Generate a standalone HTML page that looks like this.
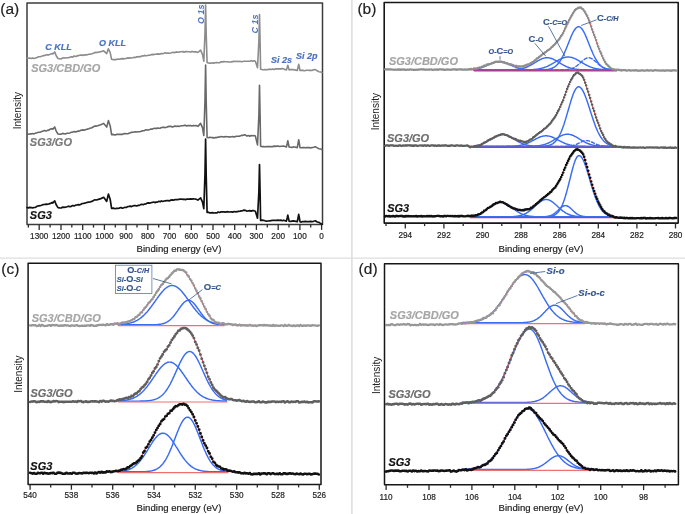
<!DOCTYPE html>
<html><head><meta charset="utf-8"><title>XPS spectra</title>
<style>html,body{margin:0;padding:0;background:#fff;width:685px;height:514px;overflow:hidden}svg{display:block;font-family:"Liberation Sans",sans-serif;filter:blur(0.35px)}</style>
</head><body><svg width="685" height="514" viewBox="0 0 685 514" font-family="Liberation Sans, sans-serif"><rect x="0" y="0" width="685" height="514" fill="#fff"/><line x1="351.9" y1="0" x2="351.9" y2="514" stroke="#dcdcdc" stroke-width="1.5"/><line x1="0" y1="258.1" x2="685" y2="258.1" stroke="#dedede" stroke-width="1.35"/><text x="0.3" y="14" font-size="15.5" fill="#222" stroke="#222" stroke-width="0.18" font-weight="normal" font-style="normal" text-anchor="start" >(a)</text><rect x="27" y="3" width="295.5" height="221.6" fill="none" stroke="#3c3c3c" stroke-width="1.5" stroke-linejoin="round"/><line x1="321.6" y1="224.6" x2="321.6" y2="229.9" stroke="#2b2b2b" stroke-width="1.3"/><text x="321.6" y="238.8" font-size="8.2" fill="#222" stroke="#222" stroke-width="0.18" font-weight="normal" font-style="normal" text-anchor="middle" >0</text><line x1="310.7" y1="224.6" x2="310.7" y2="227.6" stroke="#2b2b2b" stroke-width="1.3"/><line x1="299.9" y1="224.6" x2="299.9" y2="229.9" stroke="#2b2b2b" stroke-width="1.3"/><text x="299.9" y="238.8" font-size="8.2" fill="#222" stroke="#222" stroke-width="0.18" font-weight="normal" font-style="normal" text-anchor="middle" >100</text><line x1="289" y1="224.6" x2="289" y2="227.6" stroke="#2b2b2b" stroke-width="1.3"/><line x1="278.2" y1="224.6" x2="278.2" y2="229.9" stroke="#2b2b2b" stroke-width="1.3"/><text x="278.2" y="238.8" font-size="8.2" fill="#222" stroke="#222" stroke-width="0.18" font-weight="normal" font-style="normal" text-anchor="middle" >200</text><line x1="267.3" y1="224.6" x2="267.3" y2="227.6" stroke="#2b2b2b" stroke-width="1.3"/><line x1="256.4" y1="224.6" x2="256.4" y2="229.9" stroke="#2b2b2b" stroke-width="1.3"/><text x="256.4" y="238.8" font-size="8.2" fill="#222" stroke="#222" stroke-width="0.18" font-weight="normal" font-style="normal" text-anchor="middle" >300</text><line x1="245.6" y1="224.6" x2="245.6" y2="227.6" stroke="#2b2b2b" stroke-width="1.3"/><line x1="234.7" y1="224.6" x2="234.7" y2="229.9" stroke="#2b2b2b" stroke-width="1.3"/><text x="234.7" y="238.8" font-size="8.2" fill="#222" stroke="#222" stroke-width="0.18" font-weight="normal" font-style="normal" text-anchor="middle" >400</text><line x1="223.9" y1="224.6" x2="223.9" y2="227.6" stroke="#2b2b2b" stroke-width="1.3"/><line x1="213" y1="224.6" x2="213" y2="229.9" stroke="#2b2b2b" stroke-width="1.3"/><text x="213" y="238.8" font-size="8.2" fill="#222" stroke="#222" stroke-width="0.18" font-weight="normal" font-style="normal" text-anchor="middle" >500</text><line x1="202.1" y1="224.6" x2="202.1" y2="227.6" stroke="#2b2b2b" stroke-width="1.3"/><line x1="191.3" y1="224.6" x2="191.3" y2="229.9" stroke="#2b2b2b" stroke-width="1.3"/><text x="191.3" y="238.8" font-size="8.2" fill="#222" stroke="#222" stroke-width="0.18" font-weight="normal" font-style="normal" text-anchor="middle" >600</text><line x1="180.4" y1="224.6" x2="180.4" y2="227.6" stroke="#2b2b2b" stroke-width="1.3"/><line x1="169.6" y1="224.6" x2="169.6" y2="229.9" stroke="#2b2b2b" stroke-width="1.3"/><text x="169.6" y="238.8" font-size="8.2" fill="#222" stroke="#222" stroke-width="0.18" font-weight="normal" font-style="normal" text-anchor="middle" >700</text><line x1="158.7" y1="224.6" x2="158.7" y2="227.6" stroke="#2b2b2b" stroke-width="1.3"/><line x1="147.8" y1="224.6" x2="147.8" y2="229.9" stroke="#2b2b2b" stroke-width="1.3"/><text x="147.8" y="238.8" font-size="8.2" fill="#222" stroke="#222" stroke-width="0.18" font-weight="normal" font-style="normal" text-anchor="middle" >800</text><line x1="137" y1="224.6" x2="137" y2="227.6" stroke="#2b2b2b" stroke-width="1.3"/><line x1="126.1" y1="224.6" x2="126.1" y2="229.9" stroke="#2b2b2b" stroke-width="1.3"/><text x="126.1" y="238.8" font-size="8.2" fill="#222" stroke="#222" stroke-width="0.18" font-weight="normal" font-style="normal" text-anchor="middle" >900</text><line x1="115.3" y1="224.6" x2="115.3" y2="227.6" stroke="#2b2b2b" stroke-width="1.3"/><line x1="104.4" y1="224.6" x2="104.4" y2="229.9" stroke="#2b2b2b" stroke-width="1.3"/><text x="104.4" y="238.8" font-size="8.2" fill="#222" stroke="#222" stroke-width="0.18" font-weight="normal" font-style="normal" text-anchor="middle" >1000</text><line x1="93.5" y1="224.6" x2="93.5" y2="227.6" stroke="#2b2b2b" stroke-width="1.3"/><line x1="82.7" y1="224.6" x2="82.7" y2="229.9" stroke="#2b2b2b" stroke-width="1.3"/><text x="82.7" y="238.8" font-size="8.2" fill="#222" stroke="#222" stroke-width="0.18" font-weight="normal" font-style="normal" text-anchor="middle" >1100</text><line x1="71.8" y1="224.6" x2="71.8" y2="227.6" stroke="#2b2b2b" stroke-width="1.3"/><line x1="61" y1="224.6" x2="61" y2="229.9" stroke="#2b2b2b" stroke-width="1.3"/><text x="61" y="238.8" font-size="8.2" fill="#222" stroke="#222" stroke-width="0.18" font-weight="normal" font-style="normal" text-anchor="middle" >1200</text><line x1="50.1" y1="224.6" x2="50.1" y2="227.6" stroke="#2b2b2b" stroke-width="1.3"/><line x1="39.2" y1="224.6" x2="39.2" y2="229.9" stroke="#2b2b2b" stroke-width="1.3"/><text x="39.2" y="238.8" font-size="8.2" fill="#222" stroke="#222" stroke-width="0.18" font-weight="normal" font-style="normal" text-anchor="middle" >1300</text><line x1="28.4" y1="224.6" x2="28.4" y2="227.6" stroke="#2b2b2b" stroke-width="1.3"/><text x="179" y="252" font-size="9.6" fill="#222" stroke="#222" stroke-width="0.18" font-weight="normal" font-style="normal" text-anchor="middle" >Binding energy (eV)</text><text x="20.6" y="110.7" font-size="10" fill="#222" text-anchor="middle" transform="rotate(-90 20.6 110.7)">Intensity</text><path d="M27 58.4 L28.4 58.2 L29.8 58.1 L31.2 58.5 L32.6 58 L34 58.4 L35.5 58 L37 57.4 L38.6 56.7 L40.1 56.7 L41.6 56.3 L43.1 55.6 L44.5 55.6 L46 55 L47.4 54.8 L48.9 54.9 L50.5 54.1 L52.2 53.5 L52.9 54 L54.7 51.9 L56.2 55.8 L58 58.5 L59.8 58.8 L61.2 58.9 L62.7 58 L64.1 57.9 L65.6 58 L67 57.7 L68.4 57.8 L69.9 57.3 L71.3 56.8 L72.7 57.1 L74.1 56 L75.6 56.5 L77 55.9 L78.3 55.6 L79.6 55.3 L80.9 55.1 L82.2 55.1 L83.5 55.4 L84.8 54.7 L86.1 54.9 L87.4 54.7 L88.7 54.3 L90 54.3 L91.8 53.8 L93.5 53.2 L94.9 52.6 L96.2 52.4 L97.6 52.5 L99.2 51.9 L100.8 51.8 L103.7 50.8 L106.7 53.6 L108.4 48.8 L110.2 52.6 L111.6 59.3 L113.3 59.6 L115.1 59.6 L116.5 59.4 L117.9 59.1 L119.3 59.2 L120.8 58.9 L122.2 58.6 L123.6 58.9 L125 58.5 L126.3 58.5 L127.6 57.9 L128.9 58.1 L130.2 57.9 L131.5 58 L132.8 57.7 L134.1 57.2 L135.4 57.6 L136.7 56.7 L138 56.9 L139.3 56.6 L140.6 56.7 L141.9 55.9 L143.2 56 L144.5 55.4 L145.8 55.7 L147.1 55.6 L148.4 55.2 L149.7 55.2 L151 54.7 L152.3 54.4 L153.6 54.6 L154.9 54.3 L156.2 54.2 L157.5 53.9 L158.8 54.1 L160.1 54.1 L161.4 53.5 L162.7 53.6 L164 53.3 L165.4 52.8 L166.7 53.3 L168.1 53.1 L169.4 53.3 L170.8 53 L172.2 52.5 L173.5 52.4 L174.9 52.6 L176.2 51.9 L177.6 52.2 L178.9 52.1 L180.2 51.8 L181.5 51.7 L182.8 51.6 L184.1 52.2 L185.4 51.6 L186.7 51.6 L188 51.8 L189.3 51.7 L190.7 52.1 L192 51.4 L193.3 51.8 L194.7 51.9 L196 51.8 L197.9 52.5 L200.6 50.2 L202.5 54.4 L203.8 61.2 L205 33.1 L205.6 5.1 L206.2 33.9 L207.1 62.6 L208.4 63 L209.8 63.1 L211.1 63.2 L212.5 62.8 L213.8 63.1 L215.2 62.8 L216.7 62.6 L218.2 62.8 L219.6 62.7 L221.1 61.8 L222.5 61.9 L224 61.6 L225.4 61.7 L226.9 61.7 L228.4 61.9 L229.8 62 L231.3 61.9 L232.8 61.6 L234.2 61.3 L235.7 61.5 L237.1 61.4 L238.6 61.5 L240 61.3 L241.3 61.7 L242.7 61.5 L244 61.3 L245.3 61.3 L247 61.3 L248.4 61.3 L249.8 61.3 L251.2 60.6 L252.6 61.3 L254 60.8 L255.4 61.3 L257.5 67.8 L258.9 41.1 L259.5 14.5 L260.1 42 L260.6 69.2 L262.1 69.6 L263.5 69.8 L265 69.6 L266.5 69.8 L268 69.4 L269.5 69.4 L271 69.4 L272.4 69 L273.8 69.4 L275.2 68.9 L276.6 68.8 L278.1 68.9 L279.5 68.8 L280.9 68.9 L282.3 68.6 L283.7 69 L286.4 69.9 L287.2 67.5 L287.8 65.3 L288.4 67.5 L289.1 69.9 L290.5 69.5 L291.9 69.6 L293.2 69.5 L294.6 69.9 L297.3 70.5 L298.1 67 L298.7 64.3 L299.3 67 L300 70.5 L301.3 70.4 L302.6 70.1 L303.9 70.8 L305.2 70.6 L306.6 70.2 L307.9 70.3 L309.2 70.4 L310.5 70.4 L311.8 70.5 L313.6 69.7 L315.4 69.6 L317.2 70.8 L319 71.7 L320.8 72 L322 72.6" fill="none" stroke="#8c8c8c" stroke-width="1.6" stroke-linejoin="round" stroke-linecap="round" /><path d="M27 133.9 L28.4 134.3 L29.8 133.9 L31.2 133.9 L32.6 133.5 L34 133.9 L35.5 133.1 L37 132.8 L38.6 132.3 L40.1 132.3 L41.6 131.6 L43.1 131 L44.5 130.6 L46 131.1 L47.4 130.4 L48.9 130.1 L50.5 129 L52.2 128.6 L52.9 129.2 L54.7 126.9 L56.2 131.1 L58 134 L59.8 134.3 L61.2 134.1 L62.7 133.4 L64.1 133.7 L65.6 133.9 L67 133.2 L68.4 133.3 L69.9 132.9 L71.3 132.2 L72.7 132.1 L74.1 131.6 L75.6 131.9 L77 131.4 L78.3 131.1 L79.6 131 L80.9 130.3 L82.2 129.9 L83.5 130.1 L84.8 129.9 L86.1 129.5 L87.4 129.1 L88.7 128.8 L90 128.2 L91.8 127.7 L93.5 126.7 L94.9 126.1 L96.2 126.1 L97.6 125.8 L99.2 125.2 L100.8 124.8 L103.7 123.4 L106.7 127.1 L108.4 120.6 L110.2 125.9 L111.6 134.7 L113.3 134.4 L115.1 135 L116.5 134.4 L117.9 134.4 L119.3 134.2 L120.8 134.4 L122.2 134.4 L123.6 133.8 L125 133.6 L126.3 133.8 L127.6 133.7 L128.9 133.4 L130.2 132.7 L131.5 132.4 L132.8 132.2 L134.1 132 L135.4 131.8 L136.7 132 L138 131.7 L139.3 131.8 L140.6 131.5 L141.9 130.9 L143.2 130.8 L144.5 130.6 L145.8 129.7 L147.1 130 L148.4 129.9 L149.7 129.5 L151 129 L152.3 129.1 L153.6 128.6 L154.9 128.2 L156.2 128.6 L157.5 128 L158.8 128.3 L160.1 128.2 L161.4 127.5 L162.7 127.4 L164 127.3 L165.4 127.6 L166.7 127.2 L168.1 126.6 L169.4 126.4 L170.8 126.3 L172.2 126.9 L173.5 126.7 L174.9 125.9 L176.2 126.4 L177.6 126 L178.9 126.4 L180.2 126 L181.5 125.7 L182.8 125.8 L184.1 125.4 L185.4 125.2 L186.7 126 L188 125.5 L189.3 125.6 L190.7 125.5 L192 125.9 L193.3 125.4 L194.7 125.8 L196 125.5 L197.9 126.4 L200.6 123.4 L202.5 127.6 L203.8 135.5 L205 100.2 L205.6 65 L206.2 101.2 L207.1 137.4 L208.4 137.8 L209.8 137.3 L211.1 137.5 L212.5 137.6 L213.8 137.9 L215.2 137.5 L216.7 137.6 L218.2 137.1 L219.6 137 L221.1 136.6 L222.5 136.7 L224 137.1 L225.4 136.6 L226.9 136.7 L228.4 136.8 L229.8 137.1 L231.3 136.7 L232.8 136.5 L234.2 136.9 L235.7 136.4 L237.1 136.3 L238.6 136.2 L240 136.1 L241.3 135.4 L242.7 135.4 L244 134.9 L245.3 134.9 L247 136.1 L248.4 135.6 L249.8 136.2 L251.2 135.5 L252.6 135.7 L254 135.6 L255.4 136.1 L257.5 144.9 L258.9 115.1 L259.5 85.3 L260.1 116 L260.6 146.3 L262.1 146.6 L263.5 146.6 L265 146.7 L266.5 146.5 L268 146.6 L269.5 146.6 L271 146.5 L272.4 146.7 L273.8 146.1 L275.2 146.4 L276.6 146.1 L278.1 146.1 L279.5 146.5 L280.9 146.2 L282.3 146.2 L283.7 146.1 L286.4 147 L287.2 143.7 L287.8 140.7 L288.4 143.7 L289.1 147 L290.5 147.2 L291.9 147.4 L293.2 146.9 L294.6 147 L297.3 147.6 L298.1 143.2 L298.7 139.7 L299.3 143.2 L300 147.6 L301.3 147.7 L302.6 147.6 L303.9 147.6 L305.2 147.8 L306.6 147.6 L307.9 147.6 L309.2 147.6 L310.5 148 L311.8 147.6 L313.6 147.3 L315.4 146.7 L317.2 147.9 L319 148.8 L320.8 149 L322 149.6" fill="none" stroke="#686868" stroke-width="1.6" stroke-linejoin="round" stroke-linecap="round" /><path d="M27 207.5 L28.4 207.9 L29.8 207.3 L31.2 207.6 L32.6 207.9 L34 207.5 L35.5 207.4 L37 206.3 L38.6 205.8 L40.1 205.7 L41.6 205.3 L43.1 204.6 L44.5 204.5 L46 204.1 L47.4 204.3 L48.9 203.9 L50.5 203.4 L52.2 202.4 L52.9 203 L54.7 200.8 L56.2 204.8 L58 207.6 L59.8 207.9 L61.2 208 L62.7 207.1 L64.1 207.4 L65.6 207.2 L67 206.8 L68.4 206.2 L69.9 206.6 L71.3 206.4 L72.7 205.5 L74.1 205.9 L75.6 205.2 L77 205 L78.3 204.7 L79.6 204.8 L80.9 204.4 L82.2 203.5 L83.5 203.4 L84.8 203.2 L86.1 202.7 L87.4 202.3 L88.7 202.1 L90 202 L91.8 201.4 L93.5 200.5 L94.9 199.8 L96.2 200 L97.6 199.6 L99.2 199.1 L100.8 198.6 L103.7 197.3 L106.7 201.4 L108.4 194.1 L110.2 199.5 L111.6 208.4 L113.3 208.1 L115.1 208.7 L116.5 208.3 L117.9 208.4 L119.3 208.1 L120.8 207.5 L122.2 208.1 L123.6 207.8 L125 207.3 L126.3 207.5 L127.6 206.6 L128.9 206.5 L130.2 206.1 L131.5 206.6 L132.8 206 L134.1 205.6 L135.4 205.7 L136.7 206 L138 205.4 L139.3 205.4 L140.6 204.6 L141.9 204.3 L143.2 204.7 L144.5 204.1 L145.8 204 L147.1 203.1 L148.4 202.8 L149.7 203.1 L151 202.7 L152.3 202.5 L153.6 202 L154.9 202.6 L156.2 202.1 L157.5 202.1 L158.8 201.3 L160.1 201.8 L161.4 200.9 L162.7 201.5 L164 201 L165.4 200.8 L166.7 200.6 L168.1 200.7 L169.4 200.9 L170.8 200.1 L172.2 199.9 L173.5 200.1 L174.9 199.7 L176.2 199.5 L177.6 199.7 L178.9 199.3 L180.2 199.2 L181.5 199.2 L182.8 199.3 L184.1 199.2 L185.4 199.6 L186.7 199.1 L188 199.2 L189.3 199.2 L190.7 198.9 L192 199.1 L193.3 198.8 L194.7 199 L196 199.2 L197.9 200.1 L200.6 197.9 L202.5 202.1 L203.8 208.7 L205 173.9 L205.6 139.1 L206.2 175.8 L207.1 212.5 L208.4 212.2 L209.8 212.9 L211.1 212.8 L212.5 212.6 L213.8 213 L215.2 212.8 L216.7 213 L218.2 212 L219.6 212.5 L221.1 211.9 L222.5 211.8 L224 211.8 L225.4 212.1 L226.9 211.7 L228.4 211.8 L229.8 212 L231.3 211.8 L232.8 212.1 L234.2 211.5 L235.7 211.8 L237.1 211.6 L238.6 211.4 L240 211.2 L241.3 210.9 L242.7 210.6 L244 210.1 L245.3 210.3 L247 211.2 L248.4 210.8 L249.8 210.6 L251.2 211.1 L252.6 210.6 L254 210.7 L255.4 211.2 L257.5 218.2 L258.9 191.3 L259.5 164.5 L260.1 192.7 L260.6 220.4 L262.1 220.2 L263.5 220.3 L265 220.8 L266.5 221.1 L268 221 L269.5 220.8 L271 220.6 L272.4 220.4 L273.8 220.3 L275.2 220.3 L276.6 220.4 L278.1 220.1 L279.5 220.3 L280.9 220.1 L282.3 220.7 L283.7 220.2 L286.4 221.1 L287.2 218 L287.8 215.2 L288.4 218 L289.1 221.1 L290.5 221.5 L291.9 221.1 L293.2 220.9 L294.6 221.1 L297.3 221.7 L298.1 217.6 L298.7 214.4 L299.3 217.6 L300 221.7 L301.3 222.1 L302.6 221.5 L303.9 221.6 L305.2 221.3 L306.6 221.6 L307.9 221.7 L309.2 221.7 L310.5 221.4 L311.8 221.7 L313.6 221.3 L315.4 220.8 L317.2 222 L319 222.4 L320.8 223.6 L322 224.2" fill="none" stroke="#111" stroke-width="1.7" stroke-linejoin="round" stroke-linecap="round" /><text x="45.2" y="49.5" font-size="9" fill="#4a72c0" stroke="#4a72c0" stroke-width="0.18" font-weight="bold" font-style="italic" text-anchor="start" >C KLL</text><text x="99" y="46" font-size="9" fill="#4a72c0" stroke="#4a72c0" stroke-width="0.18" font-weight="bold" font-style="italic" text-anchor="start" >O KLL</text><text x="271" y="63.3" font-size="9" fill="#4a72c0" stroke="#4a72c0" stroke-width="0.18" font-weight="bold" font-style="italic" text-anchor="start" >Si 2s</text><text x="296" y="59.2" font-size="9" fill="#4a72c0" stroke="#4a72c0" stroke-width="0.18" font-weight="bold" font-style="italic" text-anchor="start" >Si 2p</text><text x="204.4" y="24" font-size="9" fill="#4a72c0" font-weight="bold" font-style="italic" transform="rotate(-90 204.4 24)">O 1s</text><text x="258.1" y="33.4" font-size="9" fill="#4a72c0" font-weight="bold" font-style="italic" transform="rotate(-90 258.1 33.4)">C 1s</text><text x="31.2" y="71.7" font-size="11" fill="#a6a6a6" stroke="#a6a6a6" stroke-width="0.18" font-weight="bold" font-style="italic" text-anchor="start" >SG3/CBD/GO</text><text x="29.8" y="146.3" font-size="11" fill="#7a7a7a" stroke="#7a7a7a" stroke-width="0.18" font-weight="bold" font-style="italic" text-anchor="start" >SG3/GO</text><text x="29.8" y="219" font-size="11" fill="#151515" stroke="#151515" stroke-width="0.18" font-weight="bold" font-style="italic" text-anchor="start" >SG3</text><text x="357.4" y="14" font-size="15.5" fill="#222" stroke="#222" stroke-width="0.18" font-weight="normal" font-style="normal" text-anchor="start" >(b)</text><rect x="384.2" y="2.5" width="294" height="220.6" fill="none" stroke="#161616" stroke-width="1.6" stroke-linejoin="round"/><line x1="675.5" y1="223.1" x2="675.5" y2="228.4" stroke="#2b2b2b" stroke-width="1.3"/><text x="675.5" y="238" font-size="8.2" fill="#222" stroke="#222" stroke-width="0.18" font-weight="normal" font-style="normal" text-anchor="middle" >280</text><line x1="656.2" y1="223.1" x2="656.2" y2="226.1" stroke="#2b2b2b" stroke-width="1.3"/><line x1="636.9" y1="223.1" x2="636.9" y2="228.4" stroke="#2b2b2b" stroke-width="1.3"/><text x="636.9" y="238" font-size="8.2" fill="#222" stroke="#222" stroke-width="0.18" font-weight="normal" font-style="normal" text-anchor="middle" >282</text><line x1="617.6" y1="223.1" x2="617.6" y2="226.1" stroke="#2b2b2b" stroke-width="1.3"/><line x1="598.3" y1="223.1" x2="598.3" y2="228.4" stroke="#2b2b2b" stroke-width="1.3"/><text x="598.3" y="238" font-size="8.2" fill="#222" stroke="#222" stroke-width="0.18" font-weight="normal" font-style="normal" text-anchor="middle" >284</text><line x1="579" y1="223.1" x2="579" y2="226.1" stroke="#2b2b2b" stroke-width="1.3"/><line x1="559.7" y1="223.1" x2="559.7" y2="228.4" stroke="#2b2b2b" stroke-width="1.3"/><text x="559.7" y="238" font-size="8.2" fill="#222" stroke="#222" stroke-width="0.18" font-weight="normal" font-style="normal" text-anchor="middle" >286</text><line x1="540.4" y1="223.1" x2="540.4" y2="226.1" stroke="#2b2b2b" stroke-width="1.3"/><line x1="521.1" y1="223.1" x2="521.1" y2="228.4" stroke="#2b2b2b" stroke-width="1.3"/><text x="521.1" y="238" font-size="8.2" fill="#222" stroke="#222" stroke-width="0.18" font-weight="normal" font-style="normal" text-anchor="middle" >288</text><line x1="501.8" y1="223.1" x2="501.8" y2="226.1" stroke="#2b2b2b" stroke-width="1.3"/><line x1="482.5" y1="223.1" x2="482.5" y2="228.4" stroke="#2b2b2b" stroke-width="1.3"/><text x="482.5" y="238" font-size="8.2" fill="#222" stroke="#222" stroke-width="0.18" font-weight="normal" font-style="normal" text-anchor="middle" >290</text><line x1="463.2" y1="223.1" x2="463.2" y2="226.1" stroke="#2b2b2b" stroke-width="1.3"/><line x1="443.9" y1="223.1" x2="443.9" y2="228.4" stroke="#2b2b2b" stroke-width="1.3"/><text x="443.9" y="238" font-size="8.2" fill="#222" stroke="#222" stroke-width="0.18" font-weight="normal" font-style="normal" text-anchor="middle" >292</text><line x1="424.6" y1="223.1" x2="424.6" y2="226.1" stroke="#2b2b2b" stroke-width="1.3"/><line x1="405.3" y1="223.1" x2="405.3" y2="228.4" stroke="#2b2b2b" stroke-width="1.3"/><text x="405.3" y="238" font-size="8.2" fill="#222" stroke="#222" stroke-width="0.18" font-weight="normal" font-style="normal" text-anchor="middle" >294</text><line x1="386" y1="223.1" x2="386" y2="226.1" stroke="#2b2b2b" stroke-width="1.3"/><text x="541" y="251.6" font-size="9.6" fill="#222" stroke="#222" stroke-width="0.18" font-weight="normal" font-style="normal" text-anchor="middle" >Binding energy (eV)</text><text x="378.8" y="111.7" font-size="10" fill="#222" text-anchor="middle" transform="rotate(-90 378.8 111.7)">Intensity</text><path d="M474 69.9 L474.6 69.9 L475.2 69.9 L475.8 69.9 L476.4 69.9 L477 69.9 L477.6 69.9 L478.2 69.9 L478.8 69.9 L479.4 69.9 L480 69.9 L480.6 69.9 L481.2 69.9 L481.8 69.9 L482.4 69.9 L483 69.9 L483.6 69.9 L484.2 69.9 L484.8 69.9 L485.4 69.9 L486 69.9 L486.6 69.9 L487.2 69.9 L487.8 69.9 L488.4 69.9 L489 69.9 L489.6 69.9 L490.2 69.9 L490.8 69.9 L491.4 69.9 L492 69.9 L492.6 69.9 L493.2 69.9 L493.8 69.9 L494.4 69.9 L495 69.9 L495.6 69.9 L496.2 69.9 L496.8 69.9 L497.4 69.9 L498 69.9 L498.6 69.9 L499.2 69.9 L499.8 69.9 L500.4 69.9 L501 69.9 L501.6 69.9 L502.2 69.9 L502.8 69.9 L503.4 69.9 L504 69.9 L504.6 69.9 L505.2 69.9 L505.8 69.9 L506.4 69.9 L507 69.9 L507.6 69.9 L508.2 69.9 L508.8 69.9 L509.4 69.9 L510 69.9 L510.6 69.9 L511.2 69.9 L511.8 69.9 L512.4 69.9 L513 69.9 L513.6 69.9 L514.2 69.9 L514.8 69.9 L515.4 69.9 L516 69.9 L516.6 69.9 L517.2 69.9 L517.8 69.9 L518.4 69.9 L519 69.9 L519.6 69.9 L520.2 69.9 L520.8 69.9 L521.4 69.9 L522 69.9 L522.6 69.9 L523.2 69.9 L523.8 69.9 L524.4 69.9 L525 69.9 L525.6 69.9 L526.2 69.9 L526.8 69.9 L527.4 69.9 L528 69.9 L528.6 69.9 L529.2 69.9 L529.8 69.9 L530.4 69.9 L531 69.9 L531.6 69.9 L532.2 69.9 L532.8 69.9 L533.4 69.9 L534 69.9 L534.6 69.9 L535.2 69.9 L535.8 69.9 L536.4 69.9 L537 69.9 L537.6 69.9 L538.2 69.9 L538.8 69.9 L539.4 69.9 L540 69.9 L540.6 69.8 L541.2 69.8 L541.8 69.8 L542.4 69.8 L543 69.8 L543.6 69.7 L544.2 69.7 L544.8 69.7 L545.4 69.6 L546 69.6 L546.6 69.5 L547.2 69.4 L547.8 69.4 L548.4 69.3 L549 69.1 L549.6 69 L550.2 68.9 L550.8 68.7 L551.4 68.5 L552 68.3 L552.6 68 L553.2 67.7 L553.8 67.4 L554.4 67 L555 66.6 L555.6 66.2 L556.2 65.7 L556.8 65.1 L557.4 64.5 L558 63.8 L558.6 63.1 L559.2 62.3 L559.8 61.5 L560.4 60.6 L561 59.6 L561.6 58.5 L562.2 57.4 L562.8 56.3 L563.4 55.1 L564 53.8 L564.6 52.4 L565.2 51.1 L565.8 49.6 L566.4 48.2 L567 46.7 L567.6 45.2 L568.2 43.7 L568.8 42.2 L569.4 40.7 L570 39.2 L570.6 37.8 L571.2 36.4 L571.8 35 L572.4 33.7 L573 32.5 L573.6 31.4 L574.2 30.4 L574.8 29.5 L575.4 28.7 L576 28 L576.6 27.5 L577.2 27.1 L577.8 26.8 L578.4 26.7 L579 26.7 L579.6 26.9 L580.2 27.2 L580.8 27.7 L581.4 28.3 L582 29 L582.6 29.8 L583.2 30.8 L583.8 31.9 L584.4 33 L585 34.3 L585.6 35.6 L586.2 37 L586.8 38.4 L587.4 39.9 L588 41.4 L588.6 42.9 L589.2 44.5 L589.8 46 L590.4 47.5 L591 49 L591.6 50.4 L592.2 51.8 L592.8 53.2 L593.4 54.5 L594 55.8 L594.6 57 L595.2 58.1 L595.8 59.2 L596.4 60.2 L597 61.1 L597.6 62 L598.2 62.8 L598.8 63.6 L599.4 64.3 L600 64.9 L600.6 65.5 L601.2 66 L601.8 66.5 L602.4 66.9 L603 67.3 L603.6 67.6 L604.2 67.9 L604.8 68.2 L605.4 68.4 L606 68.6 L606.6 68.8 L607.2 69 L607.8 69.1 L608.4 69.2 L609 69.3 L609.6 69.4 L610.2 69.5 L610.8 69.6 L611.4 69.6 L612 69.7 L612.6 69.7 L613.2 69.7 L613.8 69.8 L614.4 69.8 L615 69.8 L615.6 69.8" fill="none" stroke="#3a6cf2" stroke-width="1.45" stroke-linejoin="round" stroke-linecap="round" /><path d="M474 69.9 L474.6 69.9 L475.2 69.9 L475.8 69.9 L476.4 69.9 L477 69.9 L477.6 69.9 L478.2 69.9 L478.8 69.9 L479.4 69.9 L480 69.9 L480.6 69.9 L481.2 69.9 L481.8 69.9 L482.4 69.9 L483 69.9 L483.6 69.9 L484.2 69.9 L484.8 69.9 L485.4 69.9 L486 69.9 L486.6 69.9 L487.2 69.9 L487.8 69.9 L488.4 69.9 L489 69.9 L489.6 69.9 L490.2 69.9 L490.8 69.9 L491.4 69.9 L492 69.9 L492.6 69.9 L493.2 69.9 L493.8 69.9 L494.4 69.9 L495 69.9 L495.6 69.9 L496.2 69.9 L496.8 69.9 L497.4 69.9 L498 69.9 L498.6 69.9 L499.2 69.9 L499.8 69.9 L500.4 69.9 L501 69.9 L501.6 69.9 L502.2 69.9 L502.8 69.9 L503.4 69.9 L504 69.9 L504.6 69.9 L505.2 69.9 L505.8 69.9 L506.4 69.9 L507 69.9 L507.6 69.9 L508.2 69.9 L508.8 69.9 L509.4 69.9 L510 69.9 L510.6 69.9 L511.2 69.9 L511.8 69.9 L512.4 69.9 L513 69.9 L513.6 69.9 L514.2 69.9 L514.8 69.9 L515.4 69.9 L516 69.9 L516.6 69.9 L517.2 69.9 L517.8 69.9 L518.4 69.9 L519 69.9 L519.6 69.9 L520.2 69.9 L520.8 69.9 L521.4 69.9 L522 69.9 L522.6 69.9 L523.2 69.9 L523.8 69.9 L524.4 69.9 L525 69.8 L525.6 69.8 L526.2 69.8 L526.8 69.8 L527.4 69.8 L528 69.8 L528.6 69.8 L529.2 69.8 L529.8 69.7 L530.4 69.7 L531 69.7 L531.6 69.6 L532.2 69.6 L532.8 69.6 L533.4 69.5 L534 69.5 L534.6 69.4 L535.2 69.4 L535.8 69.3 L536.4 69.2 L537 69.2 L537.6 69.1 L538.2 69 L538.8 68.9 L539.4 68.8 L540 68.7 L540.6 68.5 L541.2 68.4 L541.8 68.2 L542.4 68.1 L543 67.9 L543.6 67.7 L544.2 67.5 L544.8 67.3 L545.4 67.1 L546 66.9 L546.6 66.6 L547.2 66.4 L547.8 66.1 L548.4 65.8 L549 65.5 L549.6 65.2 L550.2 64.9 L550.8 64.6 L551.4 64.2 L552 63.9 L552.6 63.6 L553.2 63.2 L553.8 62.9 L554.4 62.5 L555 62.1 L555.6 61.8 L556.2 61.4 L556.8 61.1 L557.4 60.7 L558 60.4 L558.6 60 L559.2 59.7 L559.8 59.4 L560.4 59.1 L561 58.8 L561.6 58.5 L562.2 58.3 L562.8 58 L563.4 57.8 L564 57.6 L564.6 57.5 L565.2 57.3 L565.8 57.2 L566.4 57.1 L567 57 L567.6 57 L568.2 57 L568.8 57 L569.4 57.1 L570 57.1 L570.6 57.2 L571.2 57.4 L571.8 57.5 L572.4 57.7 L573 57.9 L573.6 58.1 L574.2 58.3 L574.8 58.6 L575.4 58.9 L576 59.2 L576.6 59.5 L577.2 59.8 L577.8 60.1 L578.4 60.5 L579 60.8 L579.6 61.2 L580.2 61.5 L580.8 61.9 L581.4 62.3 L582 62.6 L582.6 63 L583.2 63.3 L583.8 63.7 L584.4 64 L585 64.4 L585.6 64.7 L586.2 65 L586.8 65.3 L587.4 65.6 L588 65.9 L588.6 66.2 L589.2 66.4 L589.8 66.7 L590.4 66.9 L591 67.2 L591.6 67.4 L592.2 67.6 L592.8 67.8 L593.4 68 L594 68.1 L594.6 68.3 L595.2 68.4 L595.8 68.6 L596.4 68.7 L597 68.8 L597.6 68.9 L598.2 69 L598.8 69.1 L599.4 69.2 L600 69.3 L600.6 69.3 L601.2 69.4 L601.8 69.5 L602.4 69.5 L603 69.5 L603.6 69.6 L604.2 69.6 L604.8 69.7 L605.4 69.7 L606 69.7 L606.6 69.7 L607.2 69.8 L607.8 69.8 L608.4 69.8 L609 69.8 L609.6 69.8 L610.2 69.8 L610.8 69.8 L611.4 69.8 L612 69.9 L612.6 69.9 L613.2 69.9 L613.8 69.9 L614.4 69.9 L615 69.9 L615.6 69.9" fill="none" stroke="#3a6cf2" stroke-width="1.45" stroke-linejoin="round" stroke-linecap="round" /><path d="M474 69.9 L474.6 69.9 L475.2 69.9 L475.8 69.9 L476.4 69.9 L477 69.9 L477.6 69.9 L478.2 69.9 L478.8 69.9 L479.4 69.9 L480 69.9 L480.6 69.9 L481.2 69.9 L481.8 69.9 L482.4 69.9 L483 69.9 L483.6 69.9 L484.2 69.9 L484.8 69.9 L485.4 69.9 L486 69.9 L486.6 69.9 L487.2 69.9 L487.8 69.9 L488.4 69.9 L489 69.9 L489.6 69.9 L490.2 69.9 L490.8 69.9 L491.4 69.9 L492 69.9 L492.6 69.9 L493.2 69.9 L493.8 69.9 L494.4 69.9 L495 69.9 L495.6 69.9 L496.2 69.9 L496.8 69.9 L497.4 69.9 L498 69.9 L498.6 69.9 L499.2 69.9 L499.8 69.9 L500.4 69.9 L501 69.9 L501.6 69.9 L502.2 69.9 L502.8 69.9 L503.4 69.9 L504 69.9 L504.6 69.9 L505.2 69.9 L505.8 69.9 L506.4 69.9 L507 69.9 L507.6 69.8 L508.2 69.8 L508.8 69.8 L509.4 69.8 L510 69.8 L510.6 69.8 L511.2 69.8 L511.8 69.7 L512.4 69.7 L513 69.7 L513.6 69.7 L514.2 69.6 L514.8 69.6 L515.4 69.5 L516 69.5 L516.6 69.4 L517.2 69.4 L517.8 69.3 L518.4 69.2 L519 69.1 L519.6 69 L520.2 68.9 L520.8 68.8 L521.4 68.7 L522 68.5 L522.6 68.4 L523.2 68.2 L523.8 68 L524.4 67.9 L525 67.7 L525.6 67.4 L526.2 67.2 L526.8 67 L527.4 66.7 L528 66.5 L528.6 66.2 L529.2 65.9 L529.8 65.6 L530.4 65.3 L531 64.9 L531.6 64.6 L532.2 64.3 L532.8 63.9 L533.4 63.5 L534 63.2 L534.6 62.8 L535.2 62.4 L535.8 62.1 L536.4 61.7 L537 61.3 L537.6 61 L538.2 60.6 L538.8 60.3 L539.4 60 L540 59.7 L540.6 59.4 L541.2 59.1 L541.8 58.8 L542.4 58.6 L543 58.4 L543.6 58.2 L544.2 58.1 L544.8 57.9 L545.4 57.8 L546 57.8 L546.6 57.7 L547.2 57.7 L547.8 57.7 L548.4 57.8 L549 57.9 L549.6 58 L550.2 58.1 L550.8 58.3 L551.4 58.5 L552 58.7 L552.6 58.9 L553.2 59.2 L553.8 59.5 L554.4 59.8 L555 60.1 L555.6 60.4 L556.2 60.7 L556.8 61.1 L557.4 61.5 L558 61.8 L558.6 62.2 L559.2 62.6 L559.8 62.9 L560.4 63.3 L561 63.7 L561.6 64 L562.2 64.4 L562.8 64.7 L563.4 65.1 L564 65.4 L564.6 65.7 L565.2 66 L565.8 66.3 L566.4 66.6 L567 66.8 L567.6 67.1 L568.2 67.3 L568.8 67.5 L569.4 67.7 L570 67.9 L570.6 68.1 L571.2 68.3 L571.8 68.4 L572.4 68.6 L573 68.7 L573.6 68.8 L574.2 68.9 L574.8 69.1 L575.4 69.1 L576 69.2 L576.6 69.3 L577.2 69.4 L577.8 69.4 L578.4 69.5 L579 69.5 L579.6 69.6 L580.2 69.6 L580.8 69.7 L581.4 69.7 L582 69.7 L582.6 69.7 L583.2 69.8 L583.8 69.8 L584.4 69.8 L585 69.8 L585.6 69.8 L586.2 69.8 L586.8 69.8 L587.4 69.9 L588 69.9 L588.6 69.9 L589.2 69.9 L589.8 69.9 L590.4 69.9 L591 69.9 L591.6 69.9 L592.2 69.9 L592.8 69.9 L593.4 69.9 L594 69.9 L594.6 69.9 L595.2 69.9 L595.8 69.9 L596.4 69.9 L597 69.9 L597.6 69.9 L598.2 69.9 L598.8 69.9 L599.4 69.9 L600 69.9 L600.6 69.9 L601.2 69.9 L601.8 69.9 L602.4 69.9 L603 69.9 L603.6 69.9 L604.2 69.9 L604.8 69.9 L605.4 69.9 L606 69.9 L606.6 69.9 L607.2 69.9 L607.8 69.9 L608.4 69.9 L609 69.9 L609.6 69.9 L610.2 69.9 L610.8 69.9 L611.4 69.9 L612 69.9 L612.6 69.9 L613.2 69.9 L613.8 69.9 L614.4 69.9 L615 69.9 L615.6 69.9" fill="none" stroke="#3a6cf2" stroke-width="1.45" stroke-linejoin="round" stroke-linecap="round" /><path d="M474 69.3 L474.6 69.2 L475.2 69.1 L475.8 69 L476.4 68.9 L477 68.8 L477.6 68.7 L478.2 68.6 L478.8 68.4 L479.4 68.3 L480 68.1 L480.6 67.9 L481.2 67.8 L481.8 67.6 L482.4 67.3 L483 67.1 L483.6 66.9 L484.2 66.7 L484.8 66.4 L485.4 66.2 L486 65.9 L486.6 65.6 L487.2 65.4 L487.8 65.1 L488.4 64.8 L489 64.6 L489.6 64.3 L490.2 64 L490.8 63.8 L491.4 63.5 L492 63.3 L492.6 63.1 L493.2 62.8 L493.8 62.6 L494.4 62.4 L495 62.3 L495.6 62.1 L496.2 62 L496.8 61.9 L497.4 61.8 L498 61.7 L498.6 61.7 L499.2 61.7 L499.8 61.7 L500.4 61.7 L501 61.8 L501.6 61.9 L502.2 62 L502.8 62.1 L503.4 62.3 L504 62.4 L504.6 62.6 L505.2 62.8 L505.8 63.1 L506.4 63.3 L507 63.5 L507.6 63.8 L508.2 64 L508.8 64.3 L509.4 64.6 L510 64.8 L510.6 65.1 L511.2 65.4 L511.8 65.6 L512.4 65.9 L513 66.2 L513.6 66.4 L514.2 66.7 L514.8 66.9 L515.4 67.1 L516 67.3 L516.6 67.6 L517.2 67.8 L517.8 67.9 L518.4 68.1 L519 68.3 L519.6 68.4 L520.2 68.6 L520.8 68.7 L521.4 68.8 L522 68.9 L522.6 69 L523.2 69.1 L523.8 69.2 L524.4 69.3 L525 69.4 L525.6 69.4 L526.2 69.5 L526.8 69.5 L527.4 69.6 L528 69.6 L528.6 69.7 L529.2 69.7 L529.8 69.7 L530.4 69.8 L531 69.8 L531.6 69.8 L532.2 69.8 L532.8 69.8 L533.4 69.8 L534 69.8 L534.6 69.9 L535.2 69.9 L535.8 69.9 L536.4 69.9 L537 69.9 L537.6 69.9 L538.2 69.9 L538.8 69.9 L539.4 69.9 L540 69.9 L540.6 69.9 L541.2 69.9 L541.8 69.9 L542.4 69.9 L543 69.9 L543.6 69.9 L544.2 69.9 L544.8 69.9 L545.4 69.9 L546 69.9 L546.6 69.9 L547.2 69.9 L547.8 69.9 L548.4 69.9 L549 69.9 L549.6 69.9 L550.2 69.9 L550.8 69.9 L551.4 69.9 L552 69.9 L552.6 69.9 L553.2 69.9 L553.8 69.9 L554.4 69.9 L555 69.9 L555.6 69.9 L556.2 69.9 L556.8 69.9 L557.4 69.9 L558 69.9 L558.6 69.9 L559.2 69.9 L559.8 69.9 L560.4 69.9 L561 69.9 L561.6 69.9 L562.2 69.9 L562.8 69.9 L563.4 69.9 L564 69.9 L564.6 69.9 L565.2 69.9 L565.8 69.9 L566.4 69.9 L567 69.9 L567.6 69.9 L568.2 69.9 L568.8 69.9 L569.4 69.9 L570 69.9 L570.6 69.9 L571.2 69.9 L571.8 69.9 L572.4 69.9 L573 69.9 L573.6 69.9 L574.2 69.9 L574.8 69.9 L575.4 69.9 L576 69.9 L576.6 69.9 L577.2 69.9 L577.8 69.9 L578.4 69.9 L579 69.9 L579.6 69.9 L580.2 69.9 L580.8 69.9 L581.4 69.9 L582 69.9 L582.6 69.9 L583.2 69.9 L583.8 69.9 L584.4 69.9 L585 69.9 L585.6 69.9 L586.2 69.9 L586.8 69.9 L587.4 69.9 L588 69.9 L588.6 69.9 L589.2 69.9 L589.8 69.9 L590.4 69.9 L591 69.9 L591.6 69.9 L592.2 69.9 L592.8 69.9 L593.4 69.9 L594 69.9 L594.6 69.9 L595.2 69.9 L595.8 69.9 L596.4 69.9 L597 69.9 L597.6 69.9 L598.2 69.9 L598.8 69.9 L599.4 69.9 L600 69.9 L600.6 69.9 L601.2 69.9 L601.8 69.9 L602.4 69.9 L603 69.9 L603.6 69.9 L604.2 69.9 L604.8 69.9 L605.4 69.9 L606 69.9 L606.6 69.9 L607.2 69.9 L607.8 69.9 L608.4 69.9 L609 69.9 L609.6 69.9 L610.2 69.9 L610.8 69.9 L611.4 69.9 L612 69.9 L612.6 69.9 L613.2 69.9 L613.8 69.9 L614.4 69.9 L615 69.9 L615.6 69.9" fill="none" stroke="#3a6cf2" stroke-width="1.45" stroke-linejoin="round" stroke-linecap="round" /><path d="M474 69.9 L474.6 69.9 L475.2 69.9 L475.8 69.9 L476.4 69.9 L477 69.9 L477.6 69.9 L478.2 69.9 L478.8 69.9 L479.4 69.9 L480 69.9 L480.6 69.9 L481.2 69.9 L481.8 69.9 L482.4 69.9 L483 69.9 L483.6 69.9 L484.2 69.9 L484.8 69.9 L485.4 69.9 L486 69.9 L486.6 69.9 L487.2 69.9 L487.8 69.9 L488.4 69.9 L489 69.9 L489.6 69.9 L490.2 69.9 L490.8 69.9 L491.4 69.9 L492 69.9 L492.6 69.9 L493.2 69.9 L493.8 69.9 L494.4 69.9 L495 69.9 L495.6 69.9 L496.2 69.9 L496.8 69.9 L497.4 69.9 L498 69.9 L498.6 69.9 L499.2 69.9 L499.8 69.9 L500.4 69.9 L501 69.9 L501.6 69.9 L502.2 69.9 L502.8 69.9 L503.4 69.9 L504 69.9 L504.6 69.9 L505.2 69.9 L505.8 69.9 L506.4 69.9 L507 69.9 L507.6 69.9 L508.2 69.9 L508.8 69.9 L509.4 69.9 L510 69.9 L510.6 69.9 L511.2 69.9 L511.8 69.9 L512.4 69.9 L513 69.9 L513.6 69.9 L514.2 69.9 L514.8 69.9 L515.4 69.9 L516 69.9 L516.6 69.9 L517.2 69.9 L517.8 69.9 L518.4 69.9 L519 69.9 L519.6 69.9 L520.2 69.9 L520.8 69.9 L521.4 69.9 L522 69.9 L522.6 69.9 L523.2 69.9 L523.8 69.9 L524.4 69.9 L525 69.9 L525.6 69.9 L526.2 69.9 L526.8 69.9 L527.4 69.9 L528 69.9 L528.6 69.9 L529.2 69.9 L529.8 69.9 L530.4 69.9 L531 69.9 L531.6 69.9 L532.2 69.9 L532.8 69.9 L533.4 69.9 L534 69.9 L534.6 69.9 L535.2 69.9 L535.8 69.9 L536.4 69.9 L537 69.9 L537.6 69.9 L538.2 69.9 L538.8 69.9 L539.4 69.9 L540 69.9 L540.6 69.9 L541.2 69.9 L541.8 69.9 L542.4 69.9 L543 69.9 L543.6 69.9 L544.2 69.9 L544.8 69.9 L545.4 69.9 L546 69.9 L546.6 69.9 L547.2 69.9 L547.8 69.9 L548.4 69.9 L549 69.9 L549.6 69.9 L550.2 69.9 L550.8 69.9 L551.4 69.9 L552 69.9 L552.6 69.9 L553.2 69.9 L553.8 69.9 L554.4 69.9 L555 69.9 L555.6 69.9 L556.2 69.9 L556.8 69.9 L557.4 69.9 L558 69.9 L558.6 69.9 L559.2 69.9 L559.8 69.9 L560.4 69.9 L561 69.9 L561.6 69.9 L562.2 69.8 L562.8 69.8 L563.4 69.8 L564 69.8 L564.6 69.8 L565.2 69.7 L565.8 69.7 L566.4 69.6 L567 69.6 L567.6 69.5 L568.2 69.4 L568.8 69.3 L569.4 69.2 L570 69.1 L570.6 68.9 L571.2 68.8 L571.8 68.6 L572.4 68.3 L573 68.1 L573.6 67.8 L574.2 67.5 L574.8 67.2 L575.4 66.8 L576 66.4 L576.6 66 L577.2 65.5 L577.8 65 L578.4 64.5 L579 64 L579.6 63.5 L580.2 62.9 L580.8 62.4 L581.4 61.8 L582 61.3 L582.6 60.8 L583.2 60.3 L583.8 59.8 L584.4 59.4 L585 59 L585.6 58.6 L586.2 58.3 L586.8 58.1 L587.4 57.9 L588 57.8 L588.6 57.8 L589.2 57.8 L589.8 57.9 L590.4 58.1 L591 58.3 L591.6 58.6 L592.2 59 L592.8 59.4 L593.4 59.8 L594 60.3 L594.6 60.8 L595.2 61.3 L595.8 61.8 L596.4 62.4 L597 62.9 L597.6 63.5 L598.2 64 L598.8 64.5 L599.4 65 L600 65.5 L600.6 66 L601.2 66.4 L601.8 66.8 L602.4 67.2 L603 67.5 L603.6 67.8 L604.2 68.1 L604.8 68.3 L605.4 68.6 L606 68.8 L606.6 68.9 L607.2 69.1 L607.8 69.2 L608.4 69.3 L609 69.4 L609.6 69.5 L610.2 69.6 L610.8 69.6 L611.4 69.7 L612 69.7 L612.6 69.8 L613.2 69.8 L613.8 69.8 L614.4 69.8 L615 69.8 L615.6 69.9" fill="none" stroke="#3a6cf2" stroke-width="1.45" stroke-linejoin="round" stroke-linecap="round" stroke-dasharray="3.2 2.2"/><line x1="474" y1="70.8" x2="617" y2="70.8" stroke="#c8326e" stroke-width="1.2"/><path d="M470 69.4 L470.5 69.3 L471 69.2 L471.5 69.2 L472 69.1 L472.5 69 L473 68.9 L473.5 68.9 L474 68.8 L474.5 68.7 L475 68.6 L475.5 68.5 L476 68.4 L476.5 68.3 L477 68.2 L477.5 68.1 L478 68 L478.5 67.9 L479 67.8 L479.5 67.6 L480 67.5 L480.5 67.3 L481 67.2 L481.5 67 L482 66.8 L482.5 66.6 L483 66.4 L483.5 66.2 L484 66 L484.5 65.8 L485 65.6 L485.5 65.4 L486 65.2 L486.5 65 L487 64.8 L487.5 64.6 L488 64.4 L488.5 64.3 L489 64.1 L489.5 64 L490 63.8 L490.5 63.6 L491 63.5 L491.5 63.3 L492 63.1 L492.5 63 L493 62.8 L493.5 62.7 L494 62.5 L494.5 62.4 L495 62.3 L495.5 62.2 L496 62.1 L496.5 62 L497 61.9 L497.5 61.8 L498 61.8 L498.5 61.7 L499 61.7 L499.5 61.7 L500 61.7 L500.5 61.8 L501 61.8 L501.5 61.9 L502 62 L502.5 62.1 L503 62.2 L503.5 62.4 L504 62.5 L504.5 62.7 L505 62.8 L505.5 63 L506 63.1 L506.5 63.3 L507 63.4 L507.5 63.6 L508 63.7 L508.5 63.9 L509 64 L509.5 64.2 L510 64.3 L510.5 64.4 L511 64.5 L511.5 64.7 L512 64.8 L512.5 65 L513 65.2 L513.5 65.3 L514 65.5 L514.5 65.6 L515 65.8 L515.5 65.9 L516 66.1 L516.5 66.2 L517 66.3 L517.5 66.4 L518 66.5 L518.5 66.5 L519 66.6 L519.5 66.6 L520 66.6 L520.5 66.6 L521 66.5 L521.5 66.5 L522 66.4 L522.5 66.3 L523 66.2 L523.5 66.1 L524 65.9 L524.5 65.8 L525 65.6 L525.5 65.4 L526 65.3 L526.5 65.1 L527 64.9 L527.5 64.7 L528 64.4 L528.5 64.2 L529 64 L529.5 63.7 L530 63.5 L530.5 63.2 L531 62.9 L531.5 62.7 L532 62.3 L532.5 62 L533 61.7 L533.5 61.3 L534 61 L534.5 60.6 L535 60.2 L535.5 59.8 L536 59.4 L536.5 59 L537 58.6 L537.5 58.2 L538 57.8 L538.5 57.3 L539 56.9 L539.5 56.6 L540 56.2 L540.5 55.8 L541 55.4 L541.5 55.1 L542 54.7 L542.5 54.3 L543 54 L543.5 53.6 L544 53.3 L544.5 52.9 L545 52.5 L545.5 52.2 L546 51.8 L546.5 51.4 L547 51 L547.5 50.6 L548 50.3 L548.5 49.8 L549 49.4 L549.5 49 L550 48.6 L550.5 48.2 L551 47.7 L551.5 47.3 L552 46.8 L552.5 46.4 L553 45.9 L553.5 45.4 L554 44.9 L554.5 44.4 L555 43.9 L555.5 43.4 L556 42.9 L556.5 42.3 L557 41.7 L557.5 41.1 L558 40.5 L558.5 39.9 L559 39.2 L559.5 38.5 L560 37.7 L560.5 37 L561 36.2 L561.5 35.3 L562 34.5 L562.5 33.6 L563 32.8 L563.5 31.8 L564 30.9 L564.5 29.8 L565 28.7 L565.5 27.6 L566 26.6 L566.5 25.5 L567 24.5 L567.5 23.5 L568 22.5 L568.5 21.5 L569 20.5 L569.5 19.5 L570 18.5 L570.5 17.6 L571 16.6 L571.5 15.7 L572 14.7 L572.5 13.7 L573 12.8 L573.5 12 L574 11.3 L574.5 10.6 L575 10.1 L575.5 9.7 L576 9.3 L576.5 8.9 L577 8.6 L577.5 8.3 L578 8.1 L578.5 7.9 L579 7.8 L579.5 7.7 L580 7.7 L580.5 7.7 L581 7.9 L581.5 8.1 L582 8.5 L582.5 9 L583 9.5 L583.5 10.1 L584 10.8 L584.5 11.5 L585 12.3 L585.5 13.1 L586 14.1 L586.5 15 L587 16.1 L587.5 17.2 L588 18.3 L588.5 19.5 L589 20.7 L589.5 22 L590 23.4 L590.5 24.8 L591 26.3 L591.5 27.8 L592 29.2 L592.5 30.6 L593 32 L593.5 33.4 L594 34.8 L594.5 36.2 L595 37.6 L595.5 39 L596 40.4 L596.5 41.9 L597 43.3 L597.5 44.7 L598 46.1 L598.5 47.5 L599 48.8 L599.5 50.1 L600 51.4 L600.5 52.6 L601 53.8 L601.5 54.9 L602 56 L602.5 57 L603 58.1 L603.5 59.1 L604 60.1 L604.5 61.1 L605 61.9 L605.5 62.8 L606 63.5 L606.5 64.2 L607 64.8 L607.5 65.3 L608 65.9 L608.5 66.4 L609 66.8 L609.5 67.3 L610 67.6 L610.5 68 L611 68.3 L611.5 68.6 L612 68.8 L612.5 69 L613 69.2 L613.5 69.3 L614 69.5 L614.5 69.5 L615 69.6 L615.5 69.7 L616 69.7 L616.5 69.8 L617 69.8 L617.5 69.9 L618 69.9 L618.5 70 L619 70.1 L619.5 70.1 L620 70.1 L620.5 70.2 L621 70.2 L621.5 70.2 L622 70.3 L622.5 70.3 L623 70.3 L623.5 70.3 L624 70.4 L624.5 70.4 L625 70.4" fill="none" stroke="#e04c58" stroke-width="1.15" stroke-linejoin="round" stroke-linecap="round" /><path d="M385.0 69.4h.3M386.0 69.3h.3M387.0 69.5h.3M388.0 69.3h.3M389.0 69.3h.3M390.0 69.5h.3M391.0 69.4h.3M392.0 69.7h.3M393.0 69.6h.3M394.0 69.8h.3M395.0 69.7h.3M396.0 69.7h.3M397.0 69.8h.3M398.0 69.5h.3M399.0 69.5h.3M400.0 69.9h.3M401.0 69.4h.3M402.0 69.7h.3M403.0 69.7h.3M404.0 69.3h.3M405.0 69.8h.3M406.0 69.9h.3M407.0 69.7h.3M408.0 69.7h.3M409.0 69.8h.3M410.0 69.4h.3M411.0 69.6h.3M412.0 69.6h.3M413.0 69.8h.3M414.0 69.8h.3M415.0 69.8h.3M416.0 69.7h.3M417.0 69.9h.3M418.0 69.7h.3M419.0 69.7h.3M420.0 69.4h.3M421.0 69.3h.3M422.0 69.4h.3M423.0 69.5h.3M424.0 69.3h.3M425.0 69.8h.3M426.0 69.6h.3M427.0 69.7h.3M428.0 69.7h.3M429.0 69.7h.3M430.0 69.6h.3M431.0 69.3h.3M432.0 69.8h.3M433.0 69.8h.3M434.0 69.6h.3M435.0 69.6h.3M436.0 69.7h.3M437.0 69.3h.3M438.0 69.8h.3M439.0 69.4h.3M440.0 69.3h.3M441.0 69.4h.3M442.0 69.7h.3M443.0 69.4h.3M444.0 69.8h.3M445.0 69.9h.3M446.0 69.6h.3M447.0 69.5h.3M448.0 69.6h.3M449.0 69.7h.3M450.0 69.8h.3M451.0 69.7h.3M452.0 69.7h.3M453.0 69.3h.3M454.0 69.4h.3M455.0 69.4h.3M456.0 69.8h.3M457.0 69.5h.3M458.0 69.6h.3M459.0 69.3h.3M460.0 69.3h.3M461.0 69.5h.3M462.0 69.7h.3M463.0 69.7h.3M464.0 69.7h.3M465.0 69.5h.3M466.0 69.6h.3M467.0 69.6h.3M468.0 69.5h.3M469.0 69.2h.3M470.0 69.7h.3M471.0 69.0h.3M472.0 69.4h.3M473.0 69.2h.3M474.0 68.5h.3M475.0 68.6h.3M476.0 68.6h.3M477.0 68.5h.3M478.0 68.0h.3M479.0 67.6h.3M480.0 67.3h.3M481.0 67.4h.3M482.0 66.6h.3M483.0 66.4h.3M484.0 65.7h.3M485.0 65.6h.3M486.0 65.4h.3M487.0 64.5h.3M488.0 64.6h.3M489.0 64.1h.3M490.0 64.0h.3M491.0 63.6h.3M492.0 63.0h.3M493.0 63.1h.3M494.0 62.5h.3M495.0 62.0h.3M496.0 61.7h.3M497.0 61.9h.3M498.0 61.7h.3M499.0 61.6h.3M500.0 61.5h.3M501.0 61.7h.3M502.0 61.9h.3M503.0 62.5h.3M504.0 62.2h.3M505.0 63.0h.3M506.0 63.3h.3M507.0 63.2h.3M508.0 64.0h.3M509.0 64.2h.3M510.0 64.5h.3M511.0 64.4h.3M512.0 64.8h.3M513.0 65.1h.3M514.0 65.8h.3M515.0 65.8h.3M516.0 66.0h.3M517.0 66.3h.3M518.0 66.3h.3M519.0 66.3h.3M520.0 66.4h.3M521.0 66.7h.3M522.0 66.3h.3M523.0 66.5h.3M524.0 65.8h.3M525.0 65.5h.3M526.0 65.3h.3M527.0 64.7h.3M528.0 64.3h.3M529.0 64.3h.3M530.0 63.7h.3M531.0 63.1h.3M532.0 62.4h.3M533.0 62.0h.3M534.0 61.2h.3M535.0 60.2h.3M536.0 59.5h.3M537.0 58.3h.3M538.0 57.9h.3M539.0 56.9h.3M540.0 56.3h.3M541.0 55.5h.3M542.0 54.6h.3M543.0 53.7h.3M544.0 53.5h.3M545.0 52.3h.3M546.0 51.8h.3M547.0 50.9h.3M548.0 50.1h.3M549.0 49.6h.3M550.0 48.9h.3M551.0 47.6h.3M552.0 46.9h.3M553.0 45.8h.3M554.0 45.0h.3M555.0 43.9h.3M556.0 42.7h.3M557.0 41.5h.3M558.0 40.3h.3M559.0 39.4h.3M560.0 37.7h.3M561.0 36.0h.3M562.0 34.8h.3M563.0 33.1h.3M564.0 30.8h.3M565.0 28.5h.3M566.0 26.4h.3M567.0 24.2h.3M568.0 22.4h.3M569.0 20.2h.3M570.0 18.3h.3M571.0 16.5h.3M572.0 14.8h.3M573.0 13.1h.3M574.0 11.4h.3M575.0 10.0h.3M576.0 9.2h.3M577.0 8.6h.3M578.0 8.0h.3M579.0 7.7h.3M580.0 7.4h.3M581.0 7.7h.3M582.0 8.8h.3M583.0 9.3h.3M584.0 10.8h.3M585.0 12.4h.3M586.0 14.3h.3M587.0 15.9h.3M588.0 18.2h.3M589.0 20.5h.3M590.0 23.3h.3M591.0 26.3h.3M592.0 29.5h.3M593.0 32.2h.3M594.0 35.0h.3M595.0 37.3h.3M596.0 40.1h.3M597.0 43.4h.3M598.0 46.4h.3M599.0 48.8h.3M600.0 51.4h.3M601.0 53.4h.3M602.0 55.9h.3M603.0 58.3h.3M604.0 60.3h.3M605.0 62.2h.3M606.0 63.8h.3M607.0 64.6h.3M608.0 65.6h.3M609.0 66.6h.3M610.0 67.7h.3M611.0 68.4h.3M612.0 69.1h.3M613.0 69.3h.3M614.0 69.5h.3M615.0 69.8h.3M616.0 69.7h.3M617.0 69.9h.3M618.0 69.6h.3M619.0 70.2h.3M620.0 70.0h.3M621.0 70.5h.3M622.0 70.4h.3M623.0 70.2h.3M624.0 70.1h.3M625.0 70.2h.3M626.0 70.5h.3M627.0 70.6h.3M628.0 70.3h.3M629.0 70.2h.3M630.0 70.5h.3M631.0 70.6h.3M632.0 70.4h.3M633.0 70.3h.3M634.0 70.6h.3M635.0 70.2h.3M636.0 70.4h.3M637.0 70.5h.3M638.0 70.8h.3M639.0 70.6h.3M640.0 70.7h.3M641.0 70.5h.3M642.0 70.3h.3M643.0 70.3h.3M644.0 70.8h.3M645.0 70.6h.3M646.0 70.4h.3M647.0 70.2h.3M648.0 70.5h.3M649.0 70.6h.3M650.0 70.4h.3M651.0 70.3h.3M652.0 70.6h.3M653.0 70.8h.3M654.0 70.3h.3M655.0 70.2h.3M656.0 70.4h.3M657.0 70.4h.3M658.0 70.6h.3M659.0 70.3h.3M660.0 70.7h.3M661.0 70.7h.3M662.0 70.5h.3M663.0 70.3h.3M664.0 70.8h.3M665.0 70.4h.3M666.0 70.7h.3M667.0 70.3h.3M668.0 70.3h.3M669.0 70.7h.3M670.0 70.4h.3M671.0 70.8h.3M672.0 70.5h.3M673.0 70.3h.3M674.0 70.3h.3M675.0 70.4h.3M676.0 70.6h.3" fill="none" stroke="#8e8e8e" stroke-width="2.3" stroke-linecap="round"/><path d="M474 146.4 L474.6 146.4 L475.2 146.4 L475.8 146.4 L476.4 146.4 L477 146.4 L477.6 146.4 L478.2 146.4 L478.8 146.4 L479.4 146.4 L480 146.4 L480.6 146.4 L481.2 146.4 L481.8 146.4 L482.4 146.4 L483 146.4 L483.6 146.4 L484.2 146.4 L484.8 146.4 L485.4 146.4 L486 146.4 L486.6 146.4 L487.2 146.4 L487.8 146.4 L488.4 146.4 L489 146.4 L489.6 146.4 L490.2 146.4 L490.8 146.4 L491.4 146.4 L492 146.4 L492.6 146.4 L493.2 146.4 L493.8 146.4 L494.4 146.4 L495 146.4 L495.6 146.4 L496.2 146.4 L496.8 146.4 L497.4 146.4 L498 146.4 L498.6 146.4 L499.2 146.4 L499.8 146.4 L500.4 146.4 L501 146.4 L501.6 146.4 L502.2 146.4 L502.8 146.4 L503.4 146.4 L504 146.4 L504.6 146.4 L505.2 146.4 L505.8 146.4 L506.4 146.4 L507 146.4 L507.6 146.4 L508.2 146.4 L508.8 146.4 L509.4 146.4 L510 146.4 L510.6 146.4 L511.2 146.4 L511.8 146.4 L512.4 146.4 L513 146.4 L513.6 146.4 L514.2 146.4 L514.8 146.4 L515.4 146.4 L516 146.4 L516.6 146.4 L517.2 146.4 L517.8 146.4 L518.4 146.4 L519 146.4 L519.6 146.4 L520.2 146.4 L520.8 146.4 L521.4 146.4 L522 146.4 L522.6 146.4 L523.2 146.4 L523.8 146.4 L524.4 146.4 L525 146.4 L525.6 146.4 L526.2 146.4 L526.8 146.4 L527.4 146.4 L528 146.4 L528.6 146.4 L529.2 146.4 L529.8 146.4 L530.4 146.4 L531 146.4 L531.6 146.4 L532.2 146.4 L532.8 146.4 L533.4 146.4 L534 146.4 L534.6 146.4 L535.2 146.4 L535.8 146.4 L536.4 146.4 L537 146.4 L537.6 146.4 L538.2 146.4 L538.8 146.4 L539.4 146.4 L540 146.3 L540.6 146.3 L541.2 146.3 L541.8 146.3 L542.4 146.3 L543 146.2 L543.6 146.2 L544.2 146.1 L544.8 146.1 L545.4 146 L546 146 L546.6 145.9 L547.2 145.8 L547.8 145.7 L548.4 145.5 L549 145.4 L549.6 145.2 L550.2 145 L550.8 144.7 L551.4 144.5 L552 144.1 L552.6 143.8 L553.2 143.4 L553.8 142.9 L554.4 142.4 L555 141.9 L555.6 141.2 L556.2 140.5 L556.8 139.8 L557.4 138.9 L558 138 L558.6 137 L559.2 135.9 L559.8 134.8 L560.4 133.5 L561 132.2 L561.6 130.7 L562.2 129.2 L562.8 127.6 L563.4 125.9 L564 124.2 L564.6 122.3 L565.2 120.4 L565.8 118.5 L566.4 116.4 L567 114.4 L567.6 112.3 L568.2 110.3 L568.8 108.2 L569.4 106.1 L570 104.1 L570.6 102.1 L571.2 100.1 L571.8 98.3 L572.4 96.5 L573 94.8 L573.6 93.3 L574.2 91.9 L574.8 90.6 L575.4 89.6 L576 88.6 L576.6 87.9 L577.2 87.3 L577.8 87 L578.4 86.8 L579 86.8 L579.6 87 L580.2 87.4 L580.8 87.9 L581.4 88.5 L582 89.3 L582.6 90.3 L583.2 91.4 L583.8 92.6 L584.4 93.9 L585 95.4 L585.6 96.9 L586.2 98.5 L586.8 100.2 L587.4 101.9 L588 103.7 L588.6 105.6 L589.2 107.4 L589.8 109.3 L590.4 111.2 L591 113.1 L591.6 114.9 L592.2 116.8 L592.8 118.6 L593.4 120.4 L594 122.1 L594.6 123.8 L595.2 125.4 L595.8 126.9 L596.4 128.4 L597 129.8 L597.6 131.2 L598.2 132.5 L598.8 133.7 L599.4 134.8 L600 135.8 L600.6 136.8 L601.2 137.8 L601.8 138.6 L602.4 139.4 L603 140.1 L603.6 140.8 L604.2 141.4 L604.8 142 L605.4 142.5 L606 142.9 L606.6 143.3 L607.2 143.7 L607.8 144 L608.4 144.3 L609 144.6 L609.6 144.8 L610.2 145 L610.8 145.2 L611.4 145.4 L612 145.5 L612.6 145.6 L613.2 145.8 L613.8 145.8 L614.4 145.9 L615 146 L615.6 146.1" fill="none" stroke="#3a6cf2" stroke-width="1.45" stroke-linejoin="round" stroke-linecap="round" /><path d="M474 146.4 L474.6 146.4 L475.2 146.4 L475.8 146.4 L476.4 146.4 L477 146.4 L477.6 146.4 L478.2 146.4 L478.8 146.4 L479.4 146.4 L480 146.4 L480.6 146.4 L481.2 146.4 L481.8 146.4 L482.4 146.4 L483 146.4 L483.6 146.4 L484.2 146.4 L484.8 146.4 L485.4 146.4 L486 146.4 L486.6 146.4 L487.2 146.4 L487.8 146.4 L488.4 146.4 L489 146.4 L489.6 146.4 L490.2 146.4 L490.8 146.4 L491.4 146.4 L492 146.4 L492.6 146.4 L493.2 146.4 L493.8 146.4 L494.4 146.4 L495 146.4 L495.6 146.4 L496.2 146.4 L496.8 146.4 L497.4 146.4 L498 146.4 L498.6 146.4 L499.2 146.4 L499.8 146.4 L500.4 146.4 L501 146.4 L501.6 146.4 L502.2 146.4 L502.8 146.4 L503.4 146.4 L504 146.4 L504.6 146.4 L505.2 146.4 L505.8 146.4 L506.4 146.4 L507 146.4 L507.6 146.4 L508.2 146.4 L508.8 146.4 L509.4 146.4 L510 146.4 L510.6 146.4 L511.2 146.4 L511.8 146.4 L512.4 146.4 L513 146.4 L513.6 146.4 L514.2 146.4 L514.8 146.4 L515.4 146.4 L516 146.4 L516.6 146.4 L517.2 146.4 L517.8 146.4 L518.4 146.4 L519 146.4 L519.6 146.4 L520.2 146.4 L520.8 146.4 L521.4 146.4 L522 146.4 L522.6 146.4 L523.2 146.4 L523.8 146.4 L524.4 146.4 L525 146.4 L525.6 146.4 L526.2 146.4 L526.8 146.4 L527.4 146.4 L528 146.3 L528.6 146.3 L529.2 146.3 L529.8 146.3 L530.4 146.3 L531 146.3 L531.6 146.3 L532.2 146.2 L532.8 146.2 L533.4 146.2 L534 146.2 L534.6 146.1 L535.2 146.1 L535.8 146 L536.4 146 L537 145.9 L537.6 145.9 L538.2 145.8 L538.8 145.7 L539.4 145.6 L540 145.5 L540.6 145.4 L541.2 145.3 L541.8 145.2 L542.4 145 L543 144.9 L543.6 144.7 L544.2 144.5 L544.8 144.4 L545.4 144.2 L546 143.9 L546.6 143.7 L547.2 143.5 L547.8 143.2 L548.4 143 L549 142.7 L549.6 142.4 L550.2 142.1 L550.8 141.8 L551.4 141.4 L552 141.1 L552.6 140.8 L553.2 140.4 L553.8 140 L554.4 139.7 L555 139.3 L555.6 138.9 L556.2 138.6 L556.8 138.2 L557.4 137.8 L558 137.5 L558.6 137.1 L559.2 136.8 L559.8 136.5 L560.4 136.2 L561 135.9 L561.6 135.6 L562.2 135.3 L562.8 135.1 L563.4 134.9 L564 134.7 L564.6 134.6 L565.2 134.4 L565.8 134.3 L566.4 134.3 L567 134.2 L567.6 134.2 L568.2 134.2 L568.8 134.3 L569.4 134.4 L570 134.5 L570.6 134.6 L571.2 134.8 L571.8 135 L572.4 135.2 L573 135.4 L573.6 135.7 L574.2 136 L574.8 136.3 L575.4 136.6 L576 136.9 L576.6 137.2 L577.2 137.6 L577.8 138 L578.4 138.3 L579 138.7 L579.6 139.1 L580.2 139.4 L580.8 139.8 L581.4 140.2 L582 140.5 L582.6 140.9 L583.2 141.2 L583.8 141.6 L584.4 141.9 L585 142.2 L585.6 142.5 L586.2 142.8 L586.8 143.1 L587.4 143.3 L588 143.6 L588.6 143.8 L589.2 144 L589.8 144.2 L590.4 144.4 L591 144.6 L591.6 144.8 L592.2 144.9 L592.8 145.1 L593.4 145.2 L594 145.3 L594.6 145.4 L595.2 145.6 L595.8 145.6 L596.4 145.7 L597 145.8 L597.6 145.9 L598.2 145.9 L598.8 146 L599.4 146 L600 146.1 L600.6 146.1 L601.2 146.2 L601.8 146.2 L602.4 146.2 L603 146.2 L603.6 146.3 L604.2 146.3 L604.8 146.3 L605.4 146.3 L606 146.3 L606.6 146.3 L607.2 146.3 L607.8 146.4 L608.4 146.4 L609 146.4 L609.6 146.4 L610.2 146.4 L610.8 146.4 L611.4 146.4 L612 146.4 L612.6 146.4 L613.2 146.4 L613.8 146.4 L614.4 146.4 L615 146.4 L615.6 146.4" fill="none" stroke="#3a6cf2" stroke-width="1.45" stroke-linejoin="round" stroke-linecap="round" /><path d="M474 146.4 L474.6 146.4 L475.2 146.4 L475.8 146.4 L476.4 146.4 L477 146.4 L477.6 146.4 L478.2 146.4 L478.8 146.4 L479.4 146.4 L480 146.4 L480.6 146.4 L481.2 146.4 L481.8 146.4 L482.4 146.4 L483 146.4 L483.6 146.4 L484.2 146.4 L484.8 146.4 L485.4 146.4 L486 146.4 L486.6 146.4 L487.2 146.4 L487.8 146.4 L488.4 146.4 L489 146.4 L489.6 146.4 L490.2 146.4 L490.8 146.4 L491.4 146.4 L492 146.4 L492.6 146.4 L493.2 146.4 L493.8 146.4 L494.4 146.4 L495 146.4 L495.6 146.4 L496.2 146.4 L496.8 146.4 L497.4 146.4 L498 146.4 L498.6 146.4 L499.2 146.4 L499.8 146.4 L500.4 146.4 L501 146.4 L501.6 146.4 L502.2 146.4 L502.8 146.4 L503.4 146.4 L504 146.4 L504.6 146.4 L505.2 146.4 L505.8 146.4 L506.4 146.4 L507 146.3 L507.6 146.3 L508.2 146.3 L508.8 146.3 L509.4 146.3 L510 146.3 L510.6 146.3 L511.2 146.2 L511.8 146.2 L512.4 146.2 L513 146.2 L513.6 146.1 L514.2 146.1 L514.8 146 L515.4 146 L516 145.9 L516.6 145.9 L517.2 145.8 L517.8 145.7 L518.4 145.6 L519 145.6 L519.6 145.5 L520.2 145.3 L520.8 145.2 L521.4 145.1 L522 145 L522.6 144.8 L523.2 144.7 L523.8 144.5 L524.4 144.3 L525 144.1 L525.6 143.9 L526.2 143.7 L526.8 143.5 L527.4 143.2 L528 143 L528.6 142.7 L529.2 142.4 L529.8 142.1 L530.4 141.8 L531 141.5 L531.6 141.2 L532.2 140.9 L532.8 140.6 L533.4 140.3 L534 140 L534.6 139.6 L535.2 139.3 L535.8 139 L536.4 138.7 L537 138.4 L537.6 138.1 L538.2 137.8 L538.8 137.5 L539.4 137.3 L540 137 L540.6 136.8 L541.2 136.6 L541.8 136.4 L542.4 136.3 L543 136.1 L543.6 136 L544.2 135.9 L544.8 135.9 L545.4 135.8 L546 135.8 L546.6 135.8 L547.2 135.9 L547.8 135.9 L548.4 136 L549 136.1 L549.6 136.3 L550.2 136.4 L550.8 136.6 L551.4 136.8 L552 137 L552.6 137.3 L553.2 137.5 L553.8 137.8 L554.4 138.1 L555 138.4 L555.6 138.7 L556.2 139 L556.8 139.3 L557.4 139.6 L558 140 L558.6 140.3 L559.2 140.6 L559.8 140.9 L560.4 141.2 L561 141.5 L561.6 141.8 L562.2 142.1 L562.8 142.4 L563.4 142.7 L564 143 L564.6 143.2 L565.2 143.5 L565.8 143.7 L566.4 143.9 L567 144.1 L567.6 144.3 L568.2 144.5 L568.8 144.7 L569.4 144.8 L570 145 L570.6 145.1 L571.2 145.2 L571.8 145.3 L572.4 145.5 L573 145.6 L573.6 145.6 L574.2 145.7 L574.8 145.8 L575.4 145.9 L576 145.9 L576.6 146 L577.2 146 L577.8 146.1 L578.4 146.1 L579 146.2 L579.6 146.2 L580.2 146.2 L580.8 146.2 L581.4 146.3 L582 146.3 L582.6 146.3 L583.2 146.3 L583.8 146.3 L584.4 146.3 L585 146.3 L585.6 146.4 L586.2 146.4 L586.8 146.4 L587.4 146.4 L588 146.4 L588.6 146.4 L589.2 146.4 L589.8 146.4 L590.4 146.4 L591 146.4 L591.6 146.4 L592.2 146.4 L592.8 146.4 L593.4 146.4 L594 146.4 L594.6 146.4 L595.2 146.4 L595.8 146.4 L596.4 146.4 L597 146.4 L597.6 146.4 L598.2 146.4 L598.8 146.4 L599.4 146.4 L600 146.4 L600.6 146.4 L601.2 146.4 L601.8 146.4 L602.4 146.4 L603 146.4 L603.6 146.4 L604.2 146.4 L604.8 146.4 L605.4 146.4 L606 146.4 L606.6 146.4 L607.2 146.4 L607.8 146.4 L608.4 146.4 L609 146.4 L609.6 146.4 L610.2 146.4 L610.8 146.4 L611.4 146.4 L612 146.4 L612.6 146.4 L613.2 146.4 L613.8 146.4 L614.4 146.4 L615 146.4 L615.6 146.4" fill="none" stroke="#3a6cf2" stroke-width="1.45" stroke-linejoin="round" stroke-linecap="round" /><path d="M474 145.9 L474.6 145.8 L475.2 145.7 L475.8 145.6 L476.4 145.5 L477 145.4 L477.6 145.3 L478.2 145.2 L478.8 145 L479.4 144.9 L480 144.7 L480.6 144.5 L481.2 144.3 L481.8 144.1 L482.4 143.9 L483 143.6 L483.6 143.4 L484.2 143.1 L484.8 142.8 L485.4 142.5 L486 142.2 L486.6 141.9 L487.2 141.6 L487.8 141.2 L488.4 140.9 L489 140.5 L489.6 140.1 L490.2 139.8 L490.8 139.4 L491.4 139 L492 138.6 L492.6 138.2 L493.2 137.9 L493.8 137.5 L494.4 137.2 L495 136.8 L495.6 136.5 L496.2 136.2 L496.8 135.9 L497.4 135.6 L498 135.4 L498.6 135.1 L499.2 134.9 L499.8 134.8 L500.4 134.6 L501 134.5 L501.6 134.5 L502.2 134.4 L502.8 134.4 L503.4 134.4 L504 134.5 L504.6 134.6 L505.2 134.7 L505.8 134.8 L506.4 135 L507 135.2 L507.6 135.4 L508.2 135.7 L508.8 136 L509.4 136.3 L510 136.6 L510.6 136.9 L511.2 137.3 L511.8 137.6 L512.4 138 L513 138.4 L513.6 138.7 L514.2 139.1 L514.8 139.5 L515.4 139.9 L516 140.3 L516.6 140.6 L517.2 141 L517.8 141.3 L518.4 141.7 L519 142 L519.6 142.3 L520.2 142.6 L520.8 142.9 L521.4 143.2 L522 143.5 L522.6 143.7 L523.2 144 L523.8 144.2 L524.4 144.4 L525 144.6 L525.6 144.7 L526.2 144.9 L526.8 145.1 L527.4 145.2 L528 145.3 L528.6 145.4 L529.2 145.6 L529.8 145.7 L530.4 145.7 L531 145.8 L531.6 145.9 L532.2 146 L532.8 146 L533.4 146.1 L534 146.1 L534.6 146.1 L535.2 146.2 L535.8 146.2 L536.4 146.2 L537 146.3 L537.6 146.3 L538.2 146.3 L538.8 146.3 L539.4 146.3 L540 146.3 L540.6 146.3 L541.2 146.4 L541.8 146.4 L542.4 146.4 L543 146.4 L543.6 146.4 L544.2 146.4 L544.8 146.4 L545.4 146.4 L546 146.4 L546.6 146.4 L547.2 146.4 L547.8 146.4 L548.4 146.4 L549 146.4 L549.6 146.4 L550.2 146.4 L550.8 146.4 L551.4 146.4 L552 146.4 L552.6 146.4 L553.2 146.4 L553.8 146.4 L554.4 146.4 L555 146.4 L555.6 146.4 L556.2 146.4 L556.8 146.4 L557.4 146.4 L558 146.4 L558.6 146.4 L559.2 146.4 L559.8 146.4 L560.4 146.4 L561 146.4 L561.6 146.4 L562.2 146.4 L562.8 146.4 L563.4 146.4 L564 146.4 L564.6 146.4 L565.2 146.4 L565.8 146.4 L566.4 146.4 L567 146.4 L567.6 146.4 L568.2 146.4 L568.8 146.4 L569.4 146.4 L570 146.4 L570.6 146.4 L571.2 146.4 L571.8 146.4 L572.4 146.4 L573 146.4 L573.6 146.4 L574.2 146.4 L574.8 146.4 L575.4 146.4 L576 146.4 L576.6 146.4 L577.2 146.4 L577.8 146.4 L578.4 146.4 L579 146.4 L579.6 146.4 L580.2 146.4 L580.8 146.4 L581.4 146.4 L582 146.4 L582.6 146.4 L583.2 146.4 L583.8 146.4 L584.4 146.4 L585 146.4 L585.6 146.4 L586.2 146.4 L586.8 146.4 L587.4 146.4 L588 146.4 L588.6 146.4 L589.2 146.4 L589.8 146.4 L590.4 146.4 L591 146.4 L591.6 146.4 L592.2 146.4 L592.8 146.4 L593.4 146.4 L594 146.4 L594.6 146.4 L595.2 146.4 L595.8 146.4 L596.4 146.4 L597 146.4 L597.6 146.4 L598.2 146.4 L598.8 146.4 L599.4 146.4 L600 146.4 L600.6 146.4 L601.2 146.4 L601.8 146.4 L602.4 146.4 L603 146.4 L603.6 146.4 L604.2 146.4 L604.8 146.4 L605.4 146.4 L606 146.4 L606.6 146.4 L607.2 146.4 L607.8 146.4 L608.4 146.4 L609 146.4 L609.6 146.4 L610.2 146.4 L610.8 146.4 L611.4 146.4 L612 146.4 L612.6 146.4 L613.2 146.4 L613.8 146.4 L614.4 146.4 L615 146.4 L615.6 146.4" fill="none" stroke="#3a6cf2" stroke-width="1.45" stroke-linejoin="round" stroke-linecap="round" /><path d="M474 146.4 L474.6 146.4 L475.2 146.4 L475.8 146.4 L476.4 146.4 L477 146.4 L477.6 146.4 L478.2 146.4 L478.8 146.4 L479.4 146.4 L480 146.4 L480.6 146.4 L481.2 146.4 L481.8 146.4 L482.4 146.4 L483 146.4 L483.6 146.4 L484.2 146.4 L484.8 146.4 L485.4 146.4 L486 146.4 L486.6 146.4 L487.2 146.4 L487.8 146.4 L488.4 146.4 L489 146.4 L489.6 146.4 L490.2 146.4 L490.8 146.4 L491.4 146.4 L492 146.4 L492.6 146.4 L493.2 146.4 L493.8 146.4 L494.4 146.4 L495 146.4 L495.6 146.4 L496.2 146.4 L496.8 146.4 L497.4 146.4 L498 146.4 L498.6 146.4 L499.2 146.4 L499.8 146.4 L500.4 146.4 L501 146.4 L501.6 146.4 L502.2 146.4 L502.8 146.4 L503.4 146.4 L504 146.4 L504.6 146.4 L505.2 146.4 L505.8 146.4 L506.4 146.4 L507 146.4 L507.6 146.4 L508.2 146.4 L508.8 146.4 L509.4 146.4 L510 146.4 L510.6 146.4 L511.2 146.4 L511.8 146.4 L512.4 146.4 L513 146.4 L513.6 146.4 L514.2 146.4 L514.8 146.4 L515.4 146.4 L516 146.4 L516.6 146.4 L517.2 146.4 L517.8 146.4 L518.4 146.4 L519 146.4 L519.6 146.4 L520.2 146.4 L520.8 146.4 L521.4 146.4 L522 146.4 L522.6 146.4 L523.2 146.4 L523.8 146.4 L524.4 146.4 L525 146.4 L525.6 146.4 L526.2 146.4 L526.8 146.4 L527.4 146.4 L528 146.4 L528.6 146.4 L529.2 146.4 L529.8 146.4 L530.4 146.4 L531 146.4 L531.6 146.4 L532.2 146.4 L532.8 146.4 L533.4 146.4 L534 146.4 L534.6 146.4 L535.2 146.4 L535.8 146.4 L536.4 146.4 L537 146.4 L537.6 146.4 L538.2 146.4 L538.8 146.4 L539.4 146.4 L540 146.4 L540.6 146.4 L541.2 146.4 L541.8 146.4 L542.4 146.4 L543 146.4 L543.6 146.4 L544.2 146.4 L544.8 146.4 L545.4 146.4 L546 146.4 L546.6 146.4 L547.2 146.4 L547.8 146.4 L548.4 146.4 L549 146.4 L549.6 146.4 L550.2 146.4 L550.8 146.4 L551.4 146.4 L552 146.4 L552.6 146.4 L553.2 146.4 L553.8 146.4 L554.4 146.4 L555 146.4 L555.6 146.4 L556.2 146.4 L556.8 146.4 L557.4 146.4 L558 146.4 L558.6 146.4 L559.2 146.4 L559.8 146.4 L560.4 146.4 L561 146.4 L561.6 146.4 L562.2 146.4 L562.8 146.4 L563.4 146.4 L564 146.4 L564.6 146.4 L565.2 146.3 L565.8 146.3 L566.4 146.3 L567 146.3 L567.6 146.2 L568.2 146.2 L568.8 146.2 L569.4 146.1 L570 146 L570.6 146 L571.2 145.9 L571.8 145.8 L572.4 145.6 L573 145.5 L573.6 145.3 L574.2 145.2 L574.8 145 L575.4 144.8 L576 144.5 L576.6 144.3 L577.2 144 L577.8 143.7 L578.4 143.4 L579 143.1 L579.6 142.8 L580.2 142.5 L580.8 142.2 L581.4 142 L582 141.7 L582.6 141.4 L583.2 141.2 L583.8 141 L584.4 140.9 L585 140.7 L585.6 140.6 L586.2 140.6 L586.8 140.6 L587.4 140.6 L588 140.7 L588.6 140.9 L589.2 141 L589.8 141.2 L590.4 141.4 L591 141.7 L591.6 142 L592.2 142.2 L592.8 142.5 L593.4 142.8 L594 143.1 L594.6 143.4 L595.2 143.7 L595.8 144 L596.4 144.3 L597 144.5 L597.6 144.8 L598.2 145 L598.8 145.2 L599.4 145.3 L600 145.5 L600.6 145.6 L601.2 145.8 L601.8 145.9 L602.4 146 L603 146 L603.6 146.1 L604.2 146.2 L604.8 146.2 L605.4 146.2 L606 146.3 L606.6 146.3 L607.2 146.3 L607.8 146.3 L608.4 146.4 L609 146.4 L609.6 146.4 L610.2 146.4 L610.8 146.4 L611.4 146.4 L612 146.4 L612.6 146.4 L613.2 146.4 L613.8 146.4 L614.4 146.4 L615 146.4 L615.6 146.4" fill="none" stroke="#3a6cf2" stroke-width="1.45" stroke-linejoin="round" stroke-linecap="round" stroke-dasharray="3.2 2.2"/><line x1="474" y1="147.3" x2="617" y2="147.3" stroke="#c8326e" stroke-width="1.2"/><path d="M470 147.1 L470.5 147 L471 147 L471.5 146.9 L472 146.9 L472.5 146.8 L473 146.8 L473.5 146.7 L474 146.6 L474.5 146.6 L475 146.5 L475.5 146.4 L476 146.3 L476.5 146.2 L477 146.1 L477.5 146 L478 145.8 L478.5 145.7 L479 145.5 L479.5 145.3 L480 145.1 L480.5 144.9 L481 144.6 L481.5 144.4 L482 144.1 L482.5 143.8 L483 143.5 L483.5 143.2 L484 142.9 L484.5 142.6 L485 142.3 L485.5 142 L486 141.7 L486.5 141.4 L487 141.1 L487.5 140.8 L488 140.5 L488.5 140.2 L489 139.9 L489.5 139.7 L490 139.4 L490.5 139.1 L491 138.9 L491.5 138.7 L492 138.4 L492.5 138.2 L493 137.9 L493.5 137.7 L494 137.4 L494.5 137.2 L495 136.9 L495.5 136.7 L496 136.4 L496.5 136.2 L497 136 L497.5 135.7 L498 135.5 L498.5 135.3 L499 135.2 L499.5 135 L500 134.8 L500.5 134.7 L501 134.6 L501.5 134.5 L502 134.4 L502.5 134.4 L503 134.4 L503.5 134.4 L504 134.5 L504.5 134.6 L505 134.7 L505.5 134.8 L506 135 L506.5 135.2 L507 135.4 L507.5 135.6 L508 135.9 L508.5 136.1 L509 136.4 L509.5 136.7 L510 136.9 L510.5 137.2 L511 137.4 L511.5 137.7 L512 137.9 L512.5 138.1 L513 138.3 L513.5 138.5 L514 138.7 L514.5 138.9 L515 139.1 L515.5 139.3 L516 139.5 L516.5 139.7 L517 139.9 L517.5 140.1 L518 140.3 L518.5 140.5 L519 140.6 L519.5 140.8 L520 141 L520.5 141.2 L521 141.3 L521.5 141.5 L522 141.6 L522.5 141.7 L523 141.8 L523.5 141.9 L524 141.9 L524.5 141.9 L525 141.9 L525.5 141.8 L526 141.7 L526.5 141.6 L527 141.4 L527.5 141.2 L528 140.9 L528.5 140.7 L529 140.4 L529.5 140.1 L530 139.8 L530.5 139.5 L531 139.2 L531.5 138.9 L532 138.5 L532.5 138.1 L533 137.7 L533.5 137.3 L534 136.9 L534.5 136.5 L535 136.1 L535.5 135.7 L536 135.3 L536.5 134.9 L537 134.6 L537.5 134.2 L538 133.8 L538.5 133.5 L539 133.1 L539.5 132.7 L540 132.4 L540.5 132 L541 131.6 L541.5 131.2 L542 130.8 L542.5 130.4 L543 130 L543.5 129.6 L544 129.2 L544.5 128.8 L545 128.4 L545.5 128 L546 127.6 L546.5 127.2 L547 126.7 L547.5 126.3 L548 125.8 L548.5 125.3 L549 124.7 L549.5 124.1 L550 123.6 L550.5 122.9 L551 122.3 L551.5 121.7 L552 121 L552.5 120.4 L553 119.7 L553.5 119 L554 118.2 L554.5 117.5 L555 116.7 L555.5 115.9 L556 115.1 L556.5 114.2 L557 113.2 L557.5 112.3 L558 111.3 L558.5 110.2 L559 109.1 L559.5 108.1 L560 107 L560.5 105.9 L561 104.7 L561.5 103.6 L562 102.4 L562.5 101.2 L563 100 L563.5 98.7 L564 97.5 L564.5 96.2 L565 94.8 L565.5 93.4 L566 91.9 L566.5 90.5 L567 89 L567.5 87.6 L568 86.3 L568.5 85.1 L569 84 L569.5 82.9 L570 81.9 L570.5 80.9 L571 79.9 L571.5 79 L572 78.1 L572.5 77.3 L573 76.5 L573.5 75.8 L574 75.1 L574.5 74.6 L575 74.1 L575.5 73.6 L576 73.2 L576.5 72.7 L577 72.5 L577.5 72.6 L578 72.8 L578.5 73.1 L579 73.4 L579.5 73.7 L580 74.1 L580.5 74.5 L581 75 L581.5 75.5 L582 76.1 L582.5 76.8 L583 77.6 L583.5 78.6 L584 79.7 L584.5 81 L585 82.5 L585.5 84 L586 85.6 L586.5 87.2 L587 88.7 L587.5 90.2 L588 91.8 L588.5 93.4 L589 95 L589.5 96.6 L590 98.3 L590.5 99.9 L591 101.5 L591.5 103.1 L592 104.7 L592.5 106.4 L593 108 L593.5 109.6 L594 111.2 L594.5 112.8 L595 114.3 L595.5 115.8 L596 117.3 L596.5 118.8 L597 120.2 L597.5 121.6 L598 123 L598.5 124.3 L599 125.7 L599.5 127 L600 128.3 L600.5 129.5 L601 130.8 L601.5 131.9 L602 133.1 L602.5 134.2 L603 135.2 L603.5 136.2 L604 137.1 L604.5 138 L605 138.9 L605.5 139.6 L606 140.3 L606.5 140.9 L607 141.5 L607.5 142 L608 142.5 L608.5 142.9 L609 143.3 L609.5 143.7 L610 144 L610.5 144.4 L611 144.7 L611.5 144.9 L612 145.2 L612.5 145.4 L613 145.6 L613.5 145.8 L614 146 L614.5 146.1 L615 146.2 L615.5 146.4 L616 146.5 L616.5 146.6 L617 146.6 L617.5 146.7 L618 146.8 L618.5 146.9 L619 146.9 L619.5 147 L620 147 L620.5 147.1 L621 147.1 L621.5 147.2 L622 147.2 L622.5 147.2 L623 147.3 L623.5 147.3 L624 147.3 L624.5 147.3 L625 147.3 L625.5 147.4 L626 147.4 L626.5 147.4 L627 147.4 L627.5 147.4 L628 147.4 L628.5 147.4 L629 147.5 L629.5 147.5 L630 147.5" fill="none" stroke="#e04c58" stroke-width="1.15" stroke-linejoin="round" stroke-linecap="round" /><path d="M385.0 145.9h.3M386.0 145.4h.3M387.0 145.5h.3M388.0 145.4h.3M389.0 145.9h.3M390.0 145.4h.3M391.0 145.3h.3M392.0 145.3h.3M393.0 145.5h.3M394.0 145.9h.3M395.0 145.8h.3M396.0 145.7h.3M397.0 145.9h.3M398.0 145.9h.3M399.0 145.5h.3M400.0 145.4h.3M401.0 145.9h.3M402.0 145.8h.3M403.0 145.3h.3M404.0 145.7h.3M405.0 145.5h.3M406.0 145.5h.3M407.0 145.5h.3M408.0 145.4h.3M409.0 145.3h.3M410.0 145.5h.3M411.0 145.5h.3M412.0 145.9h.3M413.0 145.4h.3M414.0 145.9h.3M415.0 145.4h.3M416.0 145.5h.3M417.0 145.8h.3M418.0 145.8h.3M419.0 145.6h.3M420.0 145.3h.3M421.0 145.6h.3M422.0 145.5h.3M423.0 145.9h.3M424.0 145.4h.3M425.0 145.5h.3M426.0 145.9h.3M427.0 145.3h.3M428.0 145.5h.3M429.0 145.8h.3M430.0 145.8h.3M431.0 145.3h.3M432.0 145.3h.3M433.0 145.3h.3M434.0 145.9h.3M435.0 145.4h.3M436.0 145.8h.3M437.0 145.9h.3M438.0 145.5h.3M439.0 145.5h.3M440.0 145.9h.3M441.0 145.7h.3M442.0 145.4h.3M443.0 145.7h.3M444.0 145.5h.3M445.0 145.5h.3M446.0 145.3h.3M447.0 145.8h.3M448.0 145.9h.3M449.0 145.7h.3M450.0 145.9h.3M451.0 145.3h.3M452.0 145.4h.3M453.0 145.6h.3M454.0 145.9h.3M455.0 145.9h.3M456.0 145.5h.3M457.0 145.4h.3M458.0 145.6h.3M459.0 145.6h.3M460.0 145.9h.3M461.0 145.4h.3M462.0 145.8h.3M463.0 145.8h.3M464.0 145.8h.3M465.0 145.8h.3M466.0 145.7h.3M467.0 145.5h.3M468.0 146.0h.3M469.0 146.5h.3M470.0 147.3h.3M471.0 146.7h.3M472.0 146.7h.3M473.0 146.9h.3M474.0 146.5h.3M475.0 146.2h.3M476.0 146.0h.3M477.0 146.1h.3M478.0 145.7h.3M479.0 145.8h.3M480.0 145.4h.3M481.0 144.9h.3M482.0 143.9h.3M483.0 143.3h.3M484.0 142.7h.3M485.0 142.3h.3M486.0 141.8h.3M487.0 141.1h.3M488.0 140.3h.3M489.0 139.9h.3M490.0 139.5h.3M491.0 139.0h.3M492.0 138.6h.3M493.0 138.1h.3M494.0 137.5h.3M495.0 136.7h.3M496.0 136.6h.3M497.0 135.8h.3M498.0 135.6h.3M499.0 135.1h.3M500.0 135.0h.3M501.0 134.4h.3M502.0 134.3h.3M503.0 134.2h.3M504.0 134.3h.3M505.0 134.9h.3M506.0 135.1h.3M507.0 135.3h.3M508.0 135.8h.3M509.0 136.7h.3M510.0 136.9h.3M511.0 137.3h.3M512.0 138.1h.3M513.0 138.4h.3M514.0 139.0h.3M515.0 138.8h.3M516.0 139.5h.3M517.0 140.1h.3M518.0 140.5h.3M519.0 140.9h.3M520.0 140.7h.3M521.0 141.2h.3M522.0 141.4h.3M523.0 141.6h.3M524.0 142.2h.3M525.0 142.0h.3M526.0 142.0h.3M527.0 141.3h.3M528.0 141.2h.3M529.0 140.3h.3M530.0 139.6h.3M531.0 139.4h.3M532.0 138.8h.3M533.0 137.5h.3M534.0 137.0h.3M535.0 136.2h.3M536.0 135.1h.3M537.0 134.5h.3M538.0 133.6h.3M539.0 132.9h.3M540.0 132.2h.3M541.0 131.7h.3M542.0 130.9h.3M543.0 129.8h.3M544.0 128.9h.3M545.0 128.3h.3M546.0 127.7h.3M547.0 126.5h.3M548.0 125.6h.3M549.0 124.5h.3M550.0 123.7h.3M551.0 122.4h.3M552.0 120.7h.3M553.0 119.4h.3M554.0 118.2h.3M555.0 116.7h.3M556.0 115.1h.3M557.0 113.0h.3M558.0 111.0h.3M559.0 109.3h.3M560.0 106.9h.3M561.0 104.6h.3M562.0 102.3h.3M563.0 100.3h.3M564.0 97.4h.3M565.0 94.8h.3M566.0 91.8h.3M567.0 89.0h.3M568.0 86.6h.3M569.0 84.3h.3M570.0 81.8h.3M571.0 79.7h.3M572.0 78.3h.3M573.0 76.3h.3M574.0 74.8h.3M575.0 74.3h.3M576.0 73.1h.3M577.0 72.7h.3M578.0 72.7h.3M579.0 73.6h.3M580.0 74.1h.3M581.0 74.8h.3M582.0 75.8h.3M583.0 77.6h.3M584.0 79.8h.3M585.0 82.7h.3M586.0 85.3h.3M587.0 88.8h.3M588.0 91.7h.3M589.0 95.0h.3M590.0 98.0h.3M591.0 101.4h.3M592.0 104.7h.3M593.0 108.3h.3M594.0 110.9h.3M595.0 114.3h.3M596.0 117.5h.3M597.0 120.5h.3M598.0 122.8h.3M599.0 125.4h.3M600.0 128.5h.3M601.0 131.1h.3M602.0 133.1h.3M603.0 134.9h.3M604.0 137.4h.3M605.0 138.8h.3M606.0 140.6h.3M607.0 141.6h.3M608.0 142.7h.3M609.0 143.1h.3M610.0 144.2h.3M611.0 144.5h.3M612.0 145.1h.3M613.0 145.8h.3M614.0 146.2h.3M615.0 146.0h.3M616.0 146.3h.3M617.0 146.6h.3M618.0 146.8h.3M619.0 146.8h.3M620.0 146.8h.3M621.0 147.0h.3M622.0 147.3h.3M623.0 147.5h.3M624.0 147.0h.3M625.0 147.4h.3M626.0 147.5h.3M627.0 147.1h.3M628.0 147.7h.3M629.0 147.2h.3M630.0 147.6h.3M631.0 147.6h.3M632.0 147.6h.3M633.0 147.5h.3M634.0 147.5h.3M635.0 147.7h.3M636.0 147.6h.3M637.0 147.7h.3M638.0 147.6h.3M639.0 147.6h.3M640.0 147.3h.3M641.0 147.7h.3M642.0 147.6h.3M643.0 147.4h.3M644.0 147.8h.3M645.0 147.8h.3M646.0 147.6h.3M647.0 147.4h.3M648.0 147.6h.3M649.0 147.3h.3M650.0 147.4h.3M651.0 147.6h.3M652.0 147.3h.3M653.0 147.6h.3M654.0 147.6h.3M655.0 147.3h.3M656.0 147.7h.3M657.0 147.3h.3M658.0 147.7h.3M659.0 147.8h.3M660.0 147.6h.3M661.0 147.3h.3M662.0 147.6h.3M663.0 147.5h.3M664.0 147.9h.3M665.0 147.4h.3M666.0 147.8h.3M667.0 147.9h.3M668.0 147.7h.3M669.0 147.8h.3M670.0 147.4h.3M671.0 147.9h.3M672.0 147.6h.3M673.0 147.9h.3M674.0 147.9h.3M675.0 147.4h.3M676.0 147.8h.3" fill="none" stroke="#5e5e5e" stroke-width="2.3" stroke-linecap="round"/><path d="M470 216.8 L470.6 216.8 L471.2 216.8 L471.8 216.8 L472.4 216.8 L473 216.8 L473.6 216.8 L474.2 216.8 L474.8 216.8 L475.4 216.8 L476 216.8 L476.6 216.8 L477.2 216.8 L477.8 216.8 L478.4 216.8 L479 216.8 L479.6 216.8 L480.2 216.8 L480.8 216.8 L481.4 216.8 L482 216.8 L482.6 216.8 L483.2 216.8 L483.8 216.8 L484.4 216.8 L485 216.8 L485.6 216.8 L486.2 216.8 L486.8 216.8 L487.4 216.8 L488 216.8 L488.6 216.8 L489.2 216.8 L489.8 216.8 L490.4 216.8 L491 216.8 L491.6 216.8 L492.2 216.8 L492.8 216.8 L493.4 216.8 L494 216.8 L494.6 216.8 L495.2 216.8 L495.8 216.8 L496.4 216.8 L497 216.8 L497.6 216.8 L498.2 216.8 L498.8 216.8 L499.4 216.8 L500 216.8 L500.6 216.8 L501.2 216.8 L501.8 216.8 L502.4 216.8 L503 216.8 L503.6 216.8 L504.2 216.8 L504.8 216.8 L505.4 216.8 L506 216.8 L506.6 216.8 L507.2 216.8 L507.8 216.8 L508.4 216.8 L509 216.8 L509.6 216.8 L510.2 216.8 L510.8 216.8 L511.4 216.8 L512 216.8 L512.6 216.8 L513.2 216.8 L513.8 216.8 L514.4 216.8 L515 216.8 L515.6 216.8 L516.2 216.8 L516.8 216.8 L517.4 216.8 L518 216.8 L518.6 216.8 L519.2 216.8 L519.8 216.8 L520.4 216.8 L521 216.8 L521.6 216.8 L522.2 216.8 L522.8 216.8 L523.4 216.8 L524 216.8 L524.6 216.8 L525.2 216.8 L525.8 216.8 L526.4 216.8 L527 216.8 L527.6 216.8 L528.2 216.8 L528.8 216.8 L529.4 216.8 L530 216.8 L530.6 216.8 L531.2 216.8 L531.8 216.8 L532.4 216.8 L533 216.8 L533.6 216.8 L534.2 216.8 L534.8 216.8 L535.4 216.8 L536 216.8 L536.6 216.8 L537.2 216.8 L537.8 216.8 L538.4 216.8 L539 216.8 L539.6 216.8 L540.2 216.8 L540.8 216.8 L541.4 216.8 L542 216.8 L542.6 216.8 L543.2 216.8 L543.8 216.8 L544.4 216.7 L545 216.7 L545.6 216.7 L546.2 216.7 L546.8 216.7 L547.4 216.6 L548 216.6 L548.6 216.5 L549.2 216.5 L549.8 216.4 L550.4 216.3 L551 216.2 L551.6 216.1 L552.2 215.9 L552.8 215.7 L553.4 215.5 L554 215.3 L554.6 215 L555.2 214.6 L555.8 214.3 L556.4 213.8 L557 213.3 L557.6 212.7 L558.2 212 L558.8 211.3 L559.4 210.5 L560 209.5 L560.6 208.5 L561.2 207.4 L561.8 206.1 L562.4 204.8 L563 203.3 L563.6 201.7 L564.2 200 L564.8 198.2 L565.4 196.3 L566 194.2 L566.6 192.1 L567.2 189.9 L567.8 187.6 L568.4 185.3 L569 182.9 L569.6 180.5 L570.2 178.1 L570.8 175.7 L571.4 173.3 L572 171 L572.6 168.8 L573.2 166.6 L573.8 164.6 L574.4 162.8 L575 161.1 L575.6 159.6 L576.2 158.4 L576.8 157.3 L577.4 156.5 L578 156 L578.6 155.7 L579.2 155.6 L579.8 155.8 L580.4 156.1 L581 156.6 L581.6 157.3 L582.2 158.2 L582.8 159.3 L583.4 160.5 L584 161.8 L584.6 163.3 L585.2 164.9 L585.8 166.6 L586.4 168.4 L587 170.3 L587.6 172.2 L588.2 174.2 L588.8 176.3 L589.4 178.3 L590 180.4 L590.6 182.4 L591.2 184.5 L591.8 186.5 L592.4 188.5 L593 190.4 L593.6 192.3 L594.2 194.1 L594.8 195.8 L595.4 197.5 L596 199.1 L596.6 200.6 L597.2 202 L597.8 203.3 L598.4 204.6 L599 205.8 L599.6 206.9 L600.2 207.9 L600.8 208.8 L601.4 209.7 L602 210.5 L602.6 211.2 L603.2 211.8 L603.8 212.4 L604.4 212.9 L605 213.4 L605.6 213.9 L606.2 214.2 L606.8 214.6 L607.4 214.9 L608 215.1 L608.6 215.4 L609.2 215.6 L609.8 215.8 L610.4 215.9 L611 216 L611.6 216.2 L612.2 216.3 L612.8 216.3 L613.4 216.4 L614 216.5 L614.6 216.5 L615.2 216.6 L615.8 216.6" fill="none" stroke="#3a6cf2" stroke-width="1.45" stroke-linejoin="round" stroke-linecap="round" /><path d="M470 216.8 L470.6 216.8 L471.2 216.8 L471.8 216.8 L472.4 216.8 L473 216.8 L473.6 216.8 L474.2 216.8 L474.8 216.8 L475.4 216.8 L476 216.8 L476.6 216.8 L477.2 216.8 L477.8 216.8 L478.4 216.8 L479 216.8 L479.6 216.8 L480.2 216.8 L480.8 216.8 L481.4 216.8 L482 216.8 L482.6 216.8 L483.2 216.8 L483.8 216.8 L484.4 216.8 L485 216.8 L485.6 216.8 L486.2 216.8 L486.8 216.8 L487.4 216.8 L488 216.8 L488.6 216.8 L489.2 216.8 L489.8 216.8 L490.4 216.8 L491 216.8 L491.6 216.8 L492.2 216.8 L492.8 216.8 L493.4 216.8 L494 216.8 L494.6 216.8 L495.2 216.8 L495.8 216.8 L496.4 216.8 L497 216.8 L497.6 216.8 L498.2 216.8 L498.8 216.8 L499.4 216.8 L500 216.8 L500.6 216.8 L501.2 216.8 L501.8 216.8 L502.4 216.8 L503 216.8 L503.6 216.8 L504.2 216.8 L504.8 216.8 L505.4 216.8 L506 216.8 L506.6 216.8 L507.2 216.8 L507.8 216.8 L508.4 216.8 L509 216.8 L509.6 216.8 L510.2 216.8 L510.8 216.8 L511.4 216.8 L512 216.8 L512.6 216.8 L513.2 216.8 L513.8 216.8 L514.4 216.8 L515 216.8 L515.6 216.8 L516.2 216.8 L516.8 216.8 L517.4 216.8 L518 216.8 L518.6 216.8 L519.2 216.8 L519.8 216.8 L520.4 216.8 L521 216.8 L521.6 216.8 L522.2 216.8 L522.8 216.8 L523.4 216.8 L524 216.8 L524.6 216.8 L525.2 216.8 L525.8 216.8 L526.4 216.8 L527 216.8 L527.6 216.8 L528.2 216.8 L528.8 216.8 L529.4 216.8 L530 216.8 L530.6 216.8 L531.2 216.8 L531.8 216.8 L532.4 216.8 L533 216.8 L533.6 216.8 L534.2 216.8 L534.8 216.8 L535.4 216.8 L536 216.8 L536.6 216.8 L537.2 216.8 L537.8 216.8 L538.4 216.8 L539 216.8 L539.6 216.8 L540.2 216.8 L540.8 216.8 L541.4 216.8 L542 216.8 L542.6 216.7 L543.2 216.7 L543.8 216.7 L544.4 216.7 L545 216.6 L545.6 216.6 L546.2 216.5 L546.8 216.5 L547.4 216.4 L548 216.3 L548.6 216.2 L549.2 216 L549.8 215.9 L550.4 215.7 L551 215.5 L551.6 215.2 L552.2 214.9 L552.8 214.6 L553.4 214.2 L554 213.8 L554.6 213.4 L555.2 212.9 L555.8 212.4 L556.4 211.9 L557 211.3 L557.6 210.8 L558.2 210.2 L558.8 209.6 L559.4 209 L560 208.5 L560.6 207.9 L561.2 207.4 L561.8 207 L562.4 206.6 L563 206.2 L563.6 206 L564.2 205.8 L564.8 205.6 L565.4 205.6 L566 205.6 L566.6 205.8 L567.2 206 L567.8 206.2 L568.4 206.6 L569 207 L569.6 207.4 L570.2 207.9 L570.8 208.5 L571.4 209 L572 209.6 L572.6 210.2 L573.2 210.8 L573.8 211.3 L574.4 211.9 L575 212.4 L575.6 212.9 L576.2 213.4 L576.8 213.8 L577.4 214.2 L578 214.6 L578.6 214.9 L579.2 215.2 L579.8 215.5 L580.4 215.7 L581 215.9 L581.6 216 L582.2 216.2 L582.8 216.3 L583.4 216.4 L584 216.5 L584.6 216.5 L585.2 216.6 L585.8 216.6 L586.4 216.7 L587 216.7 L587.6 216.7 L588.2 216.7 L588.8 216.8 L589.4 216.8 L590 216.8 L590.6 216.8 L591.2 216.8 L591.8 216.8 L592.4 216.8 L593 216.8 L593.6 216.8 L594.2 216.8 L594.8 216.8 L595.4 216.8 L596 216.8 L596.6 216.8 L597.2 216.8 L597.8 216.8 L598.4 216.8 L599 216.8 L599.6 216.8 L600.2 216.8 L600.8 216.8 L601.4 216.8 L602 216.8 L602.6 216.8 L603.2 216.8 L603.8 216.8 L604.4 216.8 L605 216.8 L605.6 216.8 L606.2 216.8 L606.8 216.8 L607.4 216.8 L608 216.8 L608.6 216.8 L609.2 216.8 L609.8 216.8 L610.4 216.8 L611 216.8 L611.6 216.8 L612.2 216.8 L612.8 216.8 L613.4 216.8 L614 216.8 L614.6 216.8 L615.2 216.8 L615.8 216.8" fill="none" stroke="#3a6cf2" stroke-width="1.45" stroke-linejoin="round" stroke-linecap="round" /><path d="M470 216.8 L470.6 216.8 L471.2 216.8 L471.8 216.8 L472.4 216.8 L473 216.8 L473.6 216.8 L474.2 216.8 L474.8 216.8 L475.4 216.8 L476 216.8 L476.6 216.8 L477.2 216.8 L477.8 216.8 L478.4 216.8 L479 216.8 L479.6 216.8 L480.2 216.8 L480.8 216.8 L481.4 216.8 L482 216.8 L482.6 216.8 L483.2 216.8 L483.8 216.8 L484.4 216.8 L485 216.8 L485.6 216.8 L486.2 216.8 L486.8 216.8 L487.4 216.8 L488 216.8 L488.6 216.8 L489.2 216.8 L489.8 216.8 L490.4 216.8 L491 216.8 L491.6 216.8 L492.2 216.8 L492.8 216.8 L493.4 216.8 L494 216.8 L494.6 216.8 L495.2 216.8 L495.8 216.8 L496.4 216.8 L497 216.8 L497.6 216.8 L498.2 216.8 L498.8 216.8 L499.4 216.8 L500 216.8 L500.6 216.8 L501.2 216.8 L501.8 216.8 L502.4 216.8 L503 216.8 L503.6 216.8 L504.2 216.8 L504.8 216.8 L505.4 216.8 L506 216.8 L506.6 216.8 L507.2 216.8 L507.8 216.7 L508.4 216.7 L509 216.7 L509.6 216.7 L510.2 216.7 L510.8 216.7 L511.4 216.6 L512 216.6 L512.6 216.6 L513.2 216.6 L513.8 216.5 L514.4 216.5 L515 216.4 L515.6 216.4 L516.2 216.3 L516.8 216.2 L517.4 216.1 L518 216 L518.6 215.9 L519.2 215.8 L519.8 215.7 L520.4 215.5 L521 215.4 L521.6 215.2 L522.2 215 L522.8 214.8 L523.4 214.5 L524 214.3 L524.6 214 L525.2 213.7 L525.8 213.4 L526.4 213.1 L527 212.7 L527.6 212.3 L528.2 211.9 L528.8 211.5 L529.4 211.1 L530 210.6 L530.6 210.1 L531.2 209.6 L531.8 209.1 L532.4 208.6 L533 208.1 L533.6 207.5 L534.2 207 L534.8 206.4 L535.4 205.8 L536 205.3 L536.6 204.7 L537.2 204.2 L537.8 203.7 L538.4 203.2 L539 202.7 L539.6 202.2 L540.2 201.8 L540.8 201.4 L541.4 201 L542 200.7 L542.6 200.4 L543.2 200.1 L543.8 199.9 L544.4 199.7 L545 199.6 L545.6 199.5 L546.2 199.5 L546.8 199.5 L547.4 199.6 L548 199.7 L548.6 199.9 L549.2 200.1 L549.8 200.4 L550.4 200.7 L551 201 L551.6 201.4 L552.2 201.8 L552.8 202.2 L553.4 202.7 L554 203.2 L554.6 203.7 L555.2 204.2 L555.8 204.7 L556.4 205.3 L557 205.8 L557.6 206.4 L558.2 207 L558.8 207.5 L559.4 208.1 L560 208.6 L560.6 209.1 L561.2 209.6 L561.8 210.1 L562.4 210.6 L563 211.1 L563.6 211.5 L564.2 211.9 L564.8 212.3 L565.4 212.7 L566 213.1 L566.6 213.4 L567.2 213.7 L567.8 214 L568.4 214.3 L569 214.5 L569.6 214.8 L570.2 215 L570.8 215.2 L571.4 215.4 L572 215.5 L572.6 215.7 L573.2 215.8 L573.8 215.9 L574.4 216 L575 216.1 L575.6 216.2 L576.2 216.3 L576.8 216.4 L577.4 216.4 L578 216.5 L578.6 216.5 L579.2 216.6 L579.8 216.6 L580.4 216.6 L581 216.6 L581.6 216.7 L582.2 216.7 L582.8 216.7 L583.4 216.7 L584 216.7 L584.6 216.7 L585.2 216.8 L585.8 216.8 L586.4 216.8 L587 216.8 L587.6 216.8 L588.2 216.8 L588.8 216.8 L589.4 216.8 L590 216.8 L590.6 216.8 L591.2 216.8 L591.8 216.8 L592.4 216.8 L593 216.8 L593.6 216.8 L594.2 216.8 L594.8 216.8 L595.4 216.8 L596 216.8 L596.6 216.8 L597.2 216.8 L597.8 216.8 L598.4 216.8 L599 216.8 L599.6 216.8 L600.2 216.8 L600.8 216.8 L601.4 216.8 L602 216.8 L602.6 216.8 L603.2 216.8 L603.8 216.8 L604.4 216.8 L605 216.8 L605.6 216.8 L606.2 216.8 L606.8 216.8 L607.4 216.8 L608 216.8 L608.6 216.8 L609.2 216.8 L609.8 216.8 L610.4 216.8 L611 216.8 L611.6 216.8 L612.2 216.8 L612.8 216.8 L613.4 216.8 L614 216.8 L614.6 216.8 L615.2 216.8 L615.8 216.8" fill="none" stroke="#3a6cf2" stroke-width="1.45" stroke-linejoin="round" stroke-linecap="round" /><path d="M470 216.3 L470.6 216.2 L471.2 216.1 L471.8 216 L472.4 215.9 L473 215.8 L473.6 215.7 L474.2 215.5 L474.8 215.4 L475.4 215.2 L476 215.1 L476.6 214.9 L477.2 214.7 L477.8 214.4 L478.4 214.2 L479 213.9 L479.6 213.7 L480.2 213.4 L480.8 213.1 L481.4 212.8 L482 212.4 L482.6 212.1 L483.2 211.7 L483.8 211.3 L484.4 210.9 L485 210.5 L485.6 210.1 L486.2 209.6 L486.8 209.2 L487.4 208.7 L488 208.3 L488.6 207.8 L489.2 207.4 L489.8 206.9 L490.4 206.5 L491 206 L491.6 205.6 L492.2 205.2 L492.8 204.8 L493.4 204.4 L494 204 L494.6 203.7 L495.2 203.4 L495.8 203.1 L496.4 202.8 L497 202.6 L497.6 202.4 L498.2 202.3 L498.8 202.1 L499.4 202.1 L500 202 L500.6 202 L501.2 202 L501.8 202.1 L502.4 202.2 L503 202.4 L503.6 202.5 L504.2 202.7 L504.8 203 L505.4 203.3 L506 203.6 L506.6 203.9 L507.2 204.3 L507.8 204.6 L508.4 205 L509 205.5 L509.6 205.9 L510.2 206.3 L510.8 206.8 L511.4 207.2 L512 207.7 L512.6 208.1 L513.2 208.6 L513.8 209 L514.4 209.5 L515 209.9 L515.6 210.3 L516.2 210.8 L516.8 211.2 L517.4 211.6 L518 211.9 L518.6 212.3 L519.2 212.6 L519.8 213 L520.4 213.3 L521 213.6 L521.6 213.9 L522.2 214.1 L522.8 214.4 L523.4 214.6 L524 214.8 L524.6 215 L525.2 215.2 L525.8 215.3 L526.4 215.5 L527 215.6 L527.6 215.8 L528.2 215.9 L528.8 216 L529.4 216.1 L530 216.2 L530.6 216.2 L531.2 216.3 L531.8 216.4 L532.4 216.4 L533 216.5 L533.6 216.5 L534.2 216.6 L534.8 216.6 L535.4 216.6 L536 216.6 L536.6 216.7 L537.2 216.7 L537.8 216.7 L538.4 216.7 L539 216.7 L539.6 216.7 L540.2 216.7 L540.8 216.8 L541.4 216.8 L542 216.8 L542.6 216.8 L543.2 216.8 L543.8 216.8 L544.4 216.8 L545 216.8 L545.6 216.8 L546.2 216.8 L546.8 216.8 L547.4 216.8 L548 216.8 L548.6 216.8 L549.2 216.8 L549.8 216.8 L550.4 216.8 L551 216.8 L551.6 216.8 L552.2 216.8 L552.8 216.8 L553.4 216.8 L554 216.8 L554.6 216.8 L555.2 216.8 L555.8 216.8 L556.4 216.8 L557 216.8 L557.6 216.8 L558.2 216.8 L558.8 216.8 L559.4 216.8 L560 216.8 L560.6 216.8 L561.2 216.8 L561.8 216.8 L562.4 216.8 L563 216.8 L563.6 216.8 L564.2 216.8 L564.8 216.8 L565.4 216.8 L566 216.8 L566.6 216.8 L567.2 216.8 L567.8 216.8 L568.4 216.8 L569 216.8 L569.6 216.8 L570.2 216.8 L570.8 216.8 L571.4 216.8 L572 216.8 L572.6 216.8 L573.2 216.8 L573.8 216.8 L574.4 216.8 L575 216.8 L575.6 216.8 L576.2 216.8 L576.8 216.8 L577.4 216.8 L578 216.8 L578.6 216.8 L579.2 216.8 L579.8 216.8 L580.4 216.8 L581 216.8 L581.6 216.8 L582.2 216.8 L582.8 216.8 L583.4 216.8 L584 216.8 L584.6 216.8 L585.2 216.8 L585.8 216.8 L586.4 216.8 L587 216.8 L587.6 216.8 L588.2 216.8 L588.8 216.8 L589.4 216.8 L590 216.8 L590.6 216.8 L591.2 216.8 L591.8 216.8 L592.4 216.8 L593 216.8 L593.6 216.8 L594.2 216.8 L594.8 216.8 L595.4 216.8 L596 216.8 L596.6 216.8 L597.2 216.8 L597.8 216.8 L598.4 216.8 L599 216.8 L599.6 216.8 L600.2 216.8 L600.8 216.8 L601.4 216.8 L602 216.8 L602.6 216.8 L603.2 216.8 L603.8 216.8 L604.4 216.8 L605 216.8 L605.6 216.8 L606.2 216.8 L606.8 216.8 L607.4 216.8 L608 216.8 L608.6 216.8 L609.2 216.8 L609.8 216.8 L610.4 216.8 L611 216.8 L611.6 216.8 L612.2 216.8 L612.8 216.8 L613.4 216.8 L614 216.8 L614.6 216.8 L615.2 216.8 L615.8 216.8" fill="none" stroke="#3a6cf2" stroke-width="1.45" stroke-linejoin="round" stroke-linecap="round" /><line x1="470" y1="217.7" x2="617" y2="217.7" stroke="#c8326e" stroke-width="1.2"/><path d="M470 215.9 L470.5 215.8 L471 215.8 L471.5 215.7 L472 215.7 L472.5 215.7 L473 215.6 L473.5 215.6 L474 215.5 L474.5 215.5 L475 215.4 L475.5 215.3 L476 215.2 L476.5 215.1 L477 215 L477.5 214.9 L478 214.8 L478.5 214.6 L479 214.4 L479.5 214.2 L480 214 L480.5 213.7 L481 213.4 L481.5 213 L482 212.7 L482.5 212.3 L483 211.9 L483.5 211.5 L484 211.1 L484.5 210.7 L485 210.3 L485.5 209.9 L486 209.6 L486.5 209.2 L487 208.8 L487.5 208.5 L488 208.1 L488.5 207.8 L489 207.5 L489.5 207.2 L490 206.9 L490.5 206.6 L491 206.3 L491.5 206 L492 205.6 L492.5 205.3 L493 205 L493.5 204.7 L494 204.4 L494.5 204.1 L495 203.8 L495.5 203.6 L496 203.3 L496.5 203.1 L497 202.8 L497.5 202.6 L498 202.4 L498.5 202.3 L499 202.1 L499.5 202 L500 201.9 L500.5 201.9 L501 201.9 L501.5 202 L502 202.1 L502.5 202.2 L503 202.4 L503.5 202.7 L504 202.9 L504.5 203.2 L505 203.6 L505.5 203.9 L506 204.3 L506.5 204.7 L507 205 L507.5 205.4 L508 205.7 L508.5 206 L509 206.3 L509.5 206.5 L510 206.7 L510.5 206.9 L511 207.1 L511.5 207.4 L512 207.6 L512.5 207.8 L513 208 L513.5 208.2 L514 208.4 L514.5 208.6 L515 208.8 L515.5 209 L516 209.1 L516.5 209.3 L517 209.5 L517.5 209.6 L518 209.7 L518.5 209.8 L519 209.9 L519.5 210 L520 210.1 L520.5 210.1 L521 210.1 L521.5 210.2 L522 210.1 L522.5 210.1 L523 210.1 L523.5 210 L524 210 L524.5 209.9 L525 209.8 L525.5 209.7 L526 209.6 L526.5 209.5 L527 209.4 L527.5 209.2 L528 209.1 L528.5 208.9 L529 208.8 L529.5 208.6 L530 208.4 L530.5 208.2 L531 207.9 L531.5 207.7 L532 207.3 L532.5 207 L533 206.6 L533.5 206.2 L534 205.7 L534.5 205.3 L535 204.8 L535.5 204.4 L536 204 L536.5 203.6 L537 203.1 L537.5 202.7 L538 202.2 L538.5 201.8 L539 201.3 L539.5 200.9 L540 200.4 L540.5 200 L541 199.5 L541.5 199.1 L542 198.6 L542.5 198.2 L543 197.9 L543.5 197.5 L544 197.1 L544.5 196.8 L545 196.4 L545.5 196.1 L546 195.7 L546.5 195.4 L547 195 L547.5 194.6 L548 194.2 L548.5 193.8 L549 193.4 L549.5 192.9 L550 192.4 L550.5 192 L551 191.5 L551.5 191 L552 190.5 L552.5 190 L553 189.4 L553.5 188.9 L554 188.3 L554.5 187.7 L555 187.1 L555.5 186.5 L556 185.8 L556.5 185.1 L557 184.3 L557.5 183.6 L558 182.8 L558.5 181.9 L559 181.1 L559.5 180.1 L560 179.2 L560.5 178.1 L561 177 L561.5 175.9 L562 174.8 L562.5 173.6 L563 172.4 L563.5 171.3 L564 170 L564.5 168.8 L565 167.6 L565.5 166.3 L566 165.1 L566.5 163.9 L567 162.8 L567.5 161.7 L568 160.6 L568.5 159.6 L569 158.6 L569.5 157.6 L570 156.7 L570.5 155.8 L571 155 L571.5 154.2 L572 153.5 L572.5 152.9 L573 152.3 L573.5 151.7 L574 151.2 L574.5 150.8 L575 150.4 L575.5 150 L576 149.7 L576.5 149.5 L577 149.4 L577.5 149.3 L578 149.4 L578.5 149.6 L579 149.9 L579.5 150.2 L580 150.6 L580.5 151 L581 151.5 L581.5 152.1 L582 152.7 L582.5 153.5 L583 154.4 L583.5 155.5 L584 156.9 L584.5 158.5 L585 160.2 L585.5 162 L586 163.7 L586.5 165.4 L587 167.2 L587.5 169 L588 170.9 L588.5 172.7 L589 174.5 L589.5 176.3 L590 178 L590.5 179.8 L591 181.5 L591.5 183.2 L592 184.8 L592.5 186.4 L593 188 L593.5 189.5 L594 191 L594.5 192.4 L595 193.8 L595.5 195.1 L596 196.4 L596.5 197.7 L597 198.9 L597.5 200.1 L598 201.3 L598.5 202.4 L599 203.4 L599.5 204.5 L600 205.5 L600.5 206.5 L601 207.4 L601.5 208.2 L602 209 L602.5 209.6 L603 210.3 L603.5 210.8 L604 211.3 L604.5 211.8 L605 212.3 L605.5 212.7 L606 213.1 L606.5 213.5 L607 213.8 L607.5 214.1 L608 214.4 L608.5 214.7 L609 215 L609.5 215.3 L610 215.5 L610.5 215.8 L611 216 L611.5 216.2 L612 216.4 L612.5 216.5 L613 216.7 L613.5 216.8 L614 217 L614.5 217.1 L615 217.2 L615.5 217.3 L616 217.4 L616.5 217.4 L617 217.5 L617.5 217.6 L618 217.6 L618.5 217.6 L619 217.7 L619.5 217.7 L620 217.7 L620.5 217.8 L621 217.8 L621.5 217.8 L622 217.8 L622.5 217.9 L623 217.9 L623.5 217.9 L624 217.9 L624.5 218 L625 218" fill="none" stroke="#e04c58" stroke-width="1.15" stroke-linejoin="round" stroke-linecap="round" /><path d="M385.0 216.5h.3M386.0 215.9h.3M387.0 216.1h.3M388.0 216.4h.3M389.0 216.0h.3M390.0 216.5h.3M391.0 216.1h.3M392.0 216.4h.3M393.0 216.0h.3M394.0 216.2h.3M395.0 216.5h.3M396.0 216.0h.3M397.0 216.0h.3M398.0 216.2h.3M399.0 216.1h.3M400.0 215.9h.3M401.0 216.0h.3M402.0 216.0h.3M403.0 216.5h.3M404.0 216.3h.3M405.0 216.5h.3M406.0 216.0h.3M407.0 216.4h.3M408.0 216.0h.3M409.0 216.2h.3M410.0 216.3h.3M411.0 216.1h.3M412.0 216.4h.3M413.0 216.2h.3M414.0 216.3h.3M415.0 216.4h.3M416.0 215.9h.3M417.0 216.5h.3M418.0 216.3h.3M419.0 216.1h.3M420.0 216.4h.3M421.0 216.0h.3M422.0 216.5h.3M423.0 216.2h.3M424.0 216.1h.3M425.0 216.4h.3M426.0 216.2h.3M427.0 216.0h.3M428.0 216.4h.3M429.0 215.9h.3M430.0 216.4h.3M431.0 216.0h.3M432.0 216.3h.3M433.0 216.5h.3M434.0 216.3h.3M435.0 216.3h.3M436.0 216.1h.3M437.0 215.9h.3M438.0 215.9h.3M439.0 216.0h.3M440.0 216.3h.3M441.0 216.2h.3M442.0 216.2h.3M443.0 216.5h.3M444.0 216.0h.3M445.0 216.0h.3M446.0 216.3h.3M447.0 215.9h.3M448.0 215.9h.3M449.0 216.1h.3M450.0 215.9h.3M451.0 216.1h.3M452.0 216.0h.3M453.0 216.3h.3M454.0 216.3h.3M455.0 216.0h.3M456.0 216.3h.3M457.0 216.2h.3M458.0 216.0h.3M459.0 216.5h.3M460.0 216.0h.3M461.0 216.0h.3M462.0 215.9h.3M463.0 216.3h.3M464.0 216.4h.3M465.0 216.4h.3M466.0 216.1h.3M467.0 216.0h.3M468.0 215.8h.3M469.0 216.1h.3M470.0 215.9h.3M471.0 215.7h.3M472.0 215.8h.3M473.0 215.6h.3M474.0 215.8h.3M475.0 215.5h.3M476.0 215.1h.3M477.0 215.3h.3M478.0 214.5h.3M479.0 214.4h.3M480.0 213.9h.3M481.0 213.2h.3M482.0 212.4h.3M483.0 212.1h.3M484.0 210.8h.3M485.0 210.4h.3M486.0 209.8h.3M487.0 208.6h.3M488.0 207.9h.3M489.0 207.6h.3M490.0 206.9h.3M491.0 206.4h.3M492.0 205.8h.3M493.0 204.8h.3M494.0 204.3h.3M495.0 203.7h.3M496.0 203.0h.3M497.0 203.1h.3M498.0 202.6h.3M499.0 202.3h.3M500.0 201.6h.3M501.0 202.1h.3M502.0 202.2h.3M503.0 202.4h.3M504.0 203.1h.3M505.0 203.6h.3M506.0 204.1h.3M507.0 204.8h.3M508.0 205.5h.3M509.0 206.0h.3M510.0 206.6h.3M511.0 207.3h.3M512.0 207.7h.3M513.0 208.2h.3M514.0 208.5h.3M515.0 208.6h.3M516.0 209.2h.3M517.0 209.4h.3M518.0 209.9h.3M519.0 210.0h.3M520.0 209.9h.3M521.0 210.2h.3M522.0 210.4h.3M523.0 209.9h.3M524.0 210.2h.3M525.0 209.5h.3M526.0 209.5h.3M527.0 209.2h.3M528.0 209.3h.3M529.0 209.1h.3M530.0 208.6h.3M531.0 207.8h.3M532.0 207.6h.3M533.0 206.5h.3M534.0 205.6h.3M535.0 205.1h.3M536.0 204.0h.3M537.0 203.3h.3M538.0 202.4h.3M539.0 201.6h.3M540.0 200.4h.3M541.0 199.7h.3M542.0 198.8h.3M543.0 198.1h.3M544.0 197.1h.3M545.0 196.6h.3M546.0 195.8h.3M547.0 194.9h.3M548.0 194.0h.3M549.0 193.4h.3M550.0 192.2h.3M551.0 191.8h.3M552.0 190.3h.3M553.0 189.1h.3M554.0 188.1h.3M555.0 187.4h.3M556.0 185.7h.3M557.0 184.1h.3M558.0 182.5h.3M559.0 180.8h.3M560.0 179.3h.3M561.0 177.1h.3M562.0 174.9h.3M563.0 172.6h.3M564.0 169.8h.3M565.0 167.6h.3M566.0 165.0h.3M567.0 163.0h.3M568.0 160.8h.3M569.0 158.8h.3M570.0 156.4h.3M571.0 155.2h.3M572.0 153.8h.3M573.0 152.5h.3M574.0 151.0h.3M575.0 150.2h.3M576.0 149.5h.3M577.0 149.1h.3M578.0 149.7h.3M579.0 150.1h.3M580.0 150.7h.3M581.0 151.7h.3M582.0 152.8h.3M583.0 154.2h.3M584.0 156.7h.3M585.0 160.0h.3M586.0 163.8h.3M587.0 167.0h.3M588.0 170.8h.3M589.0 174.5h.3M590.0 177.7h.3M591.0 181.4h.3M592.0 184.7h.3M593.0 188.1h.3M594.0 190.9h.3M595.0 193.7h.3M596.0 196.7h.3M597.0 198.9h.3M598.0 201.5h.3M599.0 203.5h.3M600.0 205.2h.3M601.0 207.3h.3M602.0 208.9h.3M603.0 210.4h.3M604.0 211.2h.3M605.0 212.4h.3M606.0 213.1h.3M607.0 213.6h.3M608.0 214.7h.3M609.0 214.8h.3M610.0 215.7h.3M611.0 215.8h.3M612.0 216.0h.3M613.0 216.5h.3M614.0 217.1h.3M615.0 217.5h.3M616.0 217.1h.3M617.0 217.5h.3M618.0 217.6h.3M619.0 217.9h.3M620.0 217.5h.3M621.0 217.8h.3M622.0 217.8h.3M623.0 218.1h.3M624.0 217.8h.3M625.0 218.3h.3M626.0 217.9h.3M627.0 218.0h.3M628.0 218.3h.3M629.0 218.2h.3M630.0 218.0h.3M631.0 218.3h.3M632.0 217.9h.3M633.0 218.4h.3M634.0 218.3h.3M635.0 218.4h.3M636.0 218.3h.3M637.0 218.1h.3M638.0 218.1h.3M639.0 218.1h.3M640.0 218.4h.3M641.0 217.9h.3M642.0 218.4h.3M643.0 217.9h.3M644.0 218.0h.3M645.0 218.0h.3M646.0 218.5h.3M647.0 218.2h.3M648.0 218.1h.3M649.0 218.4h.3M650.0 218.0h.3M651.0 218.2h.3M652.0 218.2h.3M653.0 218.4h.3M654.0 218.4h.3M655.0 218.3h.3M656.0 218.1h.3M657.0 218.1h.3M658.0 218.0h.3M659.0 218.4h.3M660.0 218.3h.3M661.0 218.4h.3M662.0 218.0h.3M663.0 218.2h.3M664.0 218.4h.3M665.0 218.3h.3M666.0 218.0h.3M667.0 218.2h.3M668.0 218.4h.3M669.0 218.0h.3M670.0 218.0h.3M671.0 218.1h.3M672.0 218.3h.3M673.0 218.4h.3M674.0 218.0h.3M675.0 218.0h.3M676.0 218.0h.3" fill="none" stroke="#111" stroke-width="2.4" stroke-linecap="round"/><text x="388.9" y="65.3" font-size="11" fill="#a6a6a6" stroke="#a6a6a6" stroke-width="0.18" font-weight="bold" font-style="italic" text-anchor="start" >SG3/CBD/GO</text><text x="387" y="141.8" font-size="11" fill="#6e6e6e" stroke="#6e6e6e" stroke-width="0.18" font-weight="bold" font-style="italic" text-anchor="start" >SG3/GO</text><text x="387.2" y="211.6" font-size="11" fill="#111" stroke="#111" stroke-width="0.18" font-weight="bold" font-style="italic" text-anchor="start" >SG3</text><text x="597" y="21.3" fill="#34558f" stroke="#34558f" stroke-width="0.15" font-weight="bold" font-style="italic"><tspan font-size="9.4" font-style="normal">C</tspan><tspan font-size="7.2">-C/H</tspan></text><text x="543" y="25" fill="#34558f" stroke="#34558f" stroke-width="0.15" font-weight="bold" font-style="italic"><tspan font-size="9.4" font-style="normal">C</tspan><tspan font-size="7.2">-C=O</tspan></text><text x="528.6" y="41.6" fill="#34558f" stroke="#34558f" stroke-width="0.15" font-weight="bold" font-style="italic"><tspan font-size="9.4" font-style="normal">C</tspan><tspan font-size="7.2">-O</tspan></text><text x="488.6" y="54.3" fill="#34558f" stroke="#34558f" stroke-width="0.15" font-weight="bold" font-style="italic"><tspan font-size="7.2">O-</tspan><tspan font-size="9.4" font-style="normal">C</tspan><tspan font-size="7.2">=O</tspan></text><line x1="596.5" y1="19.8" x2="581.2" y2="25.5" stroke="#34558f" stroke-width="0.8"/><line x1="548.5" y1="26.2" x2="564.8" y2="56.2" stroke="#34558f" stroke-width="0.8"/><line x1="534.8" y1="43.3" x2="545.8" y2="56.2" stroke="#34558f" stroke-width="0.8"/><line x1="500" y1="56.2" x2="500" y2="59.7" stroke="#34558f" stroke-width="0.8"/><text x="1.3" y="274.2" font-size="15.5" fill="#222" stroke="#222" stroke-width="0.18" font-weight="normal" font-style="normal" text-anchor="start" >(c)</text><rect x="28.1" y="263.3" width="292.9" height="221.1" fill="none" stroke="#161616" stroke-width="1.5" stroke-linejoin="round"/><line x1="319.3" y1="484.4" x2="319.3" y2="489.7" stroke="#2b2b2b" stroke-width="1.3"/><text x="319.3" y="498.2" font-size="8.2" fill="#222" stroke="#222" stroke-width="0.18" font-weight="normal" font-style="normal" text-anchor="middle" >526</text><line x1="298.6" y1="484.4" x2="298.6" y2="487.4" stroke="#2b2b2b" stroke-width="1.3"/><line x1="278" y1="484.4" x2="278" y2="489.7" stroke="#2b2b2b" stroke-width="1.3"/><text x="278" y="498.2" font-size="8.2" fill="#222" stroke="#222" stroke-width="0.18" font-weight="normal" font-style="normal" text-anchor="middle" >528</text><line x1="257.3" y1="484.4" x2="257.3" y2="487.4" stroke="#2b2b2b" stroke-width="1.3"/><line x1="236.7" y1="484.4" x2="236.7" y2="489.7" stroke="#2b2b2b" stroke-width="1.3"/><text x="236.7" y="498.2" font-size="8.2" fill="#222" stroke="#222" stroke-width="0.18" font-weight="normal" font-style="normal" text-anchor="middle" >530</text><line x1="216" y1="484.4" x2="216" y2="487.4" stroke="#2b2b2b" stroke-width="1.3"/><line x1="195.3" y1="484.4" x2="195.3" y2="489.7" stroke="#2b2b2b" stroke-width="1.3"/><text x="195.3" y="498.2" font-size="8.2" fill="#222" stroke="#222" stroke-width="0.18" font-weight="normal" font-style="normal" text-anchor="middle" >532</text><line x1="174.7" y1="484.4" x2="174.7" y2="487.4" stroke="#2b2b2b" stroke-width="1.3"/><line x1="154" y1="484.4" x2="154" y2="489.7" stroke="#2b2b2b" stroke-width="1.3"/><text x="154" y="498.2" font-size="8.2" fill="#222" stroke="#222" stroke-width="0.18" font-weight="normal" font-style="normal" text-anchor="middle" >534</text><line x1="133.4" y1="484.4" x2="133.4" y2="487.4" stroke="#2b2b2b" stroke-width="1.3"/><line x1="112.7" y1="484.4" x2="112.7" y2="489.7" stroke="#2b2b2b" stroke-width="1.3"/><text x="112.7" y="498.2" font-size="8.2" fill="#222" stroke="#222" stroke-width="0.18" font-weight="normal" font-style="normal" text-anchor="middle" >536</text><line x1="92" y1="484.4" x2="92" y2="487.4" stroke="#2b2b2b" stroke-width="1.3"/><line x1="71.4" y1="484.4" x2="71.4" y2="489.7" stroke="#2b2b2b" stroke-width="1.3"/><text x="71.4" y="498.2" font-size="8.2" fill="#222" stroke="#222" stroke-width="0.18" font-weight="normal" font-style="normal" text-anchor="middle" >538</text><line x1="50.7" y1="484.4" x2="50.7" y2="487.4" stroke="#2b2b2b" stroke-width="1.3"/><line x1="30.1" y1="484.4" x2="30.1" y2="489.7" stroke="#2b2b2b" stroke-width="1.3"/><text x="30.1" y="498.2" font-size="8.2" fill="#222" stroke="#222" stroke-width="0.18" font-weight="normal" font-style="normal" text-anchor="middle" >540</text><text x="179" y="511.2" font-size="9.6" fill="#222" stroke="#222" stroke-width="0.18" font-weight="normal" font-style="normal" text-anchor="middle" >Binding energy (eV)</text><text x="22" y="374.2" font-size="10" fill="#222" text-anchor="middle" transform="rotate(-90 22 374.2)">Intensity</text><path d="M118 324.6 L118.6 324.6 L119.2 324.5 L119.8 324.5 L120.4 324.5 L121 324.4 L121.6 324.4 L122.2 324.3 L122.8 324.3 L123.4 324.2 L124 324.1 L124.6 324.1 L125.2 324 L125.8 323.9 L126.4 323.8 L127 323.7 L127.6 323.6 L128.2 323.5 L128.8 323.4 L129.4 323.2 L130 323.1 L130.6 322.9 L131.2 322.8 L131.8 322.6 L132.4 322.4 L133 322.2 L133.6 322 L134.2 321.7 L134.8 321.5 L135.4 321.2 L136 320.9 L136.6 320.6 L137.2 320.3 L137.8 319.9 L138.4 319.5 L139 319.2 L139.6 318.8 L140.2 318.3 L140.8 317.9 L141.4 317.4 L142 316.9 L142.6 316.4 L143.2 315.9 L143.8 315.3 L144.4 314.7 L145 314.1 L145.6 313.5 L146.2 312.8 L146.8 312.2 L147.4 311.5 L148 310.8 L148.6 310 L149.2 309.3 L149.8 308.5 L150.4 307.7 L151 306.9 L151.6 306.1 L152.2 305.3 L152.8 304.5 L153.4 303.6 L154 302.8 L154.6 302 L155.2 301.1 L155.8 300.3 L156.4 299.4 L157 298.6 L157.6 297.7 L158.2 296.9 L158.8 296.1 L159.4 295.3 L160 294.5 L160.6 293.7 L161.2 293 L161.8 292.2 L162.4 291.5 L163 290.9 L163.6 290.2 L164.2 289.6 L164.8 289 L165.4 288.5 L166 288 L166.6 287.6 L167.2 287.1 L167.8 286.8 L168.4 286.4 L169 286.2 L169.6 285.9 L170.2 285.8 L170.8 285.6 L171.4 285.5 L172 285.5 L172.6 285.5 L173.2 285.6 L173.8 285.7 L174.4 285.9 L175 286.1 L175.6 286.3 L176.2 286.7 L176.8 287 L177.4 287.4 L178 287.9 L178.6 288.3 L179.2 288.9 L179.8 289.4 L180.4 290 L181 290.6 L181.6 291.3 L182.2 292 L182.8 292.7 L183.4 293.5 L184 294.2 L184.6 295 L185.2 295.8 L185.8 296.6 L186.4 297.4 L187 298.3 L187.6 299.1 L188.2 300 L188.8 300.8 L189.4 301.7 L190 302.5 L190.6 303.4 L191.2 304.2 L191.8 305 L192.4 305.9 L193 306.7 L193.6 307.5 L194.2 308.3 L194.8 309 L195.4 309.8 L196 310.5 L196.6 311.2 L197.2 311.9 L197.8 312.6 L198.4 313.3 L199 313.9 L199.6 314.5 L200.2 315.1 L200.8 315.7 L201.4 316.2 L202 316.7 L202.6 317.2 L203.2 317.7 L203.8 318.2 L204.4 318.6 L205 319 L205.6 319.4 L206.2 319.8 L206.8 320.1 L207.4 320.5 L208 320.8 L208.6 321.1 L209.2 321.4 L209.8 321.6 L210.4 321.9 L211 322.1 L211.6 322.3 L212.2 322.5 L212.8 322.7 L213.4 322.9 L214 323 L214.6 323.2 L215.2 323.3 L215.8 323.5 L216.4 323.6 L217 323.7 L217.6 323.8 L218.2 323.9 L218.8 324 L219.4 324.1 L220 324.1 L220.6 324.2 L221.2 324.3 L221.8 324.3 L222.4 324.4 L223 324.4 L223.6 324.4" fill="none" stroke="#3a6cf2" stroke-width="1.45" stroke-linejoin="round" stroke-linecap="round" /><path d="M118 324.8 L118.6 324.8 L119.2 324.8 L119.8 324.8 L120.4 324.8 L121 324.8 L121.6 324.8 L122.2 324.8 L122.8 324.8 L123.4 324.8 L124 324.8 L124.6 324.8 L125.2 324.8 L125.8 324.8 L126.4 324.8 L127 324.8 L127.6 324.8 L128.2 324.8 L128.8 324.8 L129.4 324.8 L130 324.8 L130.6 324.8 L131.2 324.8 L131.8 324.8 L132.4 324.8 L133 324.8 L133.6 324.8 L134.2 324.8 L134.8 324.8 L135.4 324.8 L136 324.8 L136.6 324.8 L137.2 324.8 L137.8 324.8 L138.4 324.8 L139 324.8 L139.6 324.8 L140.2 324.8 L140.8 324.8 L141.4 324.8 L142 324.8 L142.6 324.8 L143.2 324.8 L143.8 324.8 L144.4 324.8 L145 324.8 L145.6 324.8 L146.2 324.8 L146.8 324.8 L147.4 324.8 L148 324.8 L148.6 324.8 L149.2 324.8 L149.8 324.8 L150.4 324.8 L151 324.8 L151.6 324.8 L152.2 324.8 L152.8 324.7 L153.4 324.7 L154 324.7 L154.6 324.7 L155.2 324.7 L155.8 324.6 L156.4 324.6 L157 324.6 L157.6 324.5 L158.2 324.5 L158.8 324.4 L159.4 324.3 L160 324.3 L160.6 324.2 L161.2 324.1 L161.8 323.9 L162.4 323.8 L163 323.7 L163.6 323.5 L164.2 323.3 L164.8 323.1 L165.4 322.8 L166 322.5 L166.6 322.2 L167.2 321.9 L167.8 321.5 L168.4 321.2 L169 320.7 L169.6 320.2 L170.2 319.7 L170.8 319.2 L171.4 318.6 L172 318 L172.6 317.4 L173.2 316.7 L173.8 316 L174.4 315.2 L175 314.4 L175.6 313.6 L176.2 312.8 L176.8 311.9 L177.4 311.1 L178 310.2 L178.6 309.4 L179.2 308.5 L179.8 307.7 L180.4 306.8 L181 306 L181.6 305.2 L182.2 304.5 L182.8 303.8 L183.4 303.1 L184 302.5 L184.6 302 L185.2 301.5 L185.8 301.1 L186.4 300.8 L187 300.6 L187.6 300.4 L188.2 300.3 L188.8 300.3 L189.4 300.4 L190 300.6 L190.6 300.8 L191.2 301.1 L191.8 301.5 L192.4 302 L193 302.5 L193.6 303.1 L194.2 303.8 L194.8 304.5 L195.4 305.2 L196 306 L196.6 306.8 L197.2 307.7 L197.8 308.5 L198.4 309.4 L199 310.2 L199.6 311.1 L200.2 311.9 L200.8 312.8 L201.4 313.6 L202 314.4 L202.6 315.2 L203.2 316 L203.8 316.7 L204.4 317.4 L205 318 L205.6 318.6 L206.2 319.2 L206.8 319.7 L207.4 320.2 L208 320.7 L208.6 321.2 L209.2 321.5 L209.8 321.9 L210.4 322.2 L211 322.5 L211.6 322.8 L212.2 323.1 L212.8 323.3 L213.4 323.5 L214 323.7 L214.6 323.8 L215.2 323.9 L215.8 324.1 L216.4 324.2 L217 324.3 L217.6 324.3 L218.2 324.4 L218.8 324.5 L219.4 324.5 L220 324.6 L220.6 324.6 L221.2 324.6 L221.8 324.7 L222.4 324.7 L223 324.7 L223.6 324.7" fill="none" stroke="#3a6cf2" stroke-width="1.45" stroke-linejoin="round" stroke-linecap="round" /><line x1="118" y1="325.7" x2="224.5" y2="325.7" stroke="#f07070" stroke-width="1.2"/><path d="M100 324.9 L100.5 324.9 L101 324.9 L101.5 324.8 L102 324.8 L102.5 324.8 L103 324.8 L103.5 324.8 L104 324.7 L104.5 324.7 L105 324.7 L105.5 324.7 L106 324.6 L106.5 324.6 L107 324.6 L107.5 324.6 L108 324.5 L108.5 324.5 L109 324.5 L109.5 324.4 L110 324.4 L110.5 324.4 L111 324.3 L111.5 324.3 L112 324.2 L112.5 324.2 L113 324.1 L113.5 324.1 L114 324 L114.5 323.9 L115 323.9 L115.5 323.8 L116 323.8 L116.5 323.7 L117 323.6 L117.5 323.6 L118 323.5 L118.5 323.4 L119 323.4 L119.5 323.3 L120 323.2 L120.5 323.2 L121 323.1 L121.5 323 L122 323 L122.5 322.9 L123 322.8 L123.5 322.7 L124 322.6 L124.5 322.5 L125 322.4 L125.5 322.3 L126 322.2 L126.5 322 L127 321.9 L127.5 321.7 L128 321.5 L128.5 321.4 L129 321.2 L129.5 321 L130 320.7 L130.5 320.5 L131 320.3 L131.5 320 L132 319.8 L132.5 319.5 L133 319.2 L133.5 318.9 L134 318.6 L134.5 318.2 L135 317.9 L135.5 317.5 L136 317.1 L136.5 316.7 L137 316.3 L137.5 315.9 L138 315.4 L138.5 315 L139 314.5 L139.5 314.1 L140 313.6 L140.5 313.1 L141 312.6 L141.5 312 L142 311.5 L142.5 311 L143 310.4 L143.5 309.8 L144 309.2 L144.5 308.6 L145 308 L145.5 307.3 L146 306.7 L146.5 306 L147 305.4 L147.5 304.7 L148 304.1 L148.5 303.4 L149 302.8 L149.5 302.2 L150 301.6 L150.5 301 L151 300.4 L151.5 299.8 L152 299.2 L152.5 298.5 L153 297.8 L153.5 297.1 L154 296.4 L154.5 295.6 L155 294.8 L155.5 294 L156 293.1 L156.5 292.3 L157 291.4 L157.5 290.6 L158 289.8 L158.5 289 L159 288.3 L159.5 287.6 L160 286.9 L160.5 286.2 L161 285.6 L161.5 285 L162 284.4 L162.5 283.8 L163 283.2 L163.5 282.6 L164 282 L164.5 281.4 L165 280.9 L165.5 280.3 L166 279.7 L166.5 279.2 L167 278.6 L167.5 278.1 L168 277.5 L168.5 277 L169 276.4 L169.5 275.9 L170 275.4 L170.5 274.8 L171 274.3 L171.5 273.7 L172 273.2 L172.5 272.6 L173 272.1 L173.5 271.7 L174 271.2 L174.5 270.8 L175 270.5 L175.5 270.2 L176 269.9 L176.5 269.7 L177 269.5 L177.5 269.4 L178 269.3 L178.5 269.3 L179 269.3 L179.5 269.3 L180 269.4 L180.5 269.5 L181 269.6 L181.5 269.8 L182 270 L182.5 270.2 L183 270.4 L183.5 270.7 L184 271 L184.5 271.4 L185 271.8 L185.5 272.3 L186 272.9 L186.5 273.6 L187 274.3 L187.5 275 L188 275.8 L188.5 276.5 L189 277.3 L189.5 278 L190 278.8 L190.5 279.7 L191 280.5 L191.5 281.4 L192 282.3 L192.5 283.2 L193 284.1 L193.5 285.1 L194 286.1 L194.5 287.2 L195 288.2 L195.5 289.3 L196 290.3 L196.5 291.3 L197 292.3 L197.5 293.3 L198 294.3 L198.5 295.3 L199 296.2 L199.5 297.2 L200 298.2 L200.5 299.2 L201 300.2 L201.5 301.2 L202 302.2 L202.5 303.2 L203 304.2 L203.5 305.2 L204 306.2 L204.5 307.2 L205 308.2 L205.5 309.1 L206 310.1 L206.5 311.1 L207 312 L207.5 312.9 L208 313.7 L208.5 314.5 L209 315.3 L209.5 316.1 L210 316.8 L210.5 317.5 L211 318.1 L211.5 318.7 L212 319.2 L212.5 319.7 L213 320.1 L213.5 320.5 L214 320.9 L214.5 321.3 L215 321.6 L215.5 321.9 L216 322.1 L216.5 322.4 L217 322.6 L217.5 322.8 L218 322.9 L218.5 323.1 L219 323.2 L219.5 323.3 L220 323.4 L220.5 323.5 L221 323.6 L221.5 323.6 L222 323.7 L222.5 323.8 L223 323.8 L223.5 323.9 L224 323.9 L224.5 324 L225 324 L225.5 324.1 L226 324.2 L226.5 324.2 L227 324.3 L227.5 324.3 L228 324.4 L228.5 324.4 L229 324.4 L229.5 324.5 L230 324.5 L230.5 324.6 L231 324.6 L231.5 324.6 L232 324.6 L232.5 324.7 L233 324.7 L233.5 324.7 L234 324.8 L234.5 324.8 L235 324.8 L235.5 324.8 L236 324.8 L236.5 324.9 L237 324.9 L237.5 324.9 L238 324.9 L238.5 324.9 L239 324.9 L239.5 325 L240 325 L240.5 325 L241 325 L241.5 325 L242 325 L242.5 325 L243 325.1 L243.5 325.1 L244 325.1 L244.5 325.1 L245 325.1 L245.5 325.1 L246 325.1 L246.5 325.1 L247 325.1 L247.5 325.2 L248 325.2 L248.5 325.2 L249 325.2" fill="none" stroke="#e04c58" stroke-width="1.15" stroke-linejoin="round" stroke-linecap="round" /><path d="M30.0 325.3h.3M31.3 325.5h.3M32.6 325.1h.3M33.9 325.3h.3M35.2 325.1h.3M36.5 326.1h.3M37.8 325.8h.3M39.1 325.0h.3M40.4 326.1h.3M41.7 325.0h.3M43.0 325.4h.3M44.3 326.1h.3M45.6 325.9h.3M46.9 325.8h.3M48.2 325.4h.3M49.5 325.1h.3M50.8 325.7h.3M52.1 325.0h.3M53.4 325.1h.3M54.7 325.4h.3M56.0 324.9h.3M57.3 325.4h.3M58.6 325.8h.3M59.9 325.7h.3M61.2 325.5h.3M62.5 325.7h.3M63.8 325.5h.3M65.1 325.1h.3M66.4 325.6h.3M67.7 325.4h.3M69.0 325.8h.3M70.3 326.0h.3M71.6 325.4h.3M72.9 325.6h.3M74.2 325.8h.3M75.5 325.4h.3M76.8 325.2h.3M78.1 325.8h.3M79.4 326.0h.3M80.7 325.8h.3M82.0 325.7h.3M83.3 325.9h.3M84.6 325.7h.3M85.9 325.7h.3M87.2 325.4h.3M88.5 325.3h.3M89.8 325.7h.3M91.1 325.0h.3M92.4 325.4h.3M93.7 325.8h.3M95.0 325.8h.3M96.3 325.7h.3M97.6 325.1h.3M98.9 325.0h.3M100.2 324.8h.3M101.5 325.0h.3M102.8 324.7h.3M104.1 324.9h.3M105.4 325.2h.3M106.7 324.2h.3M108.0 324.7h.3M109.3 324.8h.3M110.6 324.2h.3M111.9 324.2h.3M113.2 324.7h.3M114.5 323.4h.3M115.8 323.8h.3M117.1 323.2h.3M118.4 323.8h.3M119.7 323.8h.3M121.0 323.1h.3M122.3 322.4h.3M123.6 322.8h.3M124.9 322.5h.3M126.2 322.4h.3M127.5 321.7h.3M128.8 321.4h.3M130.1 321.1h.3M131.4 320.1h.3M132.7 319.3h.3M134.0 319.1h.3M135.3 317.3h.3M136.6 316.8h.3M137.9 315.4h.3M139.2 314.7h.3M140.5 312.6h.3M141.8 312.3h.3M143.1 310.1h.3M144.4 308.2h.3M145.7 306.8h.3M147.0 305.3h.3M148.3 303.1h.3M149.6 302.0h.3M150.9 300.4h.3M152.2 299.1h.3M153.5 297.0h.3M154.8 294.9h.3M156.1 292.6h.3M157.4 291.0h.3M158.7 289.2h.3M160.0 286.9h.3M161.3 284.9h.3M162.6 284.0h.3M163.9 282.0h.3M165.2 280.3h.3M166.5 278.7h.3M167.8 278.1h.3M169.1 276.7h.3M170.4 275.1h.3M171.7 273.5h.3M173.0 272.2h.3M174.3 270.6h.3M175.6 270.7h.3M176.9 269.4h.3M178.2 269.5h.3M179.5 269.7h.3M180.8 269.9h.3M182.1 270.0h.3M183.4 270.4h.3M184.7 271.6h.3M186.0 272.5h.3M187.3 275.1h.3M188.6 276.5h.3M189.9 279.1h.3M191.2 280.6h.3M192.5 283.1h.3M193.8 285.4h.3M195.1 288.3h.3M196.4 290.7h.3M197.7 293.1h.3M199.0 296.5h.3M200.3 298.5h.3M201.6 301.1h.3M202.9 303.8h.3M204.2 306.6h.3M205.5 309.0h.3M206.8 311.8h.3M208.1 314.1h.3M209.4 315.7h.3M210.7 318.3h.3M212.0 319.6h.3M213.3 319.8h.3M214.6 321.7h.3M215.9 322.6h.3M217.2 323.0h.3M218.5 322.6h.3M219.8 323.8h.3M221.1 323.7h.3M222.4 323.2h.3M223.7 323.3h.3M225.0 324.6h.3M226.3 324.4h.3M227.6 324.0h.3M228.9 324.0h.3M230.2 324.1h.3M231.5 324.3h.3M232.8 325.0h.3M234.1 324.6h.3M235.4 324.4h.3M236.7 325.4h.3M238.0 325.3h.3M239.3 324.6h.3M240.6 325.5h.3M241.9 325.2h.3M243.2 325.4h.3M244.5 325.3h.3M245.8 325.6h.3M247.1 325.5h.3M248.4 325.6h.3M249.7 324.9h.3M251.0 325.6h.3M252.3 325.5h.3M253.6 325.8h.3M254.9 325.4h.3M256.2 326.0h.3M257.5 325.6h.3M258.8 325.2h.3M260.1 325.2h.3M261.4 325.1h.3M262.7 325.5h.3M264.0 325.0h.3M265.3 325.5h.3M266.6 325.1h.3M267.9 325.5h.3M269.2 325.5h.3M270.5 325.5h.3M271.8 325.9h.3M273.1 324.9h.3M274.4 325.9h.3M275.7 325.5h.3M277.0 325.6h.3M278.3 325.7h.3M279.6 325.9h.3M280.9 325.3h.3M282.2 325.4h.3M283.5 326.1h.3M284.8 325.0h.3M286.1 325.7h.3M287.4 325.7h.3M288.7 324.9h.3M290.0 325.6h.3M291.3 325.7h.3M292.6 326.0h.3M293.9 325.3h.3M295.2 326.1h.3M296.5 325.5h.3M297.8 325.5h.3M299.1 326.0h.3M300.4 324.9h.3M301.7 325.8h.3M303.0 325.7h.3M304.3 325.3h.3M305.6 325.9h.3M306.9 325.3h.3M308.2 325.5h.3M309.5 325.5h.3M310.8 325.8h.3M312.1 325.2h.3M313.4 325.4h.3M314.7 325.4h.3M316.0 325.6h.3M317.3 325.9h.3M318.6 325.3h.3" fill="none" stroke="#979797" stroke-width="2.35" stroke-linecap="round"/><path d="M118 400.9 L118.6 400.9 L119.2 400.8 L119.8 400.8 L120.4 400.8 L121 400.7 L121.6 400.7 L122.2 400.6 L122.8 400.6 L123.4 400.5 L124 400.4 L124.6 400.4 L125.2 400.3 L125.8 400.2 L126.4 400.1 L127 400 L127.6 399.9 L128.2 399.7 L128.8 399.6 L129.4 399.4 L130 399.3 L130.6 399.1 L131.2 398.9 L131.8 398.7 L132.4 398.5 L133 398.3 L133.6 398 L134.2 397.7 L134.8 397.4 L135.4 397.1 L136 396.8 L136.6 396.5 L137.2 396.1 L137.8 395.7 L138.4 395.3 L139 394.8 L139.6 394.4 L140.2 393.9 L140.8 393.4 L141.4 392.8 L142 392.3 L142.6 391.7 L143.2 391.1 L143.8 390.5 L144.4 389.8 L145 389.1 L145.6 388.4 L146.2 387.7 L146.8 387 L147.4 386.2 L148 385.4 L148.6 384.6 L149.2 383.8 L149.8 383 L150.4 382.1 L151 381.3 L151.6 380.4 L152.2 379.5 L152.8 378.6 L153.4 377.7 L154 376.9 L154.6 376 L155.2 375.1 L155.8 374.2 L156.4 373.3 L157 372.5 L157.6 371.7 L158.2 370.8 L158.8 370 L159.4 369.3 L160 368.5 L160.6 367.8 L161.2 367.1 L161.8 366.5 L162.4 365.9 L163 365.3 L163.6 364.7 L164.2 364.3 L164.8 363.8 L165.4 363.4 L166 363.1 L166.6 362.8 L167.2 362.5 L167.8 362.3 L168.4 362.2 L169 362.1 L169.6 362.1 L170.2 362.1 L170.8 362.2 L171.4 362.3 L172 362.5 L172.6 362.8 L173.2 363.1 L173.8 363.4 L174.4 363.8 L175 364.3 L175.6 364.7 L176.2 365.3 L176.8 365.9 L177.4 366.5 L178 367.1 L178.6 367.8 L179.2 368.5 L179.8 369.3 L180.4 370 L181 370.8 L181.6 371.7 L182.2 372.5 L182.8 373.3 L183.4 374.2 L184 375.1 L184.6 376 L185.2 376.9 L185.8 377.7 L186.4 378.6 L187 379.5 L187.6 380.4 L188.2 381.3 L188.8 382.1 L189.4 383 L190 383.8 L190.6 384.6 L191.2 385.4 L191.8 386.2 L192.4 387 L193 387.7 L193.6 388.4 L194.2 389.1 L194.8 389.8 L195.4 390.5 L196 391.1 L196.6 391.7 L197.2 392.3 L197.8 392.8 L198.4 393.4 L199 393.9 L199.6 394.4 L200.2 394.8 L200.8 395.3 L201.4 395.7 L202 396.1 L202.6 396.5 L203.2 396.8 L203.8 397.1 L204.4 397.4 L205 397.7 L205.6 398 L206.2 398.3 L206.8 398.5 L207.4 398.7 L208 398.9 L208.6 399.1 L209.2 399.3 L209.8 399.4 L210.4 399.6 L211 399.7 L211.6 399.9 L212.2 400 L212.8 400.1 L213.4 400.2 L214 400.3 L214.6 400.4 L215.2 400.4 L215.8 400.5 L216.4 400.6 L217 400.6 L217.6 400.7 L218.2 400.7 L218.8 400.8 L219.4 400.8 L220 400.8 L220.6 400.9 L221.2 400.9 L221.8 400.9 L222.4 400.9 L223 401 L223.6 401 L224.2 401 L224.8 401 L225.4 401 L226 401 L226.6 401" fill="none" stroke="#3a6cf2" stroke-width="1.45" stroke-linejoin="round" stroke-linecap="round" /><path d="M118 401.1 L118.6 401.1 L119.2 401.1 L119.8 401.1 L120.4 401.1 L121 401.1 L121.6 401.1 L122.2 401.1 L122.8 401.1 L123.4 401.1 L124 401.1 L124.6 401.1 L125.2 401.1 L125.8 401.1 L126.4 401.1 L127 401.1 L127.6 401.1 L128.2 401.1 L128.8 401.1 L129.4 401.1 L130 401.1 L130.6 401.1 L131.2 401.1 L131.8 401.1 L132.4 401.1 L133 401.1 L133.6 401.1 L134.2 401.1 L134.8 401.1 L135.4 401.1 L136 401.1 L136.6 401.1 L137.2 401.1 L137.8 401.1 L138.4 401.1 L139 401.1 L139.6 401.1 L140.2 401 L140.8 401 L141.4 401 L142 401 L142.6 401 L143.2 401 L143.8 401 L144.4 400.9 L145 400.9 L145.6 400.9 L146.2 400.9 L146.8 400.8 L147.4 400.8 L148 400.7 L148.6 400.7 L149.2 400.6 L149.8 400.5 L150.4 400.5 L151 400.4 L151.6 400.3 L152.2 400.1 L152.8 400 L153.4 399.9 L154 399.7 L154.6 399.5 L155.2 399.4 L155.8 399.1 L156.4 398.9 L157 398.6 L157.6 398.4 L158.2 398 L158.8 397.7 L159.4 397.3 L160 396.9 L160.6 396.5 L161.2 396 L161.8 395.5 L162.4 395 L163 394.4 L163.6 393.8 L164.2 393.1 L164.8 392.4 L165.4 391.6 L166 390.8 L166.6 390 L167.2 389.1 L167.8 388.2 L168.4 387.2 L169 386.2 L169.6 385.1 L170.2 384 L170.8 382.8 L171.4 381.7 L172 380.4 L172.6 379.2 L173.2 377.9 L173.8 376.6 L174.4 375.3 L175 373.9 L175.6 372.6 L176.2 371.2 L176.8 369.9 L177.4 368.5 L178 367.2 L178.6 365.9 L179.2 364.6 L179.8 363.3 L180.4 362.1 L181 360.9 L181.6 359.7 L182.2 358.6 L182.8 357.6 L183.4 356.6 L184 355.7 L184.6 354.9 L185.2 354.1 L185.8 353.5 L186.4 352.9 L187 352.4 L187.6 352.1 L188.2 351.8 L188.8 351.6 L189.4 351.5 L190 351.5 L190.6 351.6 L191.2 351.9 L191.8 352.2 L192.4 352.6 L193 353.1 L193.6 353.7 L194.2 354.4 L194.8 355.1 L195.4 356 L196 356.9 L196.6 357.9 L197.2 359 L197.8 360.1 L198.4 361.3 L199 362.5 L199.6 363.7 L200.2 365 L200.8 366.3 L201.4 367.6 L202 369 L202.6 370.3 L203.2 371.7 L203.8 373 L204.4 374.4 L205 375.7 L205.6 377 L206.2 378.3 L206.8 379.6 L207.4 380.8 L208 382.1 L208.6 383.2 L209.2 384.4 L209.8 385.4 L210.4 386.5 L211 387.5 L211.6 388.5 L212.2 389.4 L212.8 390.3 L213.4 391.1 L214 391.9 L214.6 392.6 L215.2 393.3 L215.8 394 L216.4 394.6 L217 395.2 L217.6 395.7 L218.2 396.2 L218.8 396.6 L219.4 397.1 L220 397.5 L220.6 397.8 L221.2 398.2 L221.8 398.5 L222.4 398.7 L223 399 L223.6 399.2 L224.2 399.4 L224.8 399.6 L225.4 399.8 L226 399.9 L226.6 400.1" fill="none" stroke="#3a6cf2" stroke-width="1.45" stroke-linejoin="round" stroke-linecap="round" /><line x1="118" y1="402" x2="227.5" y2="402" stroke="#f07070" stroke-width="1.2"/><path d="M100 401.5 L100.5 401.5 L101 401.5 L101.5 401.5 L102 401.5 L102.5 401.5 L103 401.5 L103.5 401.4 L104 401.4 L104.5 401.4 L105 401.4 L105.5 401.4 L106 401.4 L106.5 401.4 L107 401.4 L107.5 401.3 L108 401.3 L108.5 401.3 L109 401.3 L109.5 401.2 L110 401.2 L110.5 401.2 L111 401.1 L111.5 401.1 L112 401 L112.5 400.9 L113 400.9 L113.5 400.8 L114 400.7 L114.5 400.6 L115 400.6 L115.5 400.5 L116 400.4 L116.5 400.3 L117 400.2 L117.5 400.1 L118 400 L118.5 399.9 L119 399.9 L119.5 399.8 L120 399.7 L120.5 399.6 L121 399.6 L121.5 399.5 L122 399.4 L122.5 399.3 L123 399.2 L123.5 399.1 L124 399 L124.5 398.9 L125 398.8 L125.5 398.6 L126 398.5 L126.5 398.3 L127 398.2 L127.5 398 L128 397.8 L128.5 397.6 L129 397.4 L129.5 397.2 L130 397 L130.5 396.8 L131 396.6 L131.5 396.4 L132 396.1 L132.5 395.9 L133 395.6 L133.5 395.3 L134 395 L134.5 394.7 L135 394.4 L135.5 394 L136 393.6 L136.5 393.2 L137 392.8 L137.5 392.4 L138 391.9 L138.5 391.5 L139 391 L139.5 390.5 L140 390 L140.5 389.4 L141 388.9 L141.5 388.4 L142 387.8 L142.5 387.3 L143 386.7 L143.5 386.1 L144 385.5 L144.5 384.9 L145 384.3 L145.5 383.6 L146 383 L146.5 382.3 L147 381.6 L147.5 380.9 L148 380.2 L148.5 379.4 L149 378.6 L149.5 377.8 L150 376.9 L150.5 376 L151 375.1 L151.5 374.2 L152 373.3 L152.5 372.4 L153 371.6 L153.5 370.8 L154 370 L154.5 369.2 L155 368.3 L155.5 367.5 L156 366.7 L156.5 365.8 L157 364.9 L157.5 364 L158 363.1 L158.5 362.1 L159 361 L159.5 360 L160 358.9 L160.5 357.9 L161 356.9 L161.5 355.9 L162 355 L162.5 354.2 L163 353.5 L163.5 352.8 L164 352.1 L164.5 351.5 L165 350.9 L165.5 350.3 L166 349.6 L166.5 349 L167 348.2 L167.5 347.5 L168 346.7 L168.5 345.9 L169 345 L169.5 344.2 L170 343.3 L170.5 342.5 L171 341.6 L171.5 340.8 L172 340 L172.5 339.2 L173 338.4 L173.5 337.6 L174 336.8 L174.5 336 L175 335.2 L175.5 334.5 L176 333.7 L176.5 333.1 L177 332.5 L177.5 331.9 L178 331.4 L178.5 330.9 L179 330.5 L179.5 330.1 L180 329.7 L180.5 329.3 L181 329 L181.5 328.7 L182 328.4 L182.5 328.2 L183 328 L183.5 327.9 L184 327.9 L184.5 328 L185 328.2 L185.5 328.3 L186 328.5 L186.5 328.7 L187 328.9 L187.5 329.2 L188 329.5 L188.5 329.9 L189 330.3 L189.5 330.9 L190 331.5 L190.5 332.3 L191 333.1 L191.5 334 L192 334.9 L192.5 335.9 L193 336.9 L193.5 337.9 L194 339 L194.5 340 L195 341.1 L195.5 342.2 L196 343.3 L196.5 344.5 L197 345.7 L197.5 347 L198 348.3 L198.5 349.5 L199 350.8 L199.5 352.2 L200 353.6 L200.5 355 L201 356.4 L201.5 357.8 L202 359.2 L202.5 360.6 L203 362.1 L203.5 363.5 L204 365 L204.5 366.4 L205 367.9 L205.5 369.3 L206 370.7 L206.5 372.1 L207 373.4 L207.5 374.7 L208 376 L208.5 377.2 L209 378.4 L209.5 379.6 L210 380.7 L210.5 381.8 L211 382.8 L211.5 383.8 L212 384.8 L212.5 385.7 L213 386.6 L213.5 387.4 L214 388.2 L214.5 389 L215 389.7 L215.5 390.4 L216 391 L216.5 391.5 L217 392.1 L217.5 392.6 L218 393.1 L218.5 393.6 L219 394 L219.5 394.4 L220 394.8 L220.5 395.2 L221 395.5 L221.5 395.9 L222 396.2 L222.5 396.5 L223 396.7 L223.5 397 L224 397.2 L224.5 397.4 L225 397.6 L225.5 397.8 L226 397.9 L226.5 398.1 L227 398.2 L227.5 398.4 L228 398.5 L228.5 398.6 L229 398.8 L229.5 398.9 L230 399 L230.5 399.1 L231 399.2 L231.5 399.4 L232 399.5 L232.5 399.6 L233 399.6 L233.5 399.7 L234 399.8 L234.5 399.9 L235 400 L235.5 400.1 L236 400.1 L236.5 400.2 L237 400.3 L237.5 400.3 L238 400.4 L238.5 400.5 L239 400.5 L239.5 400.6 L240 400.7 L240.5 400.7 L241 400.8 L241.5 400.9 L242 400.9 L242.5 401 L243 401 L243.5 401.1 L244 401.1 L244.5 401.2 L245 401.2 L245.5 401.3 L246 401.3 L246.5 401.4 L247 401.4 L247.5 401.5 L248 401.5 L248.5 401.6 L249 401.6 L249.5 401.7 L250 401.7" fill="none" stroke="#e04c58" stroke-width="1.15" stroke-linejoin="round" stroke-linecap="round" /><path d="M30.0 402.0h.3M31.3 401.5h.3M32.6 401.6h.3M33.9 401.3h.3M35.2 401.6h.3M36.5 402.2h.3M37.8 401.8h.3M39.1 402.0h.3M40.4 401.4h.3M41.7 401.4h.3M43.0 401.4h.3M44.3 401.7h.3M45.6 401.8h.3M46.9 401.9h.3M48.2 401.0h.3M49.5 401.9h.3M50.8 402.1h.3M52.1 401.7h.3M53.4 401.1h.3M54.7 401.4h.3M56.0 401.0h.3M57.3 401.2h.3M58.6 402.1h.3M59.9 401.7h.3M61.2 401.8h.3M62.5 401.9h.3M63.8 402.1h.3M65.1 401.7h.3M66.4 401.7h.3M67.7 401.8h.3M69.0 401.8h.3M70.3 401.7h.3M71.6 401.8h.3M72.9 401.3h.3M74.2 401.8h.3M75.5 401.5h.3M76.8 401.9h.3M78.1 401.1h.3M79.4 401.2h.3M80.7 401.0h.3M82.0 401.9h.3M83.3 402.1h.3M84.6 401.8h.3M85.9 401.4h.3M87.2 402.0h.3M88.5 401.9h.3M89.8 401.7h.3M91.1 401.3h.3M92.4 401.4h.3M93.7 401.5h.3M95.0 401.4h.3M96.3 401.5h.3M97.6 401.8h.3M98.9 402.1h.3M100.2 401.0h.3M101.5 401.6h.3M102.8 400.9h.3M104.1 401.0h.3M105.4 401.8h.3M106.7 401.5h.3M108.0 401.8h.3M109.3 401.2h.3M110.6 400.6h.3M111.9 400.9h.3M113.2 400.9h.3M114.5 401.2h.3M115.8 401.0h.3M117.1 400.2h.3M118.4 399.9h.3M119.7 399.3h.3M121.0 399.7h.3M122.3 399.0h.3M123.6 398.7h.3M124.9 398.2h.3M126.2 397.8h.3M127.5 398.2h.3M128.8 397.1h.3M130.1 397.5h.3M131.4 395.9h.3M132.7 396.2h.3M134.0 394.6h.3M135.3 393.6h.3M136.6 393.4h.3M137.9 391.7h.3M139.2 391.1h.3M140.5 389.1h.3M141.8 387.5h.3M143.1 386.9h.3M144.4 385.3h.3M145.7 383.8h.3M147.0 381.9h.3M148.3 379.3h.3M149.6 377.8h.3M150.9 375.5h.3M152.2 372.9h.3M153.5 371.3h.3M154.8 368.4h.3M156.1 367.1h.3M157.4 364.5h.3M158.7 361.1h.3M160.0 358.3h.3M161.3 356.5h.3M162.6 354.4h.3M163.9 351.7h.3M165.2 350.4h.3M166.5 349.2h.3M167.8 346.6h.3M169.1 345.3h.3M170.4 342.6h.3M171.7 340.0h.3M173.0 338.2h.3M174.3 336.4h.3M175.6 334.2h.3M176.9 332.8h.3M178.2 330.8h.3M179.5 330.4h.3M180.8 328.9h.3M182.1 328.5h.3M183.4 328.1h.3M184.7 328.0h.3M186.0 328.4h.3M187.3 329.4h.3M188.6 330.5h.3M189.9 331.7h.3M191.2 333.5h.3M192.5 335.6h.3M193.8 338.0h.3M195.1 341.9h.3M196.4 344.5h.3M197.7 347.9h.3M199.0 350.6h.3M200.3 354.5h.3M201.6 358.7h.3M202.9 362.2h.3M204.2 365.7h.3M205.5 369.1h.3M206.8 372.8h.3M208.1 376.7h.3M209.4 379.2h.3M210.7 382.4h.3M212.0 384.9h.3M213.3 387.6h.3M214.6 389.5h.3M215.9 390.6h.3M217.2 391.7h.3M218.5 393.3h.3M219.8 394.6h.3M221.1 395.7h.3M222.4 396.8h.3M223.7 397.5h.3M225.0 397.0h.3M226.3 398.4h.3M227.6 398.8h.3M228.9 399.2h.3M230.2 399.1h.3M231.5 399.1h.3M232.8 400.0h.3M234.1 400.2h.3M235.4 400.3h.3M236.7 400.7h.3M238.0 400.2h.3M239.3 400.1h.3M240.6 400.8h.3M241.9 401.3h.3M243.2 400.7h.3M244.5 401.5h.3M245.8 401.8h.3M247.1 401.1h.3M248.4 401.7h.3M249.7 401.9h.3M251.0 401.7h.3M252.3 401.5h.3M253.6 401.6h.3M254.9 402.2h.3M256.2 402.2h.3M257.5 401.9h.3M258.8 401.4h.3M260.1 402.3h.3M261.4 402.2h.3M262.7 401.6h.3M264.0 402.0h.3M265.3 402.4h.3M266.6 402.4h.3M267.9 401.9h.3M269.2 401.9h.3M270.5 402.0h.3M271.8 401.5h.3M273.1 401.5h.3M274.4 401.5h.3M275.7 402.1h.3M277.0 401.7h.3M278.3 402.0h.3M279.6 401.8h.3M280.9 401.9h.3M282.2 401.5h.3M283.5 401.4h.3M284.8 402.5h.3M286.1 401.7h.3M287.4 401.4h.3M288.7 402.1h.3M290.0 402.2h.3M291.3 401.5h.3M292.6 402.0h.3M293.9 401.7h.3M295.2 401.9h.3M296.5 401.3h.3M297.8 401.3h.3M299.1 402.5h.3M300.4 402.3h.3M301.7 401.9h.3M303.0 402.0h.3M304.3 401.6h.3M305.6 402.2h.3M306.9 401.8h.3M308.2 402.4h.3M309.5 402.2h.3M310.8 402.3h.3M312.1 402.5h.3M313.4 401.6h.3M314.7 401.3h.3M316.0 401.5h.3M317.3 401.5h.3M318.6 401.4h.3" fill="none" stroke="#5f5f5f" stroke-width="2.6" stroke-linecap="round"/><path d="M118 471.5 L118.6 471.5 L119.2 471.4 L119.8 471.4 L120.4 471.3 L121 471.3 L121.6 471.2 L122.2 471.1 L122.8 471 L123.4 470.9 L124 470.8 L124.6 470.7 L125.2 470.6 L125.8 470.5 L126.4 470.3 L127 470.1 L127.6 470 L128.2 469.8 L128.8 469.6 L129.4 469.3 L130 469.1 L130.6 468.8 L131.2 468.5 L131.8 468.2 L132.4 467.8 L133 467.5 L133.6 467.1 L134.2 466.6 L134.8 466.2 L135.4 465.7 L136 465.2 L136.6 464.7 L137.2 464.1 L137.8 463.5 L138.4 462.9 L139 462.2 L139.6 461.6 L140.2 460.9 L140.8 460.1 L141.4 459.3 L142 458.5 L142.6 457.7 L143.2 456.9 L143.8 456 L144.4 455.1 L145 454.2 L145.6 453.2 L146.2 452.3 L146.8 451.3 L147.4 450.3 L148 449.4 L148.6 448.4 L149.2 447.4 L149.8 446.4 L150.4 445.5 L151 444.5 L151.6 443.6 L152.2 442.6 L152.8 441.7 L153.4 440.8 L154 440 L154.6 439.2 L155.2 438.4 L155.8 437.7 L156.4 437 L157 436.3 L157.6 435.8 L158.2 435.2 L158.8 434.8 L159.4 434.3 L160 434 L160.6 433.7 L161.2 433.5 L161.8 433.3 L162.4 433.2 L163 433.2 L163.6 433.2 L164.2 433.4 L164.8 433.5 L165.4 433.8 L166 434.1 L166.6 434.5 L167.2 434.9 L167.8 435.4 L168.4 436 L169 436.6 L169.6 437.2 L170.2 437.9 L170.8 438.7 L171.4 439.5 L172 440.3 L172.6 441.1 L173.2 442 L173.8 442.9 L174.4 443.9 L175 444.8 L175.6 445.8 L176.2 446.8 L176.8 447.7 L177.4 448.7 L178 449.7 L178.6 450.7 L179.2 451.6 L179.8 452.6 L180.4 453.5 L181 454.5 L181.6 455.4 L182.2 456.3 L182.8 457.1 L183.4 458 L184 458.8 L184.6 459.6 L185.2 460.4 L185.8 461.1 L186.4 461.8 L187 462.5 L187.6 463.1 L188.2 463.7 L188.8 464.3 L189.4 464.9 L190 465.4 L190.6 465.9 L191.2 466.4 L191.8 466.8 L192.4 467.2 L193 467.6 L193.6 467.9 L194.2 468.3 L194.8 468.6 L195.4 468.9 L196 469.2 L196.6 469.4 L197.2 469.6 L197.8 469.8 L198.4 470 L199 470.2 L199.6 470.4 L200.2 470.5 L200.8 470.6 L201.4 470.8 L202 470.9 L202.6 471 L203.2 471.1 L203.8 471.2 L204.4 471.2 L205 471.3 L205.6 471.4 L206.2 471.4 L206.8 471.5 L207.4 471.5 L208 471.5 L208.6 471.6 L209.2 471.6 L209.8 471.6 L210.4 471.6 L211 471.7 L211.6 471.7 L212.2 471.7 L212.8 471.7 L213.4 471.7 L214 471.7 L214.6 471.7 L215.2 471.8 L215.8 471.8 L216.4 471.8 L217 471.8 L217.6 471.8 L218.2 471.8 L218.8 471.8 L219.4 471.8 L220 471.8 L220.6 471.8 L221.2 471.8 L221.8 471.8 L222.4 471.8 L223 471.8 L223.6 471.8 L224.2 471.8 L224.8 471.8 L225.4 471.8 L226 471.8 L226.6 471.8 L227.2 471.8 L227.8 471.8" fill="none" stroke="#3a6cf2" stroke-width="1.45" stroke-linejoin="round" stroke-linecap="round" /><path d="M118 471.8 L118.6 471.8 L119.2 471.8 L119.8 471.8 L120.4 471.8 L121 471.8 L121.6 471.8 L122.2 471.8 L122.8 471.8 L123.4 471.8 L124 471.8 L124.6 471.8 L125.2 471.8 L125.8 471.8 L126.4 471.8 L127 471.8 L127.6 471.8 L128.2 471.8 L128.8 471.8 L129.4 471.8 L130 471.8 L130.6 471.8 L131.2 471.8 L131.8 471.8 L132.4 471.8 L133 471.8 L133.6 471.8 L134.2 471.8 L134.8 471.8 L135.4 471.8 L136 471.8 L136.6 471.8 L137.2 471.8 L137.8 471.8 L138.4 471.8 L139 471.8 L139.6 471.8 L140.2 471.8 L140.8 471.7 L141.4 471.7 L142 471.7 L142.6 471.7 L143.2 471.7 L143.8 471.7 L144.4 471.6 L145 471.6 L145.6 471.6 L146.2 471.5 L146.8 471.5 L147.4 471.5 L148 471.4 L148.6 471.3 L149.2 471.3 L149.8 471.2 L150.4 471.1 L151 471 L151.6 470.9 L152.2 470.7 L152.8 470.6 L153.4 470.4 L154 470.2 L154.6 470 L155.2 469.8 L155.8 469.5 L156.4 469.2 L157 468.9 L157.6 468.5 L158.2 468.1 L158.8 467.7 L159.4 467.3 L160 466.8 L160.6 466.2 L161.2 465.6 L161.8 465 L162.4 464.3 L163 463.6 L163.6 462.8 L164.2 461.9 L164.8 461 L165.4 460.1 L166 459.1 L166.6 458 L167.2 456.9 L167.8 455.7 L168.4 454.5 L169 453.2 L169.6 451.9 L170.2 450.5 L170.8 449.1 L171.4 447.7 L172 446.2 L172.6 444.7 L173.2 443.1 L173.8 441.6 L174.4 440 L175 438.4 L175.6 436.8 L176.2 435.3 L176.8 433.7 L177.4 432.2 L178 430.7 L178.6 429.3 L179.2 427.8 L179.8 426.5 L180.4 425.2 L181 424 L181.6 422.9 L182.2 421.8 L182.8 420.9 L183.4 420 L184 419.3 L184.6 418.6 L185.2 418.1 L185.8 417.7 L186.4 417.4 L187 417.2 L187.6 417.2 L188.2 417.3 L188.8 417.5 L189.4 417.8 L190 418.3 L190.6 418.8 L191.2 419.5 L191.8 420.3 L192.4 421.2 L193 422.2 L193.6 423.2 L194.2 424.4 L194.8 425.6 L195.4 426.9 L196 428.3 L196.6 429.7 L197.2 431.2 L197.8 432.7 L198.4 434.2 L199 435.8 L199.6 437.4 L200.2 438.9 L200.8 440.5 L201.4 442.1 L202 443.6 L202.6 445.2 L203.2 446.7 L203.8 448.2 L204.4 449.6 L205 451 L205.6 452.3 L206.2 453.6 L206.8 454.9 L207.4 456.1 L208 457.3 L208.6 458.4 L209.2 459.4 L209.8 460.4 L210.4 461.3 L211 462.2 L211.6 463 L212.2 463.8 L212.8 464.5 L213.4 465.2 L214 465.8 L214.6 466.4 L215.2 466.9 L215.8 467.4 L216.4 467.9 L217 468.3 L217.6 468.7 L218.2 469 L218.8 469.3 L219.4 469.6 L220 469.8 L220.6 470.1 L221.2 470.3 L221.8 470.5 L222.4 470.6 L223 470.8 L223.6 470.9 L224.2 471 L224.8 471.1 L225.4 471.2 L226 471.3 L226.6 471.4 L227.2 471.4 L227.8 471.5" fill="none" stroke="#3a6cf2" stroke-width="1.45" stroke-linejoin="round" stroke-linecap="round" /><line x1="118" y1="472.7" x2="228.5" y2="472.7" stroke="#f07070" stroke-width="1.2"/><path d="M100 472.2 L100.5 472.2 L101 472.1 L101.5 472.1 L102 472.1 L102.5 472.1 L103 472 L103.5 472 L104 472 L104.5 472 L105 471.9 L105.5 471.9 L106 471.9 L106.5 471.8 L107 471.8 L107.5 471.8 L108 471.7 L108.5 471.7 L109 471.7 L109.5 471.6 L110 471.6 L110.5 471.6 L111 471.5 L111.5 471.5 L112 471.4 L112.5 471.4 L113 471.4 L113.5 471.3 L114 471.3 L114.5 471.2 L115 471.2 L115.5 471.1 L116 471.1 L116.5 471 L117 470.9 L117.5 470.9 L118 470.8 L118.5 470.7 L119 470.6 L119.5 470.5 L120 470.4 L120.5 470.3 L121 470.2 L121.5 470.1 L122 470 L122.5 469.8 L123 469.7 L123.5 469.6 L124 469.4 L124.5 469.2 L125 469 L125.5 468.8 L126 468.6 L126.5 468.4 L127 468.1 L127.5 467.8 L128 467.6 L128.5 467.3 L129 467 L129.5 466.6 L130 466.3 L130.5 466 L131 465.7 L131.5 465.3 L132 465 L132.5 464.6 L133 464.3 L133.5 464 L134 463.7 L134.5 463.3 L135 463 L135.5 462.7 L136 462.4 L136.5 462.1 L137 461.8 L137.5 461.5 L138 461.1 L138.5 460.6 L139 460.2 L139.5 459.6 L140 459 L140.5 458.2 L141 457.4 L141.5 456.4 L142 455.4 L142.5 454.3 L143 453.3 L143.5 452.2 L144 451.3 L144.5 450.4 L145 449.5 L145.5 448.7 L146 447.8 L146.5 447 L147 446.2 L147.5 445.4 L148 444.6 L148.5 443.8 L149 442.9 L149.5 442.1 L150 441.3 L150.5 440.5 L151 439.8 L151.5 439 L152 438.2 L152.5 437.3 L153 436.5 L153.5 435.6 L154 434.6 L154.5 433.6 L155 432.6 L155.5 431.5 L156 430.4 L156.5 429.3 L157 428.3 L157.5 427.3 L158 426.3 L158.5 425.5 L159 424.7 L159.5 424 L160 423.4 L160.5 422.7 L161 422.1 L161.5 421.5 L162 420.9 L162.5 420.3 L163 419.7 L163.5 419.1 L164 418.4 L164.5 417.8 L165 417.2 L165.5 416.7 L166 416.1 L166.5 415.5 L167 415 L167.5 414.4 L168 413.9 L168.5 413.4 L169 412.8 L169.5 412.3 L170 411.9 L170.5 411.4 L171 410.9 L171.5 410.4 L172 410 L172.5 409.5 L173 409 L173.5 408.6 L174 408.1 L174.5 407.7 L175 407.2 L175.5 406.8 L176 406.4 L176.5 406.1 L177 405.7 L177.5 405.5 L178 405.2 L178.5 405 L179 404.9 L179.5 404.7 L180 404.6 L180.5 404.4 L181 404.3 L181.5 404.2 L182 404.1 L182.5 404.1 L183 404.1 L183.5 404.1 L184 404.2 L184.5 404.4 L185 404.6 L185.5 405 L186 405.3 L186.5 405.7 L187 406.2 L187.5 406.7 L188 407.2 L188.5 407.8 L189 408.5 L189.5 409.3 L190 410.2 L190.5 411 L191 411.9 L191.5 412.9 L192 413.8 L192.5 414.8 L193 415.8 L193.5 416.8 L194 417.9 L194.5 418.9 L195 420 L195.5 421.2 L196 422.4 L196.5 423.6 L197 424.9 L197.5 426.1 L198 427.4 L198.5 428.7 L199 430 L199.5 431.2 L200 432.5 L200.5 433.8 L201 435.1 L201.5 436.4 L202 437.7 L202.5 439 L203 440.2 L203.5 441.5 L204 442.6 L204.5 443.8 L205 444.8 L205.5 445.9 L206 446.9 L206.5 447.9 L207 448.8 L207.5 449.8 L208 450.7 L208.5 451.7 L209 452.7 L209.5 453.7 L210 454.8 L210.5 455.9 L211 457.1 L211.5 458.1 L212 459.1 L212.5 460.1 L213 460.9 L213.5 461.7 L214 462.3 L214.5 462.9 L215 463.5 L215.5 464 L216 464.5 L216.5 464.9 L217 465.3 L217.5 465.7 L218 466.1 L218.5 466.5 L219 466.8 L219.5 467.1 L220 467.4 L220.5 467.7 L221 468 L221.5 468.2 L222 468.5 L222.5 468.7 L223 468.9 L223.5 469.1 L224 469.2 L224.5 469.4 L225 469.6 L225.5 469.8 L226 469.9 L226.5 470.1 L227 470.2 L227.5 470.4 L228 470.5 L228.5 470.7 L229 470.8 L229.5 470.9 L230 471.1 L230.5 471.2 L231 471.3 L231.5 471.4 L232 471.5 L232.5 471.6 L233 471.7 L233.5 471.8 L234 471.9 L234.5 472 L235 472.1 L235.5 472.2 L236 472.3 L236.5 472.3 L237 472.4 L237.5 472.5 L238 472.5 L238.5 472.6 L239 472.7 L239.5 472.7 L240 472.8 L240.5 472.8 L241 472.8 L241.5 472.9 L242 472.9 L242.5 473 L243 473 L243.5 473.1 L244 473.1 L244.5 473.1 L245 473.2 L245.5 473.2 L246 473.2 L246.5 473.3 L247 473.3 L247.5 473.4 L248 473.4 L248.5 473.4 L249 473.5" fill="none" stroke="#e04c58" stroke-width="1.15" stroke-linejoin="round" stroke-linecap="round" /><path d="M30.0 472.7h.3M31.3 473.3h.3M32.6 473.6h.3M33.9 473.1h.3M35.2 473.7h.3M36.5 473.7h.3M37.8 472.7h.3M39.1 473.3h.3M40.4 473.1h.3M41.7 472.7h.3M43.0 473.8h.3M44.3 472.9h.3M45.6 473.3h.3M46.9 473.4h.3M48.2 473.7h.3M49.5 473.4h.3M50.8 473.1h.3M52.1 473.1h.3M53.4 472.8h.3M54.7 473.8h.3M56.0 473.8h.3M57.3 472.9h.3M58.6 472.6h.3M59.9 472.9h.3M61.2 473.0h.3M62.5 473.7h.3M63.8 473.7h.3M65.1 473.6h.3M66.4 472.7h.3M67.7 473.5h.3M69.0 473.5h.3M70.3 473.4h.3M71.6 473.8h.3M72.9 472.7h.3M74.2 472.8h.3M75.5 473.5h.3M76.8 473.7h.3M78.1 473.4h.3M79.4 473.0h.3M80.7 473.3h.3M82.0 473.5h.3M83.3 472.7h.3M84.6 473.0h.3M85.9 472.9h.3M87.2 472.7h.3M88.5 473.2h.3M89.8 472.8h.3M91.1 472.9h.3M92.4 472.8h.3M93.7 473.4h.3M95.0 472.6h.3M96.3 473.5h.3M97.6 472.6h.3M98.9 472.0h.3M100.2 472.7h.3M101.5 471.8h.3M102.8 472.6h.3M104.1 472.4h.3M105.4 472.4h.3M106.7 471.4h.3M108.0 471.7h.3M109.3 471.2h.3M110.6 472.1h.3M111.9 471.9h.3M113.2 471.5h.3M114.5 471.2h.3M115.8 470.9h.3M117.1 471.3h.3M118.4 470.7h.3M119.7 470.6h.3M121.0 469.8h.3M122.3 469.6h.3M123.6 469.0h.3M124.9 469.3h.3M126.2 468.6h.3M127.5 467.4h.3M128.8 467.5h.3M130.1 466.0h.3M131.4 465.3h.3M132.7 464.1h.3M134.0 463.4h.3M135.3 463.3h.3M136.6 461.9h.3M137.9 460.8h.3M139.2 459.9h.3M140.5 458.0h.3M141.8 456.3h.3M143.1 452.6h.3M144.4 451.1h.3M145.7 447.8h.3M147.0 446.7h.3M148.3 444.3h.3M149.6 441.6h.3M150.9 439.9h.3M152.2 437.6h.3M153.5 435.3h.3M154.8 432.6h.3M156.1 430.0h.3M157.4 428.0h.3M158.7 425.8h.3M160.0 423.9h.3M161.3 421.2h.3M162.6 419.9h.3M163.9 419.0h.3M165.2 416.5h.3M166.5 415.8h.3M167.8 413.8h.3M169.1 413.3h.3M170.4 410.9h.3M171.7 410.6h.3M173.0 408.9h.3M174.3 407.4h.3M175.6 406.1h.3M176.9 406.2h.3M178.2 405.2h.3M179.5 404.3h.3M180.8 404.3h.3M182.1 404.6h.3M183.4 403.7h.3M184.7 404.6h.3M186.0 404.9h.3M187.3 406.1h.3M188.6 408.3h.3M189.9 410.2h.3M191.2 412.0h.3M192.5 414.3h.3M193.8 416.9h.3M195.1 420.4h.3M196.4 423.3h.3M197.7 426.4h.3M199.0 429.6h.3M200.3 433.4h.3M201.6 436.9h.3M202.9 440.4h.3M204.2 443.2h.3M205.5 445.5h.3M206.8 447.9h.3M208.1 451.2h.3M209.4 453.4h.3M210.7 456.7h.3M212.0 458.6h.3M213.3 461.7h.3M214.6 462.8h.3M215.9 464.8h.3M217.2 465.9h.3M218.5 466.5h.3M219.8 466.7h.3M221.1 468.5h.3M222.4 468.6h.3M223.7 469.6h.3M225.0 469.3h.3M226.3 469.6h.3M227.6 470.8h.3M228.9 470.6h.3M230.2 470.7h.3M231.5 471.3h.3M232.8 471.8h.3M234.1 471.4h.3M235.4 472.2h.3M236.7 472.3h.3M238.0 472.6h.3M239.3 472.2h.3M240.6 473.1h.3M241.9 473.3h.3M243.2 473.5h.3M244.5 472.9h.3M245.8 473.5h.3M247.1 473.2h.3M248.4 473.7h.3M249.7 473.0h.3M251.0 474.2h.3M252.3 474.4h.3M253.6 473.9h.3M254.9 473.9h.3M256.2 473.9h.3M257.5 473.9h.3M258.8 473.3h.3M260.1 474.5h.3M261.4 473.6h.3M262.7 473.5h.3M264.0 473.4h.3M265.3 473.6h.3M266.6 474.3h.3M267.9 473.3h.3M269.2 473.4h.3M270.5 474.1h.3M271.8 473.5h.3M273.1 473.3h.3M274.4 474.0h.3M275.7 474.0h.3M277.0 473.9h.3M278.3 474.1h.3M279.6 473.4h.3M280.9 474.3h.3M282.2 474.2h.3M283.5 473.4h.3M284.8 473.4h.3M286.1 473.9h.3M287.4 473.9h.3M288.7 473.6h.3M290.0 473.4h.3M291.3 473.8h.3M292.6 473.5h.3M293.9 474.0h.3M295.2 474.3h.3M296.5 473.5h.3M297.8 474.0h.3M299.1 474.2h.3M300.4 473.5h.3M301.7 474.3h.3M303.0 474.4h.3M304.3 473.8h.3M305.6 473.8h.3M306.9 474.3h.3M308.2 473.9h.3M309.5 473.8h.3M310.8 474.4h.3M312.1 474.2h.3M313.4 473.7h.3M314.7 473.6h.3M316.0 473.7h.3M317.3 473.8h.3M318.6 474.5h.3" fill="none" stroke="#111" stroke-width="2.6" stroke-linecap="round"/><text x="31.7" y="322.2" font-size="11" fill="#a6a6a6" stroke="#a6a6a6" stroke-width="0.18" font-weight="bold" font-style="italic" text-anchor="start" >SG3/CBD/GO</text><text x="30.5" y="396.9" font-size="11" fill="#6e6e6e" stroke="#6e6e6e" stroke-width="0.18" font-weight="bold" font-style="italic" text-anchor="start" >SG3/GO</text><text x="30.3" y="469.5" font-size="11" fill="#111" stroke="#111" stroke-width="0.18" font-weight="bold" font-style="italic" text-anchor="start" >SG3</text><rect x="115.4" y="265.2" width="36.5" height="28.3" fill="#fff" stroke="#5a78b0" stroke-width="0.8"/><text x="127.2" y="273" fill="#34558f" stroke="#34558f" stroke-width="0.15" font-weight="bold" font-style="italic"><tspan font-size="9.2" font-style="normal">O</tspan><tspan font-size="7.2">-C/H</tspan></text><text x="116.8" y="281.7" fill="#34558f" stroke="#34558f" stroke-width="0.15" font-weight="bold" font-style="italic"><tspan font-size="7.4">Si-</tspan><tspan font-size="9.2" font-style="normal">O</tspan><tspan font-size="7.4">-Si</tspan></text><text x="116.8" y="290.7" fill="#34558f" stroke="#34558f" stroke-width="0.15" font-weight="bold" font-style="italic"><tspan font-size="7.4">Si-</tspan><tspan font-size="9.2" font-style="normal">O</tspan><tspan font-size="7.4">-C</tspan></text><text x="203.7" y="290.4" fill="#34558f" stroke="#34558f" stroke-width="0.15" font-weight="bold" font-style="italic"><tspan font-size="9.6" font-style="normal">O</tspan><tspan font-size="7.4">=C</tspan></text><line x1="153" y1="278.5" x2="171.5" y2="283.8" stroke="#34558f" stroke-width="0.8"/><line x1="202.4" y1="289.6" x2="188.5" y2="300.3" stroke="#34558f" stroke-width="0.8"/><text x="358.6" y="274.2" font-size="15.5" fill="#222" stroke="#222" stroke-width="0.18" font-weight="normal" font-style="normal" text-anchor="start" >(d)</text><rect x="384.5" y="263.8" width="293.9" height="221" fill="none" stroke="#161616" stroke-width="1.5" stroke-linejoin="round"/><line x1="665.1" y1="484.8" x2="665.1" y2="487.8" stroke="#2b2b2b" stroke-width="1.3"/><line x1="643.6" y1="484.8" x2="643.6" y2="490.1" stroke="#2b2b2b" stroke-width="1.3"/><text x="643.6" y="499.8" font-size="8.2" fill="#222" stroke="#222" stroke-width="0.18" font-weight="normal" font-style="normal" text-anchor="middle" >98</text><line x1="622.1" y1="484.8" x2="622.1" y2="487.8" stroke="#2b2b2b" stroke-width="1.3"/><line x1="600.7" y1="484.8" x2="600.7" y2="490.1" stroke="#2b2b2b" stroke-width="1.3"/><text x="600.7" y="499.8" font-size="8.2" fill="#222" stroke="#222" stroke-width="0.18" font-weight="normal" font-style="normal" text-anchor="middle" >100</text><line x1="579.2" y1="484.8" x2="579.2" y2="487.8" stroke="#2b2b2b" stroke-width="1.3"/><line x1="557.8" y1="484.8" x2="557.8" y2="490.1" stroke="#2b2b2b" stroke-width="1.3"/><text x="557.8" y="499.8" font-size="8.2" fill="#222" stroke="#222" stroke-width="0.18" font-weight="normal" font-style="normal" text-anchor="middle" >102</text><line x1="536.3" y1="484.8" x2="536.3" y2="487.8" stroke="#2b2b2b" stroke-width="1.3"/><line x1="514.8" y1="484.8" x2="514.8" y2="490.1" stroke="#2b2b2b" stroke-width="1.3"/><text x="514.8" y="499.8" font-size="8.2" fill="#222" stroke="#222" stroke-width="0.18" font-weight="normal" font-style="normal" text-anchor="middle" >104</text><line x1="493.4" y1="484.8" x2="493.4" y2="487.8" stroke="#2b2b2b" stroke-width="1.3"/><line x1="471.9" y1="484.8" x2="471.9" y2="490.1" stroke="#2b2b2b" stroke-width="1.3"/><text x="471.9" y="499.8" font-size="8.2" fill="#222" stroke="#222" stroke-width="0.18" font-weight="normal" font-style="normal" text-anchor="middle" >106</text><line x1="450.5" y1="484.8" x2="450.5" y2="487.8" stroke="#2b2b2b" stroke-width="1.3"/><line x1="429" y1="484.8" x2="429" y2="490.1" stroke="#2b2b2b" stroke-width="1.3"/><text x="429" y="499.8" font-size="8.2" fill="#222" stroke="#222" stroke-width="0.18" font-weight="normal" font-style="normal" text-anchor="middle" >108</text><line x1="407.5" y1="484.8" x2="407.5" y2="487.8" stroke="#2b2b2b" stroke-width="1.3"/><line x1="386.1" y1="484.8" x2="386.1" y2="490.1" stroke="#2b2b2b" stroke-width="1.3"/><text x="386.1" y="499.8" font-size="8.2" fill="#222" stroke="#222" stroke-width="0.18" font-weight="normal" font-style="normal" text-anchor="middle" >110</text><text x="541" y="510.7" font-size="9.6" fill="#222" stroke="#222" stroke-width="0.18" font-weight="normal" font-style="normal" text-anchor="middle" >Binding energy (eV)</text><text x="380" y="375.4" font-size="10" fill="#222" text-anchor="middle" transform="rotate(-90 380 375.4)">Intensity</text><path d="M462 322.6 L462.6 322.5 L463.2 322.5 L463.8 322.5 L464.4 322.5 L465 322.4 L465.6 322.4 L466.2 322.4 L466.8 322.4 L467.4 322.3 L468 322.3 L468.6 322.2 L469.2 322.2 L469.8 322.1 L470.4 322.1 L471 322 L471.6 322 L472.2 321.9 L472.8 321.8 L473.4 321.7 L474 321.6 L474.6 321.5 L475.2 321.4 L475.8 321.3 L476.4 321.2 L477 321 L477.6 320.9 L478.2 320.7 L478.8 320.6 L479.4 320.4 L480 320.2 L480.6 320 L481.2 319.8 L481.8 319.6 L482.4 319.3 L483 319 L483.6 318.8 L484.2 318.5 L484.8 318.2 L485.4 317.8 L486 317.5 L486.6 317.1 L487.2 316.7 L487.8 316.3 L488.4 315.9 L489 315.5 L489.6 315 L490.2 314.5 L490.8 314 L491.4 313.5 L492 312.9 L492.6 312.3 L493.2 311.7 L493.8 311.1 L494.4 310.5 L495 309.8 L495.6 309.1 L496.2 308.4 L496.8 307.6 L497.4 306.9 L498 306.1 L498.6 305.3 L499.2 304.5 L499.8 303.7 L500.4 302.8 L501 302 L501.6 301.1 L502.2 300.2 L502.8 299.3 L503.4 298.4 L504 297.4 L504.6 296.5 L505.2 295.6 L505.8 294.6 L506.4 293.7 L507 292.7 L507.6 291.8 L508.2 290.9 L508.8 289.9 L509.4 289 L510 288.1 L510.6 287.2 L511.2 286.3 L511.8 285.4 L512.4 284.6 L513 283.7 L513.6 282.9 L514.2 282.1 L514.8 281.4 L515.4 280.7 L516 280 L516.6 279.3 L517.2 278.7 L517.8 278.1 L518.4 277.6 L519 277.1 L519.6 276.6 L520.2 276.2 L520.8 275.8 L521.4 275.5 L522 275.2 L522.6 275 L523.2 274.8 L523.8 274.7 L524.4 274.6 L525 274.6 L525.6 274.6 L526.2 274.7 L526.8 274.9 L527.4 275.1 L528 275.4 L528.6 275.8 L529.2 276.2 L529.8 276.6 L530.4 277.2 L531 277.8 L531.6 278.4 L532.2 279.1 L532.8 279.8 L533.4 280.6 L534 281.4 L534.6 282.3 L535.2 283.2 L535.8 284.1 L536.4 285 L537 286 L537.6 287 L538.2 288 L538.8 289.1 L539.4 290.1 L540 291.2 L540.6 292.3 L541.2 293.3 L541.8 294.4 L542.4 295.5 L543 296.6 L543.6 297.6 L544.2 298.7 L544.8 299.7 L545.4 300.7 L546 301.7 L546.6 302.7 L547.2 303.7 L547.8 304.6 L548.4 305.5 L549 306.4 L549.6 307.3 L550.2 308.1 L550.8 309 L551.4 309.7 L552 310.5 L552.6 311.2 L553.2 311.9 L553.8 312.6 L554.4 313.2 L555 313.9 L555.6 314.4 L556.2 315 L556.8 315.5 L557.4 316 L558 316.5 L558.6 317 L559.2 317.4 L559.8 317.8 L560.4 318.2 L561 318.5 L561.6 318.8 L562.2 319.1 L562.8 319.4 L563.4 319.7 L564 320 L564.6 320.2 L565.2 320.4 L565.8 320.6 L566.4 320.8 L567 321 L567.6 321.1 L568.2 321.3 L568.8 321.4 L569.4 321.5 L570 321.6 L570.6 321.7 L571.2 321.8 L571.8 321.9 L572.4 322 L573 322.1 L573.6 322.1 L574.2 322.2 L574.8 322.2 L575.4 322.3 L576 322.3 L576.6 322.4 L577.2 322.4 L577.8 322.4 L578.4 322.5 L579 322.5 L579.6 322.5 L580.2 322.5 L580.8 322.6 L581.4 322.6 L582 322.6 L582.6 322.6 L583.2 322.6 L583.8 322.6 L584.4 322.6 L585 322.6 L585.6 322.7 L586.2 322.7 L586.8 322.7 L587.4 322.7 L588 322.7 L588.6 322.7 L589.2 322.7 L589.8 322.7" fill="none" stroke="#3a6cf2" stroke-width="1.45" stroke-linejoin="round" stroke-linecap="round" /><path d="M462 322.7 L462.6 322.7 L463.2 322.7 L463.8 322.7 L464.4 322.7 L465 322.7 L465.6 322.7 L466.2 322.7 L466.8 322.7 L467.4 322.7 L468 322.7 L468.6 322.7 L469.2 322.7 L469.8 322.7 L470.4 322.7 L471 322.7 L471.6 322.7 L472.2 322.7 L472.8 322.7 L473.4 322.7 L474 322.7 L474.6 322.7 L475.2 322.7 L475.8 322.7 L476.4 322.7 L477 322.7 L477.6 322.7 L478.2 322.7 L478.8 322.7 L479.4 322.7 L480 322.7 L480.6 322.7 L481.2 322.7 L481.8 322.7 L482.4 322.7 L483 322.7 L483.6 322.7 L484.2 322.7 L484.8 322.7 L485.4 322.7 L486 322.7 L486.6 322.7 L487.2 322.7 L487.8 322.7 L488.4 322.7 L489 322.7 L489.6 322.7 L490.2 322.7 L490.8 322.7 L491.4 322.7 L492 322.7 L492.6 322.7 L493.2 322.7 L493.8 322.7 L494.4 322.7 L495 322.7 L495.6 322.7 L496.2 322.7 L496.8 322.7 L497.4 322.7 L498 322.7 L498.6 322.7 L499.2 322.7 L499.8 322.7 L500.4 322.7 L501 322.7 L501.6 322.7 L502.2 322.7 L502.8 322.7 L503.4 322.7 L504 322.7 L504.6 322.7 L505.2 322.7 L505.8 322.7 L506.4 322.7 L507 322.7 L507.6 322.7 L508.2 322.7 L508.8 322.7 L509.4 322.7 L510 322.7 L510.6 322.7 L511.2 322.7 L511.8 322.7 L512.4 322.7 L513 322.7 L513.6 322.7 L514.2 322.7 L514.8 322.7 L515.4 322.7 L516 322.7 L516.6 322.7 L517.2 322.7 L517.8 322.7 L518.4 322.7 L519 322.7 L519.6 322.7 L520.2 322.7 L520.8 322.6 L521.4 322.6 L522 322.6 L522.6 322.6 L523.2 322.6 L523.8 322.5 L524.4 322.5 L525 322.5 L525.6 322.4 L526.2 322.4 L526.8 322.3 L527.4 322.3 L528 322.2 L528.6 322.1 L529.2 322 L529.8 321.9 L530.4 321.8 L531 321.6 L531.6 321.5 L532.2 321.3 L532.8 321.1 L533.4 320.9 L534 320.6 L534.6 320.3 L535.2 320 L535.8 319.7 L536.4 319.4 L537 319 L537.6 318.6 L538.2 318.1 L538.8 317.7 L539.4 317.2 L540 316.7 L540.6 316.1 L541.2 315.6 L541.8 315 L542.4 314.4 L543 313.8 L543.6 313.1 L544.2 312.5 L544.8 311.9 L545.4 311.2 L546 310.6 L546.6 310 L547.2 309.4 L547.8 308.8 L548.4 308.3 L549 307.7 L549.6 307.3 L550.2 306.8 L550.8 306.4 L551.4 306.1 L552 305.8 L552.6 305.5 L553.2 305.4 L553.8 305.3 L554.4 305.2 L555 305.2 L555.6 305.3 L556.2 305.4 L556.8 305.6 L557.4 305.9 L558 306.2 L558.6 306.5 L559.2 307 L559.8 307.4 L560.4 307.9 L561 308.4 L561.6 309 L562.2 309.6 L562.8 310.2 L563.4 310.8 L564 311.4 L564.6 312.1 L565.2 312.7 L565.8 313.4 L566.4 314 L567 314.6 L567.6 315.2 L568.2 315.8 L568.8 316.3 L569.4 316.8 L570 317.4 L570.6 317.8 L571.2 318.3 L571.8 318.7 L572.4 319.1 L573 319.5 L573.6 319.8 L574.2 320.1 L574.8 320.4 L575.4 320.7 L576 320.9 L576.6 321.1 L577.2 321.3 L577.8 321.5 L578.4 321.7 L579 321.8 L579.6 321.9 L580.2 322 L580.8 322.1 L581.4 322.2 L582 322.3 L582.6 322.4 L583.2 322.4 L583.8 322.5 L584.4 322.5 L585 322.5 L585.6 322.6 L586.2 322.6 L586.8 322.6 L587.4 322.6 L588 322.6 L588.6 322.6 L589.2 322.7 L589.8 322.7" fill="none" stroke="#3a6cf2" stroke-width="1.45" stroke-linejoin="round" stroke-linecap="round" /><line x1="462" y1="323.6" x2="585" y2="323.6" stroke="#f07070" stroke-width="1.2"/><path d="M460 323.5 L460.5 323.5 L461 323.4 L461.5 323.4 L462 323.3 L462.5 323.3 L463 323.3 L463.5 323.2 L464 323.2 L464.5 323.2 L465 323.1 L465.5 323.1 L466 323 L466.5 323 L467 323 L467.5 322.9 L468 322.9 L468.5 322.8 L469 322.7 L469.5 322.7 L470 322.6 L470.5 322.5 L471 322.4 L471.5 322.4 L472 322.3 L472.5 322.2 L473 322.1 L473.5 321.9 L474 321.8 L474.5 321.7 L475 321.6 L475.5 321.4 L476 321.3 L476.5 321.1 L477 321 L477.5 320.8 L478 320.7 L478.5 320.5 L479 320.3 L479.5 320.1 L480 320 L480.5 319.8 L481 319.6 L481.5 319.4 L482 319.1 L482.5 318.9 L483 318.7 L483.5 318.5 L484 318.2 L484.5 318 L485 317.7 L485.5 317.4 L486 317.2 L486.5 316.9 L487 316.6 L487.5 316.3 L488 316 L488.5 315.7 L489 315.4 L489.5 315.1 L490 314.7 L490.5 314.4 L491 314 L491.5 313.6 L492 313.2 L492.5 312.8 L493 312.3 L493.5 311.8 L494 311.3 L494.5 310.8 L495 310.2 L495.5 309.6 L496 309 L496.5 308.4 L497 307.8 L497.5 307.1 L498 306.5 L498.5 305.8 L499 305.1 L499.5 304.5 L500 303.8 L500.5 303 L501 302.3 L501.5 301.5 L502 300.7 L502.5 299.9 L503 299.1 L503.5 298.3 L504 297.6 L504.5 296.8 L505 296 L505.5 295.2 L506 294.3 L506.5 293.5 L507 292.7 L507.5 291.9 L508 291.1 L508.5 290.3 L509 289.5 L509.5 288.8 L510 288 L510.5 287.3 L511 286.6 L511.5 285.9 L512 285.2 L512.5 284.5 L513 283.8 L513.5 283.1 L514 282.5 L514.5 281.8 L515 281.2 L515.5 280.5 L516 279.9 L516.5 279.2 L517 278.6 L517.5 278 L518 277.4 L518.5 276.8 L519 276.2 L519.5 275.7 L520 275.2 L520.5 274.7 L521 274.2 L521.5 273.8 L522 273.4 L522.5 273.1 L523 272.8 L523.5 272.5 L524 272.2 L524.5 271.9 L525 271.6 L525.5 271.4 L526 271.3 L526.5 271.2 L527 271.1 L527.5 271.1 L528 271.1 L528.5 271.1 L529 271.2 L529.5 271.3 L530 271.4 L530.5 271.6 L531 271.7 L531.5 271.9 L532 272.1 L532.5 272.3 L533 272.6 L533.5 272.9 L534 273.2 L534.5 273.6 L535 273.9 L535.5 274.3 L536 274.7 L536.5 275.1 L537 275.5 L537.5 276 L538 276.4 L538.5 276.9 L539 277.3 L539.5 277.8 L540 278.3 L540.5 278.8 L541 279.4 L541.5 279.9 L542 280.5 L542.5 281.1 L543 281.7 L543.5 282.2 L544 282.8 L544.5 283.4 L545 283.9 L545.5 284.4 L546 284.9 L546.5 285.3 L547 285.8 L547.5 286.2 L548 286.6 L548.5 287 L549 287.5 L549.5 287.9 L550 288.3 L550.5 288.8 L551 289.2 L551.5 289.6 L552 290.1 L552.5 290.5 L553 290.9 L553.5 291.4 L554 291.8 L554.5 292.3 L555 292.7 L555.5 293.2 L556 293.7 L556.5 294.1 L557 294.6 L557.5 295.1 L558 295.6 L558.5 296.1 L559 296.6 L559.5 297.2 L560 297.7 L560.5 298.2 L561 298.7 L561.5 299.3 L562 299.8 L562.5 300.4 L563 300.9 L563.5 301.5 L564 302.1 L564.5 302.6 L565 303.2 L565.5 303.8 L566 304.4 L566.5 305.1 L567 305.7 L567.5 306.3 L568 307 L568.5 307.6 L569 308.3 L569.5 308.9 L570 309.5 L570.5 310.1 L571 310.7 L571.5 311.3 L572 311.9 L572.5 312.5 L573 313 L573.5 313.6 L574 314.1 L574.5 314.7 L575 315.2 L575.5 315.7 L576 316.2 L576.5 316.7 L577 317.2 L577.5 317.6 L578 318.1 L578.5 318.5 L579 318.9 L579.5 319.3 L580 319.7 L580.5 320 L581 320.4 L581.5 320.7 L582 321 L582.5 321.3 L583 321.6 L583.5 321.8 L584 322 L584.5 322.1 L585 322.3 L585.5 322.4 L586 322.5 L586.5 322.6 L587 322.6 L587.5 322.7 L588 322.8 L588.5 322.8 L589 322.9 L589.5 322.9 L590 322.9 L590.5 323 L591 323 L591.5 323.1 L592 323.1 L592.5 323.1 L593 323.1 L593.5 323.2 L594 323.2 L594.5 323.2 L595 323.3 L595.5 323.3 L596 323.3 L596.5 323.3 L597 323.4 L597.5 323.4 L598 323.4 L598.5 323.5 L599 323.5 L599.5 323.5 L600 323.5 L600.5 323.5 L601 323.6 L601.5 323.6 L602 323.6 L602.5 323.6 L603 323.6 L603.5 323.7 L604 323.7 L604.5 323.7 L605 323.7 L605.5 323.7 L606 323.8 L606.5 323.8 L607 323.8 L607.5 323.8 L608 323.8 L608.5 323.9 L609 323.9 L609.5 323.9" fill="none" stroke="#e04c58" stroke-width="1.15" stroke-linejoin="round" stroke-linecap="round" /><path d="M386.0 325.0h.3M387.4 325.1h.3M388.7 325.0h.3M390.1 325.0h.3M391.4 324.1h.3M392.8 324.6h.3M394.1 325.1h.3M395.5 325.1h.3M396.8 324.3h.3M398.2 324.5h.3M399.5 324.8h.3M400.9 324.4h.3M402.2 324.6h.3M403.6 324.1h.3M404.9 324.5h.3M406.3 324.6h.3M407.6 324.0h.3M409.0 324.2h.3M410.3 325.2h.3M411.7 324.9h.3M413.0 325.1h.3M414.4 324.8h.3M415.7 325.0h.3M417.1 325.1h.3M418.4 325.1h.3M419.8 324.0h.3M421.1 324.8h.3M422.5 324.3h.3M423.8 324.8h.3M425.2 324.3h.3M426.5 324.7h.3M427.9 325.1h.3M429.2 324.7h.3M430.6 324.3h.3M431.9 324.6h.3M433.3 324.5h.3M434.6 325.1h.3M436.0 324.3h.3M437.3 324.4h.3M438.7 324.8h.3M440.0 324.1h.3M441.4 324.7h.3M442.7 325.1h.3M444.1 324.6h.3M445.4 324.3h.3M446.8 324.6h.3M448.1 324.6h.3M449.5 324.2h.3M450.8 324.1h.3M452.2 324.2h.3M453.5 324.4h.3M454.9 324.5h.3M456.2 324.3h.3M457.6 324.1h.3M458.9 323.4h.3M460.3 323.5h.3M461.6 323.8h.3M463.0 323.4h.3M464.3 323.3h.3M465.7 323.3h.3M467.0 322.6h.3M468.4 323.1h.3M469.7 322.6h.3M471.1 322.5h.3M472.4 322.3h.3M473.8 321.9h.3M475.1 321.3h.3M476.5 320.9h.3M477.8 320.4h.3M479.2 320.3h.3M480.5 319.6h.3M481.9 319.3h.3M483.2 318.0h.3M484.6 317.8h.3M485.9 317.7h.3M487.3 316.1h.3M488.6 315.7h.3M490.0 314.7h.3M491.3 313.5h.3M492.7 313.2h.3M494.0 311.1h.3M495.4 310.1h.3M496.7 307.7h.3M498.1 305.9h.3M499.4 305.0h.3M500.8 302.6h.3M502.1 300.1h.3M503.5 298.3h.3M504.8 296.2h.3M506.2 294.4h.3M507.5 291.4h.3M508.9 289.4h.3M510.2 288.3h.3M511.6 286.1h.3M512.9 283.5h.3M514.3 281.9h.3M515.6 280.2h.3M517.0 278.9h.3M518.3 277.2h.3M519.7 276.0h.3M521.0 274.6h.3M522.4 273.2h.3M523.7 272.6h.3M525.1 271.9h.3M526.4 271.5h.3M527.8 271.0h.3M529.1 271.6h.3M530.5 271.8h.3M531.8 272.5h.3M533.2 272.2h.3M534.5 274.0h.3M535.9 274.0h.3M537.2 276.0h.3M538.6 277.0h.3M539.9 278.2h.3M541.3 280.2h.3M542.6 281.3h.3M544.0 282.7h.3M545.3 284.5h.3M546.7 285.9h.3M548.0 286.8h.3M549.4 287.6h.3M550.7 288.9h.3M552.1 290.1h.3M553.4 291.5h.3M554.8 292.2h.3M556.1 293.6h.3M557.5 295.1h.3M558.8 296.3h.3M560.2 297.6h.3M561.5 299.6h.3M562.9 301.2h.3M564.2 302.3h.3M565.6 303.8h.3M566.9 305.2h.3M568.3 307.1h.3M569.6 308.6h.3M571.0 310.7h.3M572.3 312.3h.3M573.7 313.3h.3M575.0 315.7h.3M576.4 316.3h.3M577.7 318.2h.3M579.1 319.4h.3M580.4 320.5h.3M581.8 320.5h.3M583.1 321.5h.3M584.5 322.6h.3M585.8 321.9h.3M587.2 322.1h.3M588.5 322.9h.3M589.9 322.9h.3M591.2 323.5h.3M592.6 323.4h.3M593.9 323.2h.3M595.3 323.9h.3M596.6 323.4h.3M598.0 323.4h.3M599.3 323.7h.3M600.7 323.4h.3M602.0 323.4h.3M603.4 323.8h.3M604.7 323.5h.3M606.1 324.3h.3M607.4 324.0h.3M608.8 323.9h.3M610.1 323.5h.3M611.5 323.9h.3M612.8 324.1h.3M614.2 324.3h.3M615.5 324.3h.3M616.9 324.7h.3M618.2 324.8h.3M619.6 324.2h.3M620.9 324.1h.3M622.3 324.3h.3M623.6 324.8h.3M625.0 324.0h.3M626.3 324.2h.3M627.7 324.6h.3M629.0 323.8h.3M630.4 324.0h.3M631.7 324.8h.3M633.1 324.6h.3M634.4 324.2h.3M635.8 323.7h.3M637.1 324.7h.3M638.5 324.4h.3M639.8 324.6h.3M641.2 324.8h.3M642.5 324.7h.3M643.9 324.1h.3M645.2 323.8h.3M646.6 323.9h.3M647.9 324.2h.3M649.3 324.2h.3M650.6 323.8h.3M652.0 323.8h.3M653.3 324.4h.3M654.7 324.3h.3M656.0 324.0h.3M657.4 324.8h.3M658.7 324.4h.3M660.1 323.7h.3M661.4 324.1h.3M662.8 324.5h.3M664.1 324.0h.3M665.5 324.4h.3M666.8 323.6h.3M668.2 324.0h.3M669.5 324.6h.3M670.9 324.3h.3M672.2 324.4h.3M673.6 323.8h.3M674.9 324.2h.3" fill="none" stroke="#979797" stroke-width="2.35" stroke-linecap="round"/><path d="M462 402.4 L462.6 402.4 L463.2 402.4 L463.8 402.4 L464.4 402.4 L465 402.4 L465.6 402.3 L466.2 402.3 L466.8 402.3 L467.4 402.3 L468 402.2 L468.6 402.2 L469.2 402.2 L469.8 402.1 L470.4 402.1 L471 402.1 L471.6 402 L472.2 402 L472.8 401.9 L473.4 401.8 L474 401.8 L474.6 401.7 L475.2 401.6 L475.8 401.5 L476.4 401.4 L477 401.3 L477.6 401.2 L478.2 401.1 L478.8 400.9 L479.4 400.8 L480 400.6 L480.6 400.5 L481.2 400.3 L481.8 400.1 L482.4 399.9 L483 399.6 L483.6 399.4 L484.2 399.1 L484.8 398.8 L485.4 398.5 L486 398.2 L486.6 397.9 L487.2 397.5 L487.8 397.1 L488.4 396.7 L489 396.2 L489.6 395.8 L490.2 395.3 L490.8 394.7 L491.4 394.2 L492 393.6 L492.6 393 L493.2 392.3 L493.8 391.7 L494.4 391 L495 390.2 L495.6 389.4 L496.2 388.6 L496.8 387.8 L497.4 386.9 L498 386 L498.6 385 L499.2 384 L499.8 383 L500.4 381.9 L501 380.9 L501.6 379.7 L502.2 378.6 L502.8 377.4 L503.4 376.2 L504 374.9 L504.6 373.6 L505.2 372.3 L505.8 371 L506.4 369.6 L507 368.3 L507.6 366.9 L508.2 365.5 L508.8 364 L509.4 362.6 L510 361.1 L510.6 359.7 L511.2 358.2 L511.8 356.8 L512.4 355.3 L513 353.9 L513.6 352.4 L514.2 351 L514.8 349.6 L515.4 348.2 L516 346.8 L516.6 345.5 L517.2 344.2 L517.8 342.9 L518.4 341.6 L519 340.4 L519.6 339.3 L520.2 338.2 L520.8 337.1 L521.4 336.1 L522 335.2 L522.6 334.3 L523.2 333.5 L523.8 332.7 L524.4 332 L525 331.4 L525.6 330.8 L526.2 330.4 L526.8 330 L527.4 329.6 L528 329.4 L528.6 329.2 L529.2 329.1 L529.8 329.1 L530.4 329.2 L531 329.4 L531.6 329.7 L532.2 330.2 L532.8 330.7 L533.4 331.3 L534 332.1 L534.6 332.9 L535.2 333.9 L535.8 334.9 L536.4 336 L537 337.2 L537.6 338.5 L538.2 339.8 L538.8 341.2 L539.4 342.7 L540 344.2 L540.6 345.8 L541.2 347.4 L541.8 349.1 L542.4 350.8 L543 352.5 L543.6 354.2 L544.2 355.9 L544.8 357.7 L545.4 359.4 L546 361.2 L546.6 362.9 L547.2 364.6 L547.8 366.3 L548.4 368 L549 369.6 L549.6 371.3 L550.2 372.8 L550.8 374.4 L551.4 375.9 L552 377.4 L552.6 378.8 L553.2 380.2 L553.8 381.5 L554.4 382.8 L555 384 L555.6 385.2 L556.2 386.3 L556.8 387.4 L557.4 388.4 L558 389.4 L558.6 390.3 L559.2 391.2 L559.8 392 L560.4 392.8 L561 393.6 L561.6 394.3 L562.2 394.9 L562.8 395.5 L563.4 396.1 L564 396.6 L564.6 397.1 L565.2 397.6 L565.8 398 L566.4 398.4 L567 398.8 L567.6 399.1 L568.2 399.5 L568.8 399.7 L569.4 400 L570 400.3 L570.6 400.5 L571.2 400.7 L571.8 400.9 L572.4 401 L573 401.2 L573.6 401.3 L574.2 401.5 L574.8 401.6 L575.4 401.7 L576 401.8 L576.6 401.8 L577.2 401.9 L577.8 402 L578.4 402 L579 402.1 L579.6 402.1 L580.2 402.2 L580.8 402.2 L581.4 402.3 L582 402.3 L582.6 402.3 L583.2 402.3 L583.8 402.4 L584.4 402.4 L585 402.4 L585.6 402.4 L586.2 402.4 L586.8 402.4 L587.4 402.4 L588 402.4 L588.6 402.5 L589.2 402.5 L589.8 402.5 L590.4 402.5 L591 402.5 L591.6 402.5" fill="none" stroke="#3a6cf2" stroke-width="1.45" stroke-linejoin="round" stroke-linecap="round" /><path d="M462 402.5 L462.6 402.5 L463.2 402.5 L463.8 402.5 L464.4 402.5 L465 402.5 L465.6 402.5 L466.2 402.5 L466.8 402.5 L467.4 402.5 L468 402.5 L468.6 402.5 L469.2 402.5 L469.8 402.5 L470.4 402.5 L471 402.5 L471.6 402.5 L472.2 402.5 L472.8 402.5 L473.4 402.5 L474 402.5 L474.6 402.5 L475.2 402.5 L475.8 402.5 L476.4 402.5 L477 402.5 L477.6 402.5 L478.2 402.5 L478.8 402.5 L479.4 402.5 L480 402.5 L480.6 402.5 L481.2 402.5 L481.8 402.5 L482.4 402.5 L483 402.5 L483.6 402.5 L484.2 402.5 L484.8 402.5 L485.4 402.5 L486 402.5 L486.6 402.5 L487.2 402.5 L487.8 402.5 L488.4 402.5 L489 402.5 L489.6 402.5 L490.2 402.5 L490.8 402.5 L491.4 402.5 L492 402.5 L492.6 402.5 L493.2 402.5 L493.8 402.5 L494.4 402.5 L495 402.5 L495.6 402.5 L496.2 402.5 L496.8 402.5 L497.4 402.5 L498 402.5 L498.6 402.5 L499.2 402.5 L499.8 402.5 L500.4 402.5 L501 402.5 L501.6 402.5 L502.2 402.5 L502.8 402.5 L503.4 402.5 L504 402.5 L504.6 402.5 L505.2 402.5 L505.8 402.5 L506.4 402.5 L507 402.5 L507.6 402.5 L508.2 402.5 L508.8 402.5 L509.4 402.5 L510 402.5 L510.6 402.5 L511.2 402.5 L511.8 402.5 L512.4 402.5 L513 402.5 L513.6 402.5 L514.2 402.5 L514.8 402.5 L515.4 402.5 L516 402.5 L516.6 402.5 L517.2 402.5 L517.8 402.5 L518.4 402.5 L519 402.5 L519.6 402.5 L520.2 402.5 L520.8 402.5 L521.4 402.5 L522 402.5 L522.6 402.5 L523.2 402.4 L523.8 402.4 L524.4 402.4 L525 402.4 L525.6 402.4 L526.2 402.4 L526.8 402.4 L527.4 402.3 L528 402.3 L528.6 402.3 L529.2 402.2 L529.8 402.2 L530.4 402.1 L531 402.1 L531.6 402 L532.2 401.9 L532.8 401.8 L533.4 401.7 L534 401.6 L534.6 401.5 L535.2 401.3 L535.8 401.2 L536.4 401 L537 400.8 L537.6 400.6 L538.2 400.4 L538.8 400.2 L539.4 399.9 L540 399.6 L540.6 399.3 L541.2 399 L541.8 398.6 L542.4 398.3 L543 397.9 L543.6 397.4 L544.2 397 L544.8 396.5 L545.4 396.1 L546 395.6 L546.6 395.1 L547.2 394.5 L547.8 394 L548.4 393.5 L549 392.9 L549.6 392.4 L550.2 391.8 L550.8 391.3 L551.4 390.7 L552 390.2 L552.6 389.7 L553.2 389.2 L553.8 388.7 L554.4 388.3 L555 387.8 L555.6 387.4 L556.2 387.1 L556.8 386.8 L557.4 386.5 L558 386.3 L558.6 386.1 L559.2 385.9 L559.8 385.8 L560.4 385.8 L561 385.8 L561.6 385.9 L562.2 386 L562.8 386.1 L563.4 386.3 L564 386.6 L564.6 386.9 L565.2 387.2 L565.8 387.6 L566.4 388 L567 388.4 L567.6 388.9 L568.2 389.3 L568.8 389.9 L569.4 390.4 L570 390.9 L570.6 391.5 L571.2 392 L571.8 392.6 L572.4 393.1 L573 393.7 L573.6 394.2 L574.2 394.7 L574.8 395.2 L575.4 395.7 L576 396.2 L576.6 396.7 L577.2 397.2 L577.8 397.6 L578.4 398 L579 398.4 L579.6 398.7 L580.2 399.1 L580.8 399.4 L581.4 399.7 L582 400 L582.6 400.2 L583.2 400.5 L583.8 400.7 L584.4 400.9 L585 401.1 L585.6 401.2 L586.2 401.4 L586.8 401.5 L587.4 401.6 L588 401.7 L588.6 401.8 L589.2 401.9 L589.8 402 L590.4 402.1 L591 402.1 L591.6 402.2" fill="none" stroke="#3a6cf2" stroke-width="1.45" stroke-linejoin="round" stroke-linecap="round" /><line x1="462" y1="403.4" x2="587" y2="403.4" stroke="#f07070" stroke-width="1.2"/><path d="M460.6 403.4 L461.1 403.4 L461.6 403.3 L462.1 403.3 L462.6 403.2 L463.1 403.2 L463.6 403.1 L464.1 403.1 L464.6 403.1 L465.1 403 L465.6 403 L466.1 402.9 L466.6 402.9 L467.1 402.8 L467.6 402.8 L468.1 402.7 L468.6 402.7 L469.1 402.6 L469.6 402.6 L470.1 402.5 L470.6 402.4 L471.1 402.4 L471.6 402.3 L472.1 402.2 L472.6 402.2 L473.1 402.1 L473.6 402 L474.1 401.9 L474.6 401.8 L475.1 401.7 L475.6 401.6 L476.1 401.5 L476.6 401.4 L477.1 401.3 L477.6 401.2 L478.1 401.1 L478.6 400.9 L479.1 400.8 L479.6 400.6 L480.1 400.4 L480.6 400.3 L481.1 400.1 L481.6 399.9 L482.1 399.7 L482.6 399.5 L483.1 399.3 L483.6 399 L484.1 398.8 L484.6 398.6 L485.1 398.3 L485.6 398.1 L486.1 397.8 L486.6 397.6 L487.1 397.4 L487.6 397.1 L488.1 396.8 L488.6 396.6 L489.1 396.3 L489.6 396 L490.1 395.6 L490.6 395.3 L491.1 394.9 L491.6 394.4 L492.1 394 L492.6 393.5 L493.1 393 L493.6 392.5 L494.1 391.9 L494.6 391.4 L495.1 390.8 L495.6 390.1 L496.1 389.5 L496.6 388.8 L497.1 388.2 L497.6 387.5 L498.1 386.7 L498.6 386 L499.1 385.2 L499.6 384.4 L500.1 383.6 L500.6 382.7 L501.1 381.8 L501.6 380.8 L502.1 379.8 L502.6 378.7 L503.1 377.6 L503.6 376.4 L504.1 375.3 L504.6 374.1 L505.1 372.8 L505.6 371.6 L506.1 370.4 L506.6 369.1 L507.1 367.8 L507.6 366.5 L508.1 365.1 L508.6 363.7 L509.1 362.3 L509.6 360.9 L510.1 359.5 L510.6 358.2 L511.1 356.9 L511.6 355.7 L512.1 354.4 L512.6 353.2 L513.1 352 L513.6 350.8 L514.1 349.6 L514.6 348.5 L515.1 347.4 L515.6 346.3 L516.1 345.2 L516.6 344.2 L517.1 343.2 L517.6 342.2 L518.1 341.2 L518.6 340.2 L519.1 339.3 L519.6 338.4 L520.1 337.5 L520.6 336.7 L521.1 335.9 L521.6 335.1 L522.1 334.3 L522.6 333.6 L523.1 332.8 L523.6 332.1 L524.1 331.5 L524.6 330.8 L525.1 330.2 L525.6 329.7 L526.1 329.2 L526.6 328.8 L527.1 328.4 L527.6 328 L528.1 327.8 L528.6 327.6 L529.1 327.4 L529.6 327.4 L530.1 327.4 L530.6 327.4 L531.1 327.5 L531.6 327.6 L532.1 327.8 L532.6 328 L533.1 328.3 L533.6 328.6 L534.1 329 L534.6 329.5 L535.1 330 L535.6 330.7 L536.1 331.4 L536.6 332.2 L537.1 333.1 L537.6 334 L538.1 334.9 L538.6 335.9 L539.1 336.8 L539.6 337.7 L540.1 338.5 L540.6 339.4 L541.1 340.2 L541.6 341 L542.1 341.8 L542.6 342.6 L543.1 343.4 L543.6 344.2 L544.1 345 L544.6 345.9 L545.1 346.8 L545.6 347.7 L546.1 348.6 L546.6 349.5 L547.1 350.5 L547.6 351.5 L548.1 352.4 L548.6 353.4 L549.1 354.3 L549.6 355.2 L550.1 356 L550.6 356.8 L551.1 357.6 L551.6 358.3 L552.1 359 L552.6 359.7 L553.1 360.5 L553.6 361.2 L554.1 361.9 L554.6 362.7 L555.1 363.5 L555.6 364.3 L556.1 365.1 L556.6 365.9 L557.1 366.8 L557.6 367.6 L558.1 368.4 L558.6 369.3 L559.1 370.1 L559.6 370.9 L560.1 371.7 L560.6 372.5 L561.1 373.2 L561.6 374 L562.1 374.8 L562.6 375.5 L563.1 376.3 L563.6 377 L564.1 377.8 L564.6 378.5 L565.1 379.3 L565.6 380.1 L566.1 380.8 L566.6 381.6 L567.1 382.3 L567.6 383.1 L568.1 383.8 L568.6 384.5 L569.1 385.2 L569.6 386 L570.1 386.7 L570.6 387.4 L571.1 388.1 L571.6 388.8 L572.1 389.4 L572.6 390.1 L573.1 390.8 L573.6 391.4 L574.1 392.1 L574.6 392.7 L575.1 393.3 L575.6 394 L576.1 394.6 L576.6 395.2 L577.1 395.8 L577.6 396.4 L578.1 397 L578.6 397.5 L579.1 398 L579.6 398.5 L580.1 399 L580.6 399.4 L581.1 399.8 L581.6 400.2 L582.1 400.5 L582.6 400.9 L583.1 401.1 L583.6 401.4 L584.1 401.6 L584.6 401.8 L585.1 402 L585.6 402.2 L586.1 402.4 L586.6 402.5 L587.1 402.6 L587.6 402.7 L588.1 402.8 L588.6 402.9 L589.1 402.9 L589.6 403 L590.1 403 L590.6 403.1 L591.1 403.1 L591.6 403.1 L592.1 403.2 L592.6 403.2 L593.1 403.2 L593.6 403.2 L594.1 403.2 L594.6 403.3 L595.1 403.3 L595.6 403.3 L596.1 403.3 L596.6 403.3 L597.1 403.3 L597.6 403.3 L598.1 403.3 L598.6 403.3 L599.1 403.4 L599.6 403.4 L600.1 403.4 L600.6 403.4 L601.1 403.4 L601.6 403.4 L602.1 403.4 L602.6 403.4 L603.1 403.4 L603.6 403.4 L604.1 403.4 L604.6 403.4 L605.1 403.4 L605.6 403.4 L606.1 403.5 L606.6 403.5 L607.1 403.5 L607.6 403.5 L608.1 403.5 L608.6 403.5 L609.1 403.5" fill="none" stroke="#e04c58" stroke-width="1.15" stroke-linejoin="round" stroke-linecap="round" /><path d="M386.0 404.3h.3M387.4 403.9h.3M388.7 404.4h.3M390.1 404.2h.3M391.4 404.8h.3M392.8 404.3h.3M394.1 404.1h.3M395.5 403.7h.3M396.8 403.8h.3M398.2 404.5h.3M399.5 403.7h.3M400.9 403.7h.3M402.2 403.8h.3M403.6 404.2h.3M404.9 404.6h.3M406.3 404.3h.3M407.6 404.6h.3M409.0 403.7h.3M410.3 403.6h.3M411.7 404.5h.3M413.0 404.0h.3M414.4 404.5h.3M415.7 404.0h.3M417.1 403.8h.3M418.4 403.9h.3M419.8 403.7h.3M421.1 404.7h.3M422.5 404.3h.3M423.8 404.0h.3M425.2 404.1h.3M426.5 404.1h.3M427.9 403.7h.3M429.2 404.7h.3M430.6 404.3h.3M431.9 404.8h.3M433.3 404.1h.3M434.6 404.3h.3M436.0 403.9h.3M437.3 403.7h.3M438.7 404.7h.3M440.0 404.6h.3M441.4 404.0h.3M442.7 404.7h.3M444.1 404.6h.3M445.4 404.0h.3M446.8 404.3h.3M448.1 404.8h.3M449.5 404.2h.3M450.8 404.7h.3M452.2 403.9h.3M453.5 404.1h.3M454.9 404.5h.3M456.2 403.9h.3M457.6 404.0h.3M458.9 404.3h.3M460.3 403.5h.3M461.6 403.7h.3M463.0 402.9h.3M464.3 402.7h.3M465.7 402.8h.3M467.0 402.5h.3M468.4 403.3h.3M469.7 402.3h.3M471.1 402.5h.3M472.4 401.7h.3M473.8 402.0h.3M475.1 401.6h.3M476.5 401.3h.3M477.8 400.6h.3M479.2 400.3h.3M480.5 400.7h.3M481.9 399.6h.3M483.2 398.9h.3M484.6 398.2h.3M485.9 397.7h.3M487.3 397.0h.3M488.6 396.0h.3M490.0 395.9h.3M491.3 394.5h.3M492.7 393.0h.3M494.0 392.3h.3M495.4 390.0h.3M496.7 388.4h.3M498.1 387.2h.3M499.4 384.3h.3M500.8 382.4h.3M502.1 380.2h.3M503.5 377.2h.3M504.8 373.2h.3M506.2 370.0h.3M507.5 367.0h.3M508.9 362.9h.3M510.2 359.8h.3M511.6 355.4h.3M512.9 353.0h.3M514.3 349.3h.3M515.6 346.0h.3M517.0 343.4h.3M518.3 340.3h.3M519.7 338.5h.3M521.0 335.7h.3M522.4 334.4h.3M523.7 332.1h.3M525.1 330.1h.3M526.4 328.6h.3M527.8 328.1h.3M529.1 327.1h.3M530.5 327.9h.3M531.8 327.3h.3M533.2 328.3h.3M534.5 329.4h.3M535.9 330.7h.3M537.2 333.6h.3M538.6 335.6h.3M539.9 338.4h.3M541.3 340.5h.3M542.6 342.3h.3M544.0 344.6h.3M545.3 346.6h.3M546.7 349.3h.3M548.0 352.7h.3M549.4 354.5h.3M550.7 357.1h.3M552.1 358.5h.3M553.4 361.0h.3M554.8 362.8h.3M556.1 365.1h.3M557.5 367.1h.3M558.8 369.1h.3M560.2 371.5h.3M561.5 373.5h.3M562.9 375.5h.3M564.2 378.2h.3M565.6 379.7h.3M566.9 381.9h.3M568.3 384.5h.3M569.6 386.3h.3M571.0 388.3h.3M572.3 390.1h.3M573.7 391.0h.3M575.0 392.9h.3M576.4 394.3h.3M577.7 396.7h.3M579.1 398.2h.3M580.4 399.0h.3M581.8 400.2h.3M583.1 401.3h.3M584.5 402.0h.3M585.8 402.0h.3M587.2 403.1h.3M588.5 402.7h.3M589.9 403.2h.3M591.2 402.7h.3M592.6 402.7h.3M593.9 403.7h.3M595.3 403.6h.3M596.6 403.6h.3M598.0 402.8h.3M599.3 402.8h.3M600.7 403.0h.3M602.0 403.0h.3M603.4 403.2h.3M604.7 403.3h.3M606.1 402.9h.3M607.4 403.2h.3M608.8 403.7h.3M610.1 403.1h.3M611.5 404.0h.3M612.8 403.7h.3M614.2 403.9h.3M615.5 403.3h.3M616.9 403.5h.3M618.2 403.8h.3M619.6 403.4h.3M620.9 403.0h.3M622.3 404.0h.3M623.6 403.9h.3M625.0 403.3h.3M626.3 403.1h.3M627.7 404.0h.3M629.0 403.7h.3M630.4 403.1h.3M631.7 403.3h.3M633.1 403.1h.3M634.4 403.9h.3M635.8 403.3h.3M637.1 404.1h.3M638.5 403.9h.3M639.8 403.1h.3M641.2 403.8h.3M642.5 403.5h.3M643.9 403.9h.3M645.2 404.0h.3M646.6 403.3h.3M647.9 403.1h.3M649.3 404.1h.3M650.6 403.5h.3M652.0 404.1h.3M653.3 403.8h.3M654.7 403.9h.3M656.0 404.0h.3M657.4 403.8h.3M658.7 403.5h.3M660.1 403.1h.3M661.4 403.8h.3M662.8 403.5h.3M664.1 403.6h.3M665.5 404.1h.3M666.8 403.2h.3M668.2 403.9h.3M669.5 403.1h.3M670.9 403.8h.3M672.2 404.0h.3M673.6 403.3h.3M674.9 403.7h.3" fill="none" stroke="#5f5f5f" stroke-width="2.6" stroke-linecap="round"/><path d="M462 469.3 L462.6 469.3 L463.2 469.2 L463.8 469.2 L464.4 469.2 L465 469.2 L465.6 469.1 L466.2 469.1 L466.8 469 L467.4 469 L468 468.9 L468.6 468.9 L469.2 468.8 L469.8 468.8 L470.4 468.7 L471 468.6 L471.6 468.5 L472.2 468.4 L472.8 468.3 L473.4 468.2 L474 468.1 L474.6 468 L475.2 467.9 L475.8 467.7 L476.4 467.6 L477 467.4 L477.6 467.3 L478.2 467.1 L478.8 466.9 L479.4 466.7 L480 466.5 L480.6 466.2 L481.2 466 L481.8 465.7 L482.4 465.4 L483 465.1 L483.6 464.8 L484.2 464.5 L484.8 464.1 L485.4 463.7 L486 463.3 L486.6 462.9 L487.2 462.5 L487.8 462 L488.4 461.5 L489 461 L489.6 460.5 L490.2 459.9 L490.8 459.4 L491.4 458.8 L492 458.1 L492.6 457.5 L493.2 456.8 L493.8 456.1 L494.4 455.4 L495 454.6 L495.6 453.8 L496.2 453 L496.8 452.2 L497.4 451.3 L498 450.5 L498.6 449.6 L499.2 448.6 L499.8 447.7 L500.4 446.7 L501 445.7 L501.6 444.7 L502.2 443.7 L502.8 442.6 L503.4 441.6 L504 440.5 L504.6 439.4 L505.2 438.3 L505.8 437.2 L506.4 436.1 L507 434.9 L507.6 433.8 L508.2 432.7 L508.8 431.6 L509.4 430.4 L510 429.3 L510.6 428.2 L511.2 427.1 L511.8 426 L512.4 424.9 L513 423.8 L513.6 422.8 L514.2 421.7 L514.8 420.7 L515.4 419.8 L516 418.8 L516.6 417.9 L517.2 417 L517.8 416.1 L518.4 415.3 L519 414.6 L519.6 413.8 L520.2 413.1 L520.8 412.5 L521.4 411.9 L522 411.3 L522.6 410.8 L523.2 410.4 L523.8 410 L524.4 409.7 L525 409.4 L525.6 409.2 L526.2 409 L526.8 408.9 L527.4 408.8 L528 408.8 L528.6 408.9 L529.2 409 L529.8 409.2 L530.4 409.5 L531 409.8 L531.6 410.2 L532.2 410.7 L532.8 411.2 L533.4 411.8 L534 412.4 L534.6 413.1 L535.2 413.8 L535.8 414.6 L536.4 415.5 L537 416.4 L537.6 417.3 L538.2 418.3 L538.8 419.3 L539.4 420.4 L540 421.4 L540.6 422.5 L541.2 423.7 L541.8 424.8 L542.4 426 L543 427.2 L543.6 428.4 L544.2 429.6 L544.8 430.8 L545.4 432.1 L546 433.3 L546.6 434.5 L547.2 435.7 L547.8 437 L548.4 438.2 L549 439.4 L549.6 440.5 L550.2 441.7 L550.8 442.9 L551.4 444 L552 445.1 L552.6 446.2 L553.2 447.2 L553.8 448.3 L554.4 449.3 L555 450.3 L555.6 451.2 L556.2 452.2 L556.8 453.1 L557.4 453.9 L558 454.8 L558.6 455.6 L559.2 456.4 L559.8 457.1 L560.4 457.8 L561 458.5 L561.6 459.2 L562.2 459.8 L562.8 460.4 L563.4 461 L564 461.6 L564.6 462.1 L565.2 462.6 L565.8 463 L566.4 463.5 L567 463.9 L567.6 464.3 L568.2 464.7 L568.8 465 L569.4 465.4 L570 465.7 L570.6 466 L571.2 466.2 L571.8 466.5 L572.4 466.7 L573 466.9 L573.6 467.1 L574.2 467.3 L574.8 467.5 L575.4 467.7 L576 467.8 L576.6 468 L577.2 468.1 L577.8 468.2 L578.4 468.4 L579 468.5 L579.6 468.5 L580.2 468.6 L580.8 468.7 L581.4 468.8 L582 468.9 L582.6 468.9 L583.2 469 L583.8 469 L584.4 469.1 L585 469.1 L585.6 469.2 L586.2 469.2 L586.8 469.2 L587.4 469.3 L588 469.3 L588.6 469.3 L589.2 469.3 L589.8 469.3 L590.4 469.4 L591 469.4 L591.6 469.4 L592.2 469.4 L592.8 469.4 L593.4 469.4 L594 469.4 L594.6 469.4 L595.2 469.4 L595.8 469.5 L596.4 469.5 L597 469.5 L597.6 469.5" fill="none" stroke="#3a6cf2" stroke-width="1.45" stroke-linejoin="round" stroke-linecap="round" /><path d="M462 469.5 L462.6 469.5 L463.2 469.5 L463.8 469.5 L464.4 469.5 L465 469.5 L465.6 469.5 L466.2 469.5 L466.8 469.5 L467.4 469.5 L468 469.5 L468.6 469.5 L469.2 469.5 L469.8 469.5 L470.4 469.5 L471 469.5 L471.6 469.5 L472.2 469.5 L472.8 469.5 L473.4 469.5 L474 469.5 L474.6 469.5 L475.2 469.5 L475.8 469.5 L476.4 469.5 L477 469.5 L477.6 469.5 L478.2 469.5 L478.8 469.5 L479.4 469.5 L480 469.5 L480.6 469.5 L481.2 469.5 L481.8 469.5 L482.4 469.5 L483 469.5 L483.6 469.5 L484.2 469.5 L484.8 469.5 L485.4 469.5 L486 469.5 L486.6 469.5 L487.2 469.5 L487.8 469.5 L488.4 469.5 L489 469.5 L489.6 469.5 L490.2 469.5 L490.8 469.5 L491.4 469.5 L492 469.5 L492.6 469.5 L493.2 469.5 L493.8 469.5 L494.4 469.5 L495 469.5 L495.6 469.5 L496.2 469.5 L496.8 469.5 L497.4 469.5 L498 469.5 L498.6 469.5 L499.2 469.5 L499.8 469.5 L500.4 469.5 L501 469.5 L501.6 469.5 L502.2 469.5 L502.8 469.5 L503.4 469.5 L504 469.5 L504.6 469.5 L505.2 469.5 L505.8 469.5 L506.4 469.5 L507 469.5 L507.6 469.5 L508.2 469.5 L508.8 469.5 L509.4 469.5 L510 469.5 L510.6 469.5 L511.2 469.5 L511.8 469.5 L512.4 469.5 L513 469.5 L513.6 469.5 L514.2 469.5 L514.8 469.5 L515.4 469.5 L516 469.5 L516.6 469.5 L517.2 469.5 L517.8 469.5 L518.4 469.5 L519 469.5 L519.6 469.5 L520.2 469.5 L520.8 469.5 L521.4 469.5 L522 469.5 L522.6 469.5 L523.2 469.4 L523.8 469.4 L524.4 469.4 L525 469.4 L525.6 469.4 L526.2 469.4 L526.8 469.4 L527.4 469.3 L528 469.3 L528.6 469.3 L529.2 469.2 L529.8 469.2 L530.4 469.1 L531 469 L531.6 469 L532.2 468.9 L532.8 468.8 L533.4 468.7 L534 468.6 L534.6 468.4 L535.2 468.3 L535.8 468.1 L536.4 468 L537 467.8 L537.6 467.6 L538.2 467.3 L538.8 467.1 L539.4 466.8 L540 466.5 L540.6 466.2 L541.2 465.9 L541.8 465.5 L542.4 465.2 L543 464.8 L543.6 464.4 L544.2 464 L544.8 463.5 L545.4 463.1 L546 462.6 L546.6 462.2 L547.2 461.7 L547.8 461.2 L548.4 460.7 L549 460.3 L549.6 459.8 L550.2 459.3 L550.8 458.9 L551.4 458.4 L552 458 L552.6 457.7 L553.2 457.3 L553.8 457 L554.4 456.7 L555 456.4 L555.6 456.2 L556.2 456 L556.8 455.9 L557.4 455.8 L558 455.7 L558.6 455.7 L559.2 455.7 L559.8 455.8 L560.4 455.9 L561 456.1 L561.6 456.3 L562.2 456.6 L562.8 456.9 L563.4 457.2 L564 457.5 L564.6 457.9 L565.2 458.3 L565.8 458.7 L566.4 459.2 L567 459.6 L567.6 460.1 L568.2 460.6 L568.8 461.1 L569.4 461.5 L570 462 L570.6 462.5 L571.2 462.9 L571.8 463.4 L572.4 463.8 L573 464.3 L573.6 464.7 L574.2 465.1 L574.8 465.4 L575.4 465.8 L576 466.1 L576.6 466.4 L577.2 466.7 L577.8 467 L578.4 467.3 L579 467.5 L579.6 467.7 L580.2 467.9 L580.8 468.1 L581.4 468.2 L582 468.4 L582.6 468.5 L583.2 468.7 L583.8 468.8 L584.4 468.9 L585 468.9 L585.6 469 L586.2 469.1 L586.8 469.1 L587.4 469.2 L588 469.2 L588.6 469.3 L589.2 469.3 L589.8 469.3 L590.4 469.4 L591 469.4 L591.6 469.4 L592.2 469.4 L592.8 469.4 L593.4 469.4 L594 469.5 L594.6 469.5 L595.2 469.5 L595.8 469.5 L596.4 469.5 L597 469.5 L597.6 469.5" fill="none" stroke="#3a6cf2" stroke-width="1.45" stroke-linejoin="round" stroke-linecap="round" /><line x1="462" y1="470.4" x2="598" y2="470.4" stroke="#f07070" stroke-width="1.2"/><path d="M460 470.3 L460.5 470.3 L461 470.2 L461.5 470.2 L462 470.2 L462.5 470.2 L463 470.2 L463.5 470.1 L464 470.1 L464.5 470.1 L465 470.1 L465.5 470 L466 470 L466.5 470 L467 469.9 L467.5 469.9 L468 469.8 L468.5 469.8 L469 469.7 L469.5 469.7 L470 469.6 L470.5 469.5 L471 469.4 L471.5 469.3 L472 469.2 L472.5 469.1 L473 469 L473.5 468.9 L474 468.8 L474.5 468.7 L475 468.5 L475.5 468.4 L476 468.3 L476.5 468.1 L477 467.9 L477.5 467.8 L478 467.6 L478.5 467.4 L479 467.2 L479.5 467 L480 466.8 L480.5 466.6 L481 466.4 L481.5 466.2 L482 466 L482.5 465.7 L483 465.5 L483.5 465.3 L484 465 L484.5 464.7 L485 464.5 L485.5 464.2 L486 463.8 L486.5 463.5 L487 463.2 L487.5 462.8 L488 462.4 L488.5 462 L489 461.6 L489.5 461.1 L490 460.6 L490.5 460.2 L491 459.6 L491.5 459.1 L492 458.6 L492.5 458 L493 457.4 L493.5 456.8 L494 456.2 L494.5 455.6 L495 455 L495.5 454.3 L496 453.6 L496.5 452.8 L497 452.1 L497.5 451.3 L498 450.5 L498.5 449.6 L499 448.8 L499.5 448 L500 447.2 L500.5 446.3 L501 445.5 L501.5 444.6 L502 443.7 L502.5 442.8 L503 442 L503.5 441.1 L504 440.2 L504.5 439.3 L505 438.4 L505.5 437.5 L506 436.6 L506.5 435.8 L507 434.9 L507.5 434 L508 433.2 L508.5 432.3 L509 431.4 L509.5 430.6 L510 429.7 L510.5 428.8 L511 427.9 L511.5 427.1 L512 426.2 L512.5 425.3 L513 424.4 L513.5 423.4 L514 422.5 L514.5 421.6 L515 420.7 L515.5 419.9 L516 419 L516.5 418.2 L517 417.5 L517.5 416.7 L518 416.1 L518.5 415.4 L519 414.9 L519.5 414.3 L520 413.8 L520.5 413.4 L521 412.9 L521.5 412.4 L522 412 L522.5 411.5 L523 411.1 L523.5 410.7 L524 410.3 L524.5 409.9 L525 409.5 L525.5 409.2 L526 408.9 L526.5 408.6 L527 408.3 L527.5 408.1 L528 407.9 L528.5 407.8 L529 407.9 L529.5 408.1 L530 408.4 L530.5 408.7 L531 409.1 L531.5 409.5 L532 409.9 L532.5 410.3 L533 410.8 L533.5 411.2 L534 411.7 L534.5 412.2 L535 412.7 L535.5 413.2 L536 413.7 L536.5 414.2 L537 414.8 L537.5 415.3 L538 415.8 L538.5 416.4 L539 417 L539.5 417.6 L540 418.1 L540.5 418.7 L541 419.3 L541.5 419.9 L542 420.5 L542.5 421.1 L543 421.8 L543.5 422.4 L544 423 L544.5 423.7 L545 424.3 L545.5 424.9 L546 425.6 L546.5 426.2 L547 426.8 L547.5 427.4 L548 428 L548.5 428.5 L549 429.1 L549.5 429.7 L550 430.3 L550.5 430.8 L551 431.4 L551.5 431.9 L552 432.5 L552.5 433.1 L553 433.6 L553.5 434.2 L554 434.8 L554.5 435.3 L555 435.9 L555.5 436.5 L556 437 L556.5 437.6 L557 438.1 L557.5 438.7 L558 439.3 L558.5 439.8 L559 440.4 L559.5 440.9 L560 441.5 L560.5 442 L561 442.5 L561.5 443.1 L562 443.6 L562.5 444.2 L563 444.8 L563.5 445.4 L564 446 L564.5 446.6 L565 447.3 L565.5 448 L566 448.6 L566.5 449.4 L567 450.1 L567.5 450.8 L568 451.5 L568.5 452.2 L569 452.9 L569.5 453.5 L570 454.1 L570.5 454.8 L571 455.4 L571.5 455.9 L572 456.5 L572.5 457.1 L573 457.6 L573.5 458.2 L574 458.7 L574.5 459.2 L575 459.8 L575.5 460.3 L576 460.8 L576.5 461.4 L577 461.9 L577.5 462.4 L578 463 L578.5 463.5 L579 464 L579.5 464.4 L580 464.9 L580.5 465.3 L581 465.7 L581.5 466.1 L582 466.5 L582.5 466.8 L583 467.2 L583.5 467.5 L584 467.7 L584.5 468 L585 468.2 L585.5 468.4 L586 468.6 L586.5 468.7 L587 468.9 L587.5 469 L588 469.1 L588.5 469.2 L589 469.3 L589.5 469.4 L590 469.4 L590.5 469.5 L591 469.5 L591.5 469.6 L592 469.6 L592.5 469.7 L593 469.7 L593.5 469.8 L594 469.8 L594.5 469.8 L595 469.9 L595.5 469.9 L596 469.9 L596.5 470 L597 470 L597.5 470 L598 470.1 L598.5 470.1 L599 470.1 L599.5 470.1 L600 470.1 L600.5 470.2 L601 470.2 L601.5 470.2 L602 470.2 L602.5 470.2 L603 470.3 L603.5 470.3 L604 470.3 L604.5 470.3 L605 470.3 L605.5 470.4 L606 470.4 L606.5 470.4 L607 470.4 L607.5 470.4 L608 470.4 L608.5 470.5 L609 470.5 L609.5 470.5" fill="none" stroke="#e04c58" stroke-width="1.15" stroke-linejoin="round" stroke-linecap="round" /><path d="M386.0 471.6h.3M387.4 471.2h.3M388.7 471.1h.3M390.1 470.7h.3M391.4 470.5h.3M392.8 470.8h.3M394.1 470.9h.3M395.5 470.6h.3M396.8 470.8h.3M398.2 470.6h.3M399.5 471.2h.3M400.9 471.2h.3M402.2 470.7h.3M403.6 470.7h.3M404.9 471.0h.3M406.3 470.9h.3M407.6 471.5h.3M409.0 470.8h.3M410.3 470.8h.3M411.7 471.5h.3M413.0 470.6h.3M414.4 471.1h.3M415.7 470.8h.3M417.1 471.4h.3M418.4 471.1h.3M419.8 471.3h.3M421.1 470.6h.3M422.5 471.2h.3M423.8 471.1h.3M425.2 471.0h.3M426.5 471.3h.3M427.9 471.4h.3M429.2 470.5h.3M430.6 470.7h.3M431.9 470.8h.3M433.3 470.6h.3M434.6 470.5h.3M436.0 470.7h.3M437.3 470.6h.3M438.7 471.2h.3M440.0 470.9h.3M441.4 470.5h.3M442.7 470.8h.3M444.1 471.0h.3M445.4 470.8h.3M446.8 470.6h.3M448.1 470.5h.3M449.5 470.4h.3M450.8 471.6h.3M452.2 471.3h.3M453.5 470.5h.3M454.9 471.3h.3M456.2 471.6h.3M457.6 470.9h.3M458.9 470.1h.3M460.3 470.3h.3M461.6 470.1h.3M463.0 469.8h.3M464.3 470.1h.3M465.7 469.4h.3M467.0 470.4h.3M468.4 470.0h.3M469.7 469.8h.3M471.1 469.9h.3M472.4 469.4h.3M473.8 468.6h.3M475.1 468.2h.3M476.5 467.7h.3M477.8 467.1h.3M479.2 467.5h.3M480.5 467.0h.3M481.9 465.8h.3M483.2 465.0h.3M484.6 464.9h.3M485.9 464.3h.3M487.3 463.5h.3M488.6 461.5h.3M490.0 461.0h.3M491.3 459.7h.3M492.7 458.1h.3M494.0 456.0h.3M495.4 454.1h.3M496.7 452.9h.3M498.1 450.2h.3M499.4 448.0h.3M500.8 446.0h.3M502.1 443.4h.3M503.5 441.5h.3M504.8 438.4h.3M506.2 435.8h.3M507.5 434.1h.3M508.9 431.8h.3M510.2 429.7h.3M511.6 427.2h.3M512.9 425.0h.3M514.3 422.6h.3M515.6 419.7h.3M517.0 417.5h.3M518.3 415.3h.3M519.7 413.9h.3M521.0 413.0h.3M522.4 411.2h.3M523.7 410.8h.3M525.1 409.1h.3M526.4 408.5h.3M527.8 408.5h.3M529.1 407.5h.3M530.5 408.1h.3M531.8 409.6h.3M533.2 410.5h.3M534.5 412.5h.3M535.9 413.0h.3M537.2 415.4h.3M538.6 416.9h.3M539.9 418.4h.3M541.3 419.5h.3M542.6 421.0h.3M544.0 423.2h.3M545.3 424.7h.3M546.7 426.3h.3M548.0 427.8h.3M549.4 429.4h.3M550.7 431.2h.3M552.1 433.0h.3M553.4 434.6h.3M554.8 435.2h.3M556.1 436.9h.3M557.5 438.6h.3M558.8 440.2h.3M560.2 441.4h.3M561.5 442.7h.3M562.9 444.1h.3M564.2 446.0h.3M565.6 448.0h.3M566.9 450.5h.3M568.3 452.3h.3M569.6 454.1h.3M571.0 455.9h.3M572.3 457.4h.3M573.7 458.5h.3M575.0 460.1h.3M576.4 460.7h.3M577.7 462.8h.3M579.1 464.1h.3M580.4 465.0h.3M581.8 466.4h.3M583.1 467.8h.3M584.5 467.9h.3M585.8 468.7h.3M587.2 468.7h.3M588.5 469.0h.3M589.9 469.9h.3M591.2 469.0h.3M592.6 469.3h.3M593.9 470.0h.3M595.3 469.8h.3M596.6 469.5h.3M598.0 470.2h.3M599.3 470.0h.3M600.7 470.3h.3M602.0 470.1h.3M603.4 470.3h.3M604.7 470.4h.3M606.1 470.3h.3M607.4 470.0h.3M608.8 470.1h.3M610.1 471.0h.3M611.5 470.8h.3M612.8 470.4h.3M614.2 471.3h.3M615.5 470.6h.3M616.9 470.4h.3M618.2 470.9h.3M619.6 470.6h.3M620.9 470.9h.3M622.3 471.0h.3M623.6 470.6h.3M625.0 471.0h.3M626.3 470.4h.3M627.7 470.9h.3M629.0 471.0h.3M630.4 470.4h.3M631.7 470.8h.3M633.1 470.4h.3M634.4 470.8h.3M635.8 471.3h.3M637.1 471.0h.3M638.5 471.2h.3M639.8 471.2h.3M641.2 470.4h.3M642.5 471.5h.3M643.9 471.2h.3M645.2 470.4h.3M646.6 471.3h.3M647.9 470.8h.3M649.3 470.5h.3M650.6 471.5h.3M652.0 471.0h.3M653.3 471.2h.3M654.7 470.5h.3M656.0 471.2h.3M657.4 470.4h.3M658.7 470.6h.3M660.1 470.7h.3M661.4 470.3h.3M662.8 471.0h.3M664.1 470.6h.3M665.5 470.7h.3M666.8 471.1h.3M668.2 470.8h.3M669.5 471.4h.3M670.9 471.0h.3M672.2 471.3h.3M673.6 471.0h.3M674.9 471.4h.3" fill="none" stroke="#111" stroke-width="2.6" stroke-linecap="round"/><text x="389.8" y="319.2" font-size="11" fill="#a6a6a6" stroke="#a6a6a6" stroke-width="0.18" font-weight="bold" font-style="italic" text-anchor="start" >SG3/CBD/GO</text><text x="388.4" y="398.3" font-size="11" fill="#6e6e6e" stroke="#6e6e6e" stroke-width="0.18" font-weight="bold" font-style="italic" text-anchor="start" >SG3/GO</text><text x="388.4" y="465.9" font-size="11" fill="#111" stroke="#111" stroke-width="0.18" font-weight="bold" font-style="italic" text-anchor="start" >SG3</text><text x="546.6" y="274.4" fill="#34558f" stroke="#34558f" stroke-width="0.15" font-weight="bold" font-style="italic"><tspan font-size="9.5">Si-</tspan><tspan font-size="9.5">o</tspan></text><text x="578.3" y="295.7" fill="#34558f" stroke="#34558f" stroke-width="0.15" font-weight="bold" font-style="italic"><tspan font-size="9.5">Si-</tspan><tspan font-size="9.5">o-c</tspan></text><line x1="545.2" y1="271.5" x2="530" y2="273.4" stroke="#34558f" stroke-width="0.8"/><line x1="577.4" y1="295.5" x2="555.9" y2="303.7" stroke="#34558f" stroke-width="0.8"/></svg></body></html>
